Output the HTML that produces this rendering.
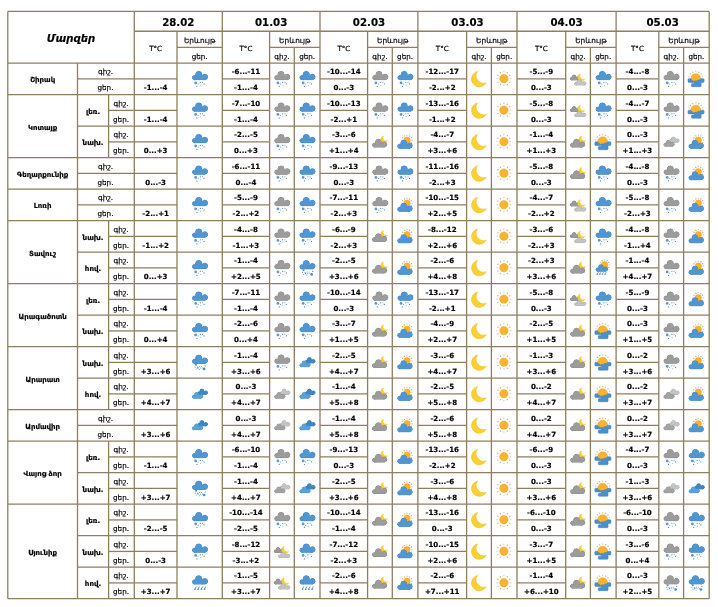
<!DOCTYPE html>
<html><head><meta charset="utf-8"><title>Մարզեր</title>
<style>
html,body{margin:0;padding:0;background:#fff;width:718px;height:607px;overflow:hidden}
svg{display:block}
text{font-family:'DejaVu Sans', 'Liberation Sans', sans-serif;fill:#000;text-anchor:middle;stroke:#000;stroke-width:0.18px}
</style></head><body>
<svg width="718" height="607" viewBox="0 0 718 607">
<rect width="718" height="607" fill="#fff"/>
<g><g transform="translate(199.65 78.9)"><g transform="translate(0 0) scale(1)"><g fill="#3c80bf" stroke="#3c80bf" stroke-width="0.8"><circle cx="-5.1" cy="-1.3" r="2.1"/><circle cx="-0.9" cy="-4.4" r="3.1"/><circle cx="5.2" cy="-2" r="2.7"/><rect x="-5.1" y="-2.6" width="10.3" height="3.4"/></g><g fill="#4f96d2"><circle cx="-5.1" cy="-1.3" r="2.1"/><circle cx="-0.9" cy="-4.4" r="3.1"/><circle cx="5.2" cy="-2" r="2.7"/><rect x="-5.1" y="-2.6" width="10.3" height="3.4"/></g></g><g fill="#4a88c0"><circle cx="-4" cy="4" r="1.4" fill="#5e98cc"/><circle cx="0.7" cy="3.4" r="0.6"/><circle cx="2.9" cy="3.4" r="0.5"/><circle cx="-1.5" cy="5.2" r="0.5"/><circle cx="4.4" cy="5" r="0.6"/><circle cx="1" cy="6.3" r="0.45"/><circle cx="-2.7" cy="7.5" r="0.6"/></g></g><g transform="translate(281.95 78.9)"><g transform="translate(0 0) scale(1)"><g fill="#828282" stroke="#828282" stroke-width="0.8"><circle cx="-5.1" cy="-1.3" r="2.1"/><circle cx="-0.9" cy="-4.4" r="3.1"/><circle cx="5.2" cy="-2" r="2.7"/><rect x="-5.1" y="-2.6" width="10.3" height="3.4"/></g><g fill="#9c9c9c"><circle cx="-5.1" cy="-1.3" r="2.1"/><circle cx="-0.9" cy="-4.4" r="3.1"/><circle cx="5.2" cy="-2" r="2.7"/><rect x="-5.1" y="-2.6" width="10.3" height="3.4"/></g></g><g fill="#4a88c0"><circle cx="-4" cy="4" r="1.4" fill="#5e98cc"/><circle cx="0.7" cy="3.4" r="0.6"/><circle cx="2.9" cy="3.4" r="0.5"/><circle cx="-1.5" cy="5.2" r="0.5"/><circle cx="4.4" cy="5" r="0.6"/><circle cx="1" cy="6.3" r="0.45"/><circle cx="-2.7" cy="7.5" r="0.6"/></g></g><g transform="translate(307.15 78.9)"><g transform="translate(0 0) scale(1)"><g fill="#3c80bf" stroke="#3c80bf" stroke-width="0.8"><circle cx="-5.1" cy="-1.3" r="2.1"/><circle cx="-0.9" cy="-4.4" r="3.1"/><circle cx="5.2" cy="-2" r="2.7"/><rect x="-5.1" y="-2.6" width="10.3" height="3.4"/></g><g fill="#4f96d2"><circle cx="-5.1" cy="-1.3" r="2.1"/><circle cx="-0.9" cy="-4.4" r="3.1"/><circle cx="5.2" cy="-2" r="2.7"/><rect x="-5.1" y="-2.6" width="10.3" height="3.4"/></g></g><g fill="#4a88c0"><circle cx="-4" cy="4" r="1.4" fill="#5e98cc"/><circle cx="0.7" cy="3.4" r="0.6"/><circle cx="2.9" cy="3.4" r="0.5"/><circle cx="-1.5" cy="5.2" r="0.5"/><circle cx="4.4" cy="5" r="0.6"/><circle cx="1" cy="6.3" r="0.45"/><circle cx="-2.7" cy="7.5" r="0.6"/></g></g><g transform="translate(379.95 78.9)"><g transform="translate(0 0) scale(1)"><g fill="#828282" stroke="#828282" stroke-width="0.8"><circle cx="-5.1" cy="-1.3" r="2.1"/><circle cx="-0.9" cy="-4.4" r="3.1"/><circle cx="5.2" cy="-2" r="2.7"/><rect x="-5.1" y="-2.6" width="10.3" height="3.4"/></g><g fill="#9c9c9c"><circle cx="-5.1" cy="-1.3" r="2.1"/><circle cx="-0.9" cy="-4.4" r="3.1"/><circle cx="5.2" cy="-2" r="2.7"/><rect x="-5.1" y="-2.6" width="10.3" height="3.4"/></g></g><g fill="#4a88c0"><circle cx="-4" cy="4" r="1.4" fill="#5e98cc"/><circle cx="0.7" cy="3.4" r="0.6"/><circle cx="2.9" cy="3.4" r="0.5"/><circle cx="-1.5" cy="5.2" r="0.5"/><circle cx="4.4" cy="5" r="0.6"/><circle cx="1" cy="6.3" r="0.45"/><circle cx="-2.7" cy="7.5" r="0.6"/></g></g><g transform="translate(405.1 78.9)"><g transform="translate(0 0) scale(1)"><g fill="#3c80bf" stroke="#3c80bf" stroke-width="0.8"><circle cx="-5.1" cy="-1.3" r="2.1"/><circle cx="-0.9" cy="-4.4" r="3.1"/><circle cx="5.2" cy="-2" r="2.7"/><rect x="-5.1" y="-2.6" width="10.3" height="3.4"/></g><g fill="#4f96d2"><circle cx="-5.1" cy="-1.3" r="2.1"/><circle cx="-0.9" cy="-4.4" r="3.1"/><circle cx="5.2" cy="-2" r="2.7"/><rect x="-5.1" y="-2.6" width="10.3" height="3.4"/></g></g><g fill="#4a88c0"><circle cx="-4" cy="4" r="1.4" fill="#5e98cc"/><circle cx="0.7" cy="3.4" r="0.6"/><circle cx="2.9" cy="3.4" r="0.5"/><circle cx="-1.5" cy="5.2" r="0.5"/><circle cx="4.4" cy="5" r="0.6"/><circle cx="1" cy="6.3" r="0.45"/><circle cx="-2.7" cy="7.5" r="0.6"/></g></g><g transform="translate(479 78.9)"><path d="M7.21 3.73A7.8 7.8 0 1 1 -1.42 -7.51A7.4 7.4 0 0 0 7.21 3.73Z" fill="#fcd02f" stroke="#e8b820" stroke-width="0.5"/></g><g transform="translate(504.2 78.9)"><circle cx="6.6" cy="-0.25" r="0.7" fill="#d7c9b4"/><circle cx="5.68" cy="3.2" r="0.7" fill="#d9a86a"/><circle cx="3.15" cy="5.73" r="0.7" fill="#d9a86a"/><circle cx="-0.3" cy="6.65" r="0.7" fill="#d7c9b4"/><circle cx="-3.75" cy="5.73" r="0.7" fill="#d9a86a"/><circle cx="-6.28" cy="3.2" r="0.7" fill="#d9a86a"/><circle cx="-7.2" cy="-0.25" r="0.7" fill="#d7c9b4"/><circle cx="-6.28" cy="-3.7" r="0.7" fill="#d9a86a"/><circle cx="-3.75" cy="-6.23" r="0.7" fill="#d9a86a"/><circle cx="-0.3" cy="-7.15" r="0.7" fill="#d7c9b4"/><circle cx="3.15" cy="-6.23" r="0.7" fill="#d9a86a"/><circle cx="5.68" cy="-3.7" r="0.7" fill="#d9a86a"/><circle cx="-0.3" cy="-0.25" r="4.2" fill="#fdb32b" stroke="#f0a020" stroke-width="0.5"/></g><g transform="translate(578.05 78.9)"><g transform="translate(-3.4 0.6) scale(0.6)"><g fill="#858585" stroke="#858585" stroke-width="1.33"><circle cx="-5.1" cy="-1.3" r="2.1"/><circle cx="-0.9" cy="-4.4" r="3.1"/><circle cx="5.2" cy="-2" r="2.7"/><rect x="-5.1" y="-2.6" width="10.3" height="3.4"/></g><g fill="#9a9a9a"><circle cx="-5.1" cy="-1.3" r="2.1"/><circle cx="-0.9" cy="-4.4" r="3.1"/><circle cx="5.2" cy="-2" r="2.7"/><rect x="-5.1" y="-2.6" width="10.3" height="3.4"/></g></g><path d="M6.82 -0.03A3.8 3.8 0 1 1 2.34 -5.35A3.6 3.6 0 0 0 6.82 -0.03Z" fill="#fcd02f" stroke="#e8b820" stroke-width="0.3"/><g transform="translate(1.9 5.6) scale(1.25 1)"><g transform="translate(0 0) scale(0.6)"><g fill="#ababab" stroke="#ababab" stroke-width="1.33"><circle cx="-5.1" cy="-1.3" r="2.1"/><circle cx="-0.9" cy="-4.4" r="3.1"/><circle cx="5.2" cy="-2" r="2.7"/><rect x="-5.1" y="-2.6" width="10.3" height="3.4"/></g><g fill="#c4c4c4"><circle cx="-5.1" cy="-1.3" r="2.1"/><circle cx="-0.9" cy="-4.4" r="3.1"/><circle cx="5.2" cy="-2" r="2.7"/><rect x="-5.1" y="-2.6" width="10.3" height="3.4"/></g></g></g></g><g transform="translate(603.25 78.9)"><g transform="translate(0 0) scale(1)"><g fill="#3c80bf" stroke="#3c80bf" stroke-width="0.8"><circle cx="-5.1" cy="-1.3" r="2.1"/><circle cx="-0.9" cy="-4.4" r="3.1"/><circle cx="5.2" cy="-2" r="2.7"/><rect x="-5.1" y="-2.6" width="10.3" height="3.4"/></g><g fill="#4f96d2"><circle cx="-5.1" cy="-1.3" r="2.1"/><circle cx="-0.9" cy="-4.4" r="3.1"/><circle cx="5.2" cy="-2" r="2.7"/><rect x="-5.1" y="-2.6" width="10.3" height="3.4"/></g></g><g fill="#4a88c0"><circle cx="-4" cy="4" r="1.4" fill="#5e98cc"/><circle cx="0.7" cy="3.4" r="0.6"/><circle cx="2.9" cy="3.4" r="0.5"/><circle cx="-1.5" cy="5.2" r="0.5"/><circle cx="4.4" cy="5" r="0.6"/><circle cx="1" cy="6.3" r="0.45"/><circle cx="-2.7" cy="7.5" r="0.6"/></g></g><g transform="translate(671.2 78.9)"><g transform="translate(0 0) scale(1)"><g fill="#828282" stroke="#828282" stroke-width="0.8"><circle cx="-5.1" cy="-1.3" r="2.1"/><circle cx="-0.9" cy="-4.4" r="3.1"/><circle cx="5.2" cy="-2" r="2.7"/><rect x="-5.1" y="-2.6" width="10.3" height="3.4"/></g><g fill="#9c9c9c"><circle cx="-5.1" cy="-1.3" r="2.1"/><circle cx="-0.9" cy="-4.4" r="3.1"/><circle cx="5.2" cy="-2" r="2.7"/><rect x="-5.1" y="-2.6" width="10.3" height="3.4"/></g></g><g fill="#4a88c0"><circle cx="-4" cy="4" r="1.4" fill="#5e98cc"/><circle cx="0.7" cy="3.4" r="0.6"/><circle cx="2.9" cy="3.4" r="0.5"/><circle cx="-1.5" cy="5.2" r="0.5"/><circle cx="4.4" cy="5" r="0.6"/><circle cx="1" cy="6.3" r="0.45"/><circle cx="-2.7" cy="7.5" r="0.6"/></g></g><g transform="translate(696.4 78.9)"><circle cx="6.23" cy="-2.41" r="0.7" fill="#d7c9b4"/><circle cx="4.73" cy="-5.01" r="0.7" fill="#d9a86a"/><circle cx="2.31" cy="-6.77" r="0.7" fill="#d9a86a"/><circle cx="-0.62" cy="-7.39" r="0.7" fill="#d7c9b4"/><circle cx="-3.55" cy="-6.77" r="0.7" fill="#d9a86a"/><circle cx="-5.97" cy="-5.01" r="0.7" fill="#d9a86a"/><circle cx="-7.47" cy="-2.41" r="0.7" fill="#d7c9b4"/><path d="M-5.62 -0.19A5 5 0 0 1 4.38 -0.19V3H-5.62Z" fill="#fdb32b" stroke="#f0a020" stroke-width="0.5"/><path d="M-8.4 0.6Q-8.4 -0.2 -7.6 -0.2H-5.6L-4.9 1.3L-3.6 1.6L-2.6 2.5L-1.4 1.9L0.2 2.0L1.4 1.2L3.2 1.0L4.4 -0.2H6.9Q7.7 -0.2 7.7 0.8V2.6Q7.7 3.5 6.7 3.5H4.8V7Q4.8 7.8 4 7.8H-4.2Q-4.96 7.8 -4.96 7V5.5Q-4.96 4.7 -4.2 4.7H-2.07V3.5H-7.6Q-8.4 3.5 -8.4 2.8Z" fill="#4a90cc" stroke="#3b7fbd" stroke-width="0.5"/></g><g transform="translate(199.65 110.4)"><g transform="translate(0 0) scale(1)"><g fill="#3c80bf" stroke="#3c80bf" stroke-width="0.8"><circle cx="-5.1" cy="-1.3" r="2.1"/><circle cx="-0.9" cy="-4.4" r="3.1"/><circle cx="5.2" cy="-2" r="2.7"/><rect x="-5.1" y="-2.6" width="10.3" height="3.4"/></g><g fill="#4f96d2"><circle cx="-5.1" cy="-1.3" r="2.1"/><circle cx="-0.9" cy="-4.4" r="3.1"/><circle cx="5.2" cy="-2" r="2.7"/><rect x="-5.1" y="-2.6" width="10.3" height="3.4"/></g></g><g fill="#4a88c0"><circle cx="-4" cy="4" r="1.4" fill="#5e98cc"/><circle cx="0.7" cy="3.4" r="0.6"/><circle cx="2.9" cy="3.4" r="0.5"/><circle cx="-1.5" cy="5.2" r="0.5"/><circle cx="4.4" cy="5" r="0.6"/><circle cx="1" cy="6.3" r="0.45"/><circle cx="-2.7" cy="7.5" r="0.6"/></g></g><g transform="translate(281.95 110.4)"><g transform="translate(0 0) scale(1)"><g fill="#828282" stroke="#828282" stroke-width="0.8"><circle cx="-5.1" cy="-1.3" r="2.1"/><circle cx="-0.9" cy="-4.4" r="3.1"/><circle cx="5.2" cy="-2" r="2.7"/><rect x="-5.1" y="-2.6" width="10.3" height="3.4"/></g><g fill="#9c9c9c"><circle cx="-5.1" cy="-1.3" r="2.1"/><circle cx="-0.9" cy="-4.4" r="3.1"/><circle cx="5.2" cy="-2" r="2.7"/><rect x="-5.1" y="-2.6" width="10.3" height="3.4"/></g></g><g fill="#4a88c0"><circle cx="-4" cy="4" r="1.4" fill="#5e98cc"/><circle cx="0.7" cy="3.4" r="0.6"/><circle cx="2.9" cy="3.4" r="0.5"/><circle cx="-1.5" cy="5.2" r="0.5"/><circle cx="4.4" cy="5" r="0.6"/><circle cx="1" cy="6.3" r="0.45"/><circle cx="-2.7" cy="7.5" r="0.6"/></g></g><g transform="translate(307.15 110.4)"><g transform="translate(0 0) scale(1)"><g fill="#3c80bf" stroke="#3c80bf" stroke-width="0.8"><circle cx="-5.1" cy="-1.3" r="2.1"/><circle cx="-0.9" cy="-4.4" r="3.1"/><circle cx="5.2" cy="-2" r="2.7"/><rect x="-5.1" y="-2.6" width="10.3" height="3.4"/></g><g fill="#4f96d2"><circle cx="-5.1" cy="-1.3" r="2.1"/><circle cx="-0.9" cy="-4.4" r="3.1"/><circle cx="5.2" cy="-2" r="2.7"/><rect x="-5.1" y="-2.6" width="10.3" height="3.4"/></g></g><g fill="#4a88c0"><circle cx="-4" cy="4" r="1.4" fill="#5e98cc"/><circle cx="0.7" cy="3.4" r="0.6"/><circle cx="2.9" cy="3.4" r="0.5"/><circle cx="-1.5" cy="5.2" r="0.5"/><circle cx="4.4" cy="5" r="0.6"/><circle cx="1" cy="6.3" r="0.45"/><circle cx="-2.7" cy="7.5" r="0.6"/></g></g><g transform="translate(379.95 110.4)"><g transform="translate(0 0) scale(1)"><g fill="#828282" stroke="#828282" stroke-width="0.8"><circle cx="-5.1" cy="-1.3" r="2.1"/><circle cx="-0.9" cy="-4.4" r="3.1"/><circle cx="5.2" cy="-2" r="2.7"/><rect x="-5.1" y="-2.6" width="10.3" height="3.4"/></g><g fill="#9c9c9c"><circle cx="-5.1" cy="-1.3" r="2.1"/><circle cx="-0.9" cy="-4.4" r="3.1"/><circle cx="5.2" cy="-2" r="2.7"/><rect x="-5.1" y="-2.6" width="10.3" height="3.4"/></g></g><g fill="#4a88c0"><circle cx="-4" cy="4" r="1.4" fill="#5e98cc"/><circle cx="0.7" cy="3.4" r="0.6"/><circle cx="2.9" cy="3.4" r="0.5"/><circle cx="-1.5" cy="5.2" r="0.5"/><circle cx="4.4" cy="5" r="0.6"/><circle cx="1" cy="6.3" r="0.45"/><circle cx="-2.7" cy="7.5" r="0.6"/></g></g><g transform="translate(405.1 110.4)"><g transform="translate(0 0) scale(1)"><g fill="#3c80bf" stroke="#3c80bf" stroke-width="0.8"><circle cx="-5.1" cy="-1.3" r="2.1"/><circle cx="-0.9" cy="-4.4" r="3.1"/><circle cx="5.2" cy="-2" r="2.7"/><rect x="-5.1" y="-2.6" width="10.3" height="3.4"/></g><g fill="#4f96d2"><circle cx="-5.1" cy="-1.3" r="2.1"/><circle cx="-0.9" cy="-4.4" r="3.1"/><circle cx="5.2" cy="-2" r="2.7"/><rect x="-5.1" y="-2.6" width="10.3" height="3.4"/></g></g><g fill="#4a88c0"><circle cx="-4" cy="4" r="1.4" fill="#5e98cc"/><circle cx="0.7" cy="3.4" r="0.6"/><circle cx="2.9" cy="3.4" r="0.5"/><circle cx="-1.5" cy="5.2" r="0.5"/><circle cx="4.4" cy="5" r="0.6"/><circle cx="1" cy="6.3" r="0.45"/><circle cx="-2.7" cy="7.5" r="0.6"/></g></g><g transform="translate(479 110.4)"><path d="M7.21 3.73A7.8 7.8 0 1 1 -1.42 -7.51A7.4 7.4 0 0 0 7.21 3.73Z" fill="#fcd02f" stroke="#e8b820" stroke-width="0.5"/></g><g transform="translate(504.2 110.4)"><circle cx="6.6" cy="-0.25" r="0.7" fill="#d7c9b4"/><circle cx="5.68" cy="3.2" r="0.7" fill="#d9a86a"/><circle cx="3.15" cy="5.73" r="0.7" fill="#d9a86a"/><circle cx="-0.3" cy="6.65" r="0.7" fill="#d7c9b4"/><circle cx="-3.75" cy="5.73" r="0.7" fill="#d9a86a"/><circle cx="-6.28" cy="3.2" r="0.7" fill="#d9a86a"/><circle cx="-7.2" cy="-0.25" r="0.7" fill="#d7c9b4"/><circle cx="-6.28" cy="-3.7" r="0.7" fill="#d9a86a"/><circle cx="-3.75" cy="-6.23" r="0.7" fill="#d9a86a"/><circle cx="-0.3" cy="-7.15" r="0.7" fill="#d7c9b4"/><circle cx="3.15" cy="-6.23" r="0.7" fill="#d9a86a"/><circle cx="5.68" cy="-3.7" r="0.7" fill="#d9a86a"/><circle cx="-0.3" cy="-0.25" r="4.2" fill="#fdb32b" stroke="#f0a020" stroke-width="0.5"/></g><g transform="translate(578.05 110.4)"><g transform="translate(-3.4 0.6) scale(0.6)"><g fill="#858585" stroke="#858585" stroke-width="1.33"><circle cx="-5.1" cy="-1.3" r="2.1"/><circle cx="-0.9" cy="-4.4" r="3.1"/><circle cx="5.2" cy="-2" r="2.7"/><rect x="-5.1" y="-2.6" width="10.3" height="3.4"/></g><g fill="#9a9a9a"><circle cx="-5.1" cy="-1.3" r="2.1"/><circle cx="-0.9" cy="-4.4" r="3.1"/><circle cx="5.2" cy="-2" r="2.7"/><rect x="-5.1" y="-2.6" width="10.3" height="3.4"/></g></g><path d="M6.82 -0.03A3.8 3.8 0 1 1 2.34 -5.35A3.6 3.6 0 0 0 6.82 -0.03Z" fill="#fcd02f" stroke="#e8b820" stroke-width="0.3"/><g transform="translate(1.9 5.6) scale(1.25 1)"><g transform="translate(0 0) scale(0.6)"><g fill="#ababab" stroke="#ababab" stroke-width="1.33"><circle cx="-5.1" cy="-1.3" r="2.1"/><circle cx="-0.9" cy="-4.4" r="3.1"/><circle cx="5.2" cy="-2" r="2.7"/><rect x="-5.1" y="-2.6" width="10.3" height="3.4"/></g><g fill="#c4c4c4"><circle cx="-5.1" cy="-1.3" r="2.1"/><circle cx="-0.9" cy="-4.4" r="3.1"/><circle cx="5.2" cy="-2" r="2.7"/><rect x="-5.1" y="-2.6" width="10.3" height="3.4"/></g></g></g></g><g transform="translate(603.25 110.4)"><g transform="translate(0 0) scale(1)"><g fill="#3c80bf" stroke="#3c80bf" stroke-width="0.8"><circle cx="-5.1" cy="-1.3" r="2.1"/><circle cx="-0.9" cy="-4.4" r="3.1"/><circle cx="5.2" cy="-2" r="2.7"/><rect x="-5.1" y="-2.6" width="10.3" height="3.4"/></g><g fill="#4f96d2"><circle cx="-5.1" cy="-1.3" r="2.1"/><circle cx="-0.9" cy="-4.4" r="3.1"/><circle cx="5.2" cy="-2" r="2.7"/><rect x="-5.1" y="-2.6" width="10.3" height="3.4"/></g></g><g fill="#4a88c0"><circle cx="-4" cy="4" r="1.4" fill="#5e98cc"/><circle cx="0.7" cy="3.4" r="0.6"/><circle cx="2.9" cy="3.4" r="0.5"/><circle cx="-1.5" cy="5.2" r="0.5"/><circle cx="4.4" cy="5" r="0.6"/><circle cx="1" cy="6.3" r="0.45"/><circle cx="-2.7" cy="7.5" r="0.6"/></g></g><g transform="translate(671.2 110.4)"><g transform="translate(0 0) scale(1)"><g fill="#828282" stroke="#828282" stroke-width="0.8"><circle cx="-5.1" cy="-1.3" r="2.1"/><circle cx="-0.9" cy="-4.4" r="3.1"/><circle cx="5.2" cy="-2" r="2.7"/><rect x="-5.1" y="-2.6" width="10.3" height="3.4"/></g><g fill="#9c9c9c"><circle cx="-5.1" cy="-1.3" r="2.1"/><circle cx="-0.9" cy="-4.4" r="3.1"/><circle cx="5.2" cy="-2" r="2.7"/><rect x="-5.1" y="-2.6" width="10.3" height="3.4"/></g></g><g fill="#4a88c0"><circle cx="-4" cy="4" r="1.4" fill="#5e98cc"/><circle cx="0.7" cy="3.4" r="0.6"/><circle cx="2.9" cy="3.4" r="0.5"/><circle cx="-1.5" cy="5.2" r="0.5"/><circle cx="4.4" cy="5" r="0.6"/><circle cx="1" cy="6.3" r="0.45"/><circle cx="-2.7" cy="7.5" r="0.6"/></g></g><g transform="translate(696.4 110.4)"><circle cx="6.23" cy="-2.41" r="0.7" fill="#d7c9b4"/><circle cx="4.73" cy="-5.01" r="0.7" fill="#d9a86a"/><circle cx="2.31" cy="-6.77" r="0.7" fill="#d9a86a"/><circle cx="-0.62" cy="-7.39" r="0.7" fill="#d7c9b4"/><circle cx="-3.55" cy="-6.77" r="0.7" fill="#d9a86a"/><circle cx="-5.97" cy="-5.01" r="0.7" fill="#d9a86a"/><circle cx="-7.47" cy="-2.41" r="0.7" fill="#d7c9b4"/><path d="M-5.62 -0.19A5 5 0 0 1 4.38 -0.19V3H-5.62Z" fill="#fdb32b" stroke="#f0a020" stroke-width="0.5"/><path d="M-8.4 0.6Q-8.4 -0.2 -7.6 -0.2H-5.6L-4.9 1.3L-3.6 1.6L-2.6 2.5L-1.4 1.9L0.2 2.0L1.4 1.2L3.2 1.0L4.4 -0.2H6.9Q7.7 -0.2 7.7 0.8V2.6Q7.7 3.5 6.7 3.5H4.8V7Q4.8 7.8 4 7.8H-4.2Q-4.96 7.8 -4.96 7V5.5Q-4.96 4.7 -4.2 4.7H-2.07V3.5H-7.6Q-8.4 3.5 -8.4 2.8Z" fill="#4a90cc" stroke="#3b7fbd" stroke-width="0.5"/></g><g transform="translate(199.65 141.91)"><g transform="translate(0 0) scale(1)"><g fill="#3c80bf" stroke="#3c80bf" stroke-width="0.8"><circle cx="-5.1" cy="-1.3" r="2.1"/><circle cx="-0.9" cy="-4.4" r="3.1"/><circle cx="5.2" cy="-2" r="2.7"/><rect x="-5.1" y="-2.6" width="10.3" height="3.4"/></g><g fill="#4f96d2"><circle cx="-5.1" cy="-1.3" r="2.1"/><circle cx="-0.9" cy="-4.4" r="3.1"/><circle cx="5.2" cy="-2" r="2.7"/><rect x="-5.1" y="-2.6" width="10.3" height="3.4"/></g></g><g fill="#4a88c0"><circle cx="-4" cy="4" r="1.4" fill="#5e98cc"/><circle cx="0.7" cy="3.4" r="0.6"/><circle cx="2.9" cy="3.4" r="0.5"/><circle cx="-1.5" cy="5.2" r="0.5"/><circle cx="4.4" cy="5" r="0.6"/><circle cx="1" cy="6.3" r="0.45"/><circle cx="-2.7" cy="7.5" r="0.6"/></g></g><g transform="translate(281.95 141.91)"><g transform="translate(0 0) scale(1)"><g fill="#828282" stroke="#828282" stroke-width="0.8"><circle cx="-5.1" cy="-1.3" r="2.1"/><circle cx="-0.9" cy="-4.4" r="3.1"/><circle cx="5.2" cy="-2" r="2.7"/><rect x="-5.1" y="-2.6" width="10.3" height="3.4"/></g><g fill="#9c9c9c"><circle cx="-5.1" cy="-1.3" r="2.1"/><circle cx="-0.9" cy="-4.4" r="3.1"/><circle cx="5.2" cy="-2" r="2.7"/><rect x="-5.1" y="-2.6" width="10.3" height="3.4"/></g></g><g fill="#4a88c0"><circle cx="-4" cy="4" r="1.4" fill="#5e98cc"/><circle cx="0.7" cy="3.4" r="0.6"/><circle cx="2.9" cy="3.4" r="0.5"/><circle cx="-1.5" cy="5.2" r="0.5"/><circle cx="4.4" cy="5" r="0.6"/><circle cx="1" cy="6.3" r="0.45"/><circle cx="-2.7" cy="7.5" r="0.6"/></g></g><g transform="translate(307.15 141.91)"><g transform="translate(0 0) scale(1)"><g fill="#3c80bf" stroke="#3c80bf" stroke-width="0.8"><circle cx="-5.1" cy="-1.3" r="2.1"/><circle cx="-0.9" cy="-4.4" r="3.1"/><circle cx="5.2" cy="-2" r="2.7"/><rect x="-5.1" y="-2.6" width="10.3" height="3.4"/></g><g fill="#4f96d2"><circle cx="-5.1" cy="-1.3" r="2.1"/><circle cx="-0.9" cy="-4.4" r="3.1"/><circle cx="5.2" cy="-2" r="2.7"/><rect x="-5.1" y="-2.6" width="10.3" height="3.4"/></g></g><g fill="#4a88c0"><circle cx="-4" cy="4" r="1.4" fill="#5e98cc"/><circle cx="0.7" cy="3.4" r="0.6"/><circle cx="2.9" cy="3.4" r="0.5"/><circle cx="-1.5" cy="5.2" r="0.5"/><circle cx="4.4" cy="5" r="0.6"/><circle cx="1" cy="6.3" r="0.45"/><circle cx="-2.7" cy="7.5" r="0.6"/></g></g><g transform="translate(379.95 141.91)"><path d="M7.57 -1.36A3.5 3.5 0 1 1 3.61 -6.03A3.2 3.2 0 0 0 7.57 -1.36Z" fill="#fcd02f" stroke="#e8b820" stroke-width="0.3"/><g transform="translate(-0.7 4.4) scale(0.94)"><g fill="#828282" stroke="#828282" stroke-width="0.85"><circle cx="-5.1" cy="-1.3" r="2.1"/><circle cx="-0.9" cy="-4.4" r="3.1"/><circle cx="5.2" cy="-2" r="2.7"/><rect x="-5.1" y="-2.6" width="10.3" height="3.4"/></g><g fill="#9c9c9c"><circle cx="-5.1" cy="-1.3" r="2.1"/><circle cx="-0.9" cy="-4.4" r="3.1"/><circle cx="5.2" cy="-2" r="2.7"/><rect x="-5.1" y="-2.6" width="10.3" height="3.4"/></g></g></g><g transform="translate(405.1 141.91)"><circle cx="6.9" cy="-1.7" r="0.7" fill="#d7c9b4"/><circle cx="6.23" cy="0.8" r="0.7" fill="#d9a86a"/><circle cx="4.4" cy="2.63" r="0.7" fill="#d9a86a"/><circle cx="1.9" cy="3.3" r="0.7" fill="#d7c9b4"/><circle cx="-0.6" cy="2.63" r="0.7" fill="#d9a86a"/><circle cx="-2.43" cy="0.8" r="0.7" fill="#d9a86a"/><circle cx="-3.1" cy="-1.7" r="0.7" fill="#d7c9b4"/><circle cx="-2.43" cy="-4.2" r="0.7" fill="#d9a86a"/><circle cx="-0.6" cy="-6.03" r="0.7" fill="#d9a86a"/><circle cx="1.9" cy="-6.7" r="0.7" fill="#d7c9b4"/><circle cx="4.4" cy="-6.03" r="0.7" fill="#d9a86a"/><circle cx="6.23" cy="-4.2" r="0.7" fill="#d9a86a"/><circle cx="1.9" cy="-1.7" r="3.2" fill="#fdb32b" stroke="#f0a020" stroke-width="0.5"/><g transform="translate(-0.5 5.6) scale(0.96)"><g fill="#3c80bf" stroke="#3c80bf" stroke-width="0.83"><circle cx="-5.1" cy="-1.3" r="2.1"/><circle cx="-0.9" cy="-4.4" r="3.1"/><circle cx="5.2" cy="-2" r="2.7"/><rect x="-5.1" y="-2.6" width="10.3" height="3.4"/></g><g fill="#4f96d2"><circle cx="-5.1" cy="-1.3" r="2.1"/><circle cx="-0.9" cy="-4.4" r="3.1"/><circle cx="5.2" cy="-2" r="2.7"/><rect x="-5.1" y="-2.6" width="10.3" height="3.4"/></g></g></g><g transform="translate(479 141.91)"><path d="M7.21 3.73A7.8 7.8 0 1 1 -1.42 -7.51A7.4 7.4 0 0 0 7.21 3.73Z" fill="#fcd02f" stroke="#e8b820" stroke-width="0.5"/></g><g transform="translate(504.2 141.91)"><circle cx="6.6" cy="-0.25" r="0.7" fill="#d7c9b4"/><circle cx="5.68" cy="3.2" r="0.7" fill="#d9a86a"/><circle cx="3.15" cy="5.73" r="0.7" fill="#d9a86a"/><circle cx="-0.3" cy="6.65" r="0.7" fill="#d7c9b4"/><circle cx="-3.75" cy="5.73" r="0.7" fill="#d9a86a"/><circle cx="-6.28" cy="3.2" r="0.7" fill="#d9a86a"/><circle cx="-7.2" cy="-0.25" r="0.7" fill="#d7c9b4"/><circle cx="-6.28" cy="-3.7" r="0.7" fill="#d9a86a"/><circle cx="-3.75" cy="-6.23" r="0.7" fill="#d9a86a"/><circle cx="-0.3" cy="-7.15" r="0.7" fill="#d7c9b4"/><circle cx="3.15" cy="-6.23" r="0.7" fill="#d9a86a"/><circle cx="5.68" cy="-3.7" r="0.7" fill="#d9a86a"/><circle cx="-0.3" cy="-0.25" r="4.2" fill="#fdb32b" stroke="#f0a020" stroke-width="0.5"/></g><g transform="translate(578.05 141.91)"><path d="M7.57 -1.36A3.5 3.5 0 1 1 3.61 -6.03A3.2 3.2 0 0 0 7.57 -1.36Z" fill="#fcd02f" stroke="#e8b820" stroke-width="0.3"/><g transform="translate(-0.7 4.4) scale(0.94)"><g fill="#828282" stroke="#828282" stroke-width="0.85"><circle cx="-5.1" cy="-1.3" r="2.1"/><circle cx="-0.9" cy="-4.4" r="3.1"/><circle cx="5.2" cy="-2" r="2.7"/><rect x="-5.1" y="-2.6" width="10.3" height="3.4"/></g><g fill="#9c9c9c"><circle cx="-5.1" cy="-1.3" r="2.1"/><circle cx="-0.9" cy="-4.4" r="3.1"/><circle cx="5.2" cy="-2" r="2.7"/><rect x="-5.1" y="-2.6" width="10.3" height="3.4"/></g></g></g><g transform="translate(603.25 141.91)"><circle cx="6.23" cy="-2.41" r="0.7" fill="#d7c9b4"/><circle cx="4.73" cy="-5.01" r="0.7" fill="#d9a86a"/><circle cx="2.31" cy="-6.77" r="0.7" fill="#d9a86a"/><circle cx="-0.62" cy="-7.39" r="0.7" fill="#d7c9b4"/><circle cx="-3.55" cy="-6.77" r="0.7" fill="#d9a86a"/><circle cx="-5.97" cy="-5.01" r="0.7" fill="#d9a86a"/><circle cx="-7.47" cy="-2.41" r="0.7" fill="#d7c9b4"/><path d="M-5.62 -0.19A5 5 0 0 1 4.38 -0.19V3H-5.62Z" fill="#fdb32b" stroke="#f0a020" stroke-width="0.5"/><path d="M-8.4 0.6Q-8.4 -0.2 -7.6 -0.2H-5.6L-4.9 1.3L-3.6 1.6L-2.6 2.5L-1.4 1.9L0.2 2.0L1.4 1.2L3.2 1.0L4.4 -0.2H6.9Q7.7 -0.2 7.7 0.8V2.6Q7.7 3.5 6.7 3.5H4.8V7Q4.8 7.8 4 7.8H-4.2Q-4.96 7.8 -4.96 7V5.5Q-4.96 4.7 -4.2 4.7H-2.07V3.5H-7.6Q-8.4 3.5 -8.4 2.8Z" fill="#4a90cc" stroke="#3b7fbd" stroke-width="0.5"/></g><g transform="translate(671.2 141.91)"><g transform="translate(2.85 0) scale(0.64)"><g fill="#ababab" stroke="#ababab" stroke-width="1.25"><circle cx="-5.1" cy="-1.3" r="2.1"/><circle cx="-0.9" cy="-4.4" r="3.1"/><circle cx="5.2" cy="-2" r="2.7"/><rect x="-5.1" y="-2.6" width="10.3" height="3.4"/></g><g fill="#c4c4c4"><circle cx="-5.1" cy="-1.3" r="2.1"/><circle cx="-0.9" cy="-4.4" r="3.1"/><circle cx="5.2" cy="-2" r="2.7"/><rect x="-5.1" y="-2.6" width="10.3" height="3.4"/></g></g><g transform="translate(-2.37 3.75) scale(0.69)"><g fill="#8e8e8e" stroke="#8e8e8e" stroke-width="1.16"><circle cx="-5.1" cy="-1.3" r="2.1"/><circle cx="-0.9" cy="-4.4" r="3.1"/><circle cx="5.2" cy="-2" r="2.7"/><rect x="-5.1" y="-2.6" width="10.3" height="3.4"/></g><g fill="#a3a3a3"><circle cx="-5.1" cy="-1.3" r="2.1"/><circle cx="-0.9" cy="-4.4" r="3.1"/><circle cx="5.2" cy="-2" r="2.7"/><rect x="-5.1" y="-2.6" width="10.3" height="3.4"/></g></g></g><g transform="translate(696.4 141.91)"><circle cx="6.9" cy="-1.7" r="0.7" fill="#d7c9b4"/><circle cx="6.23" cy="0.8" r="0.7" fill="#d9a86a"/><circle cx="4.4" cy="2.63" r="0.7" fill="#d9a86a"/><circle cx="1.9" cy="3.3" r="0.7" fill="#d7c9b4"/><circle cx="-0.6" cy="2.63" r="0.7" fill="#d9a86a"/><circle cx="-2.43" cy="0.8" r="0.7" fill="#d9a86a"/><circle cx="-3.1" cy="-1.7" r="0.7" fill="#d7c9b4"/><circle cx="-2.43" cy="-4.2" r="0.7" fill="#d9a86a"/><circle cx="-0.6" cy="-6.03" r="0.7" fill="#d9a86a"/><circle cx="1.9" cy="-6.7" r="0.7" fill="#d7c9b4"/><circle cx="4.4" cy="-6.03" r="0.7" fill="#d9a86a"/><circle cx="6.23" cy="-4.2" r="0.7" fill="#d9a86a"/><circle cx="1.9" cy="-1.7" r="3.2" fill="#fdb32b" stroke="#f0a020" stroke-width="0.5"/><g transform="translate(-0.5 5.6) scale(0.96)"><g fill="#3c80bf" stroke="#3c80bf" stroke-width="0.83"><circle cx="-5.1" cy="-1.3" r="2.1"/><circle cx="-0.9" cy="-4.4" r="3.1"/><circle cx="5.2" cy="-2" r="2.7"/><rect x="-5.1" y="-2.6" width="10.3" height="3.4"/></g><g fill="#4f96d2"><circle cx="-5.1" cy="-1.3" r="2.1"/><circle cx="-0.9" cy="-4.4" r="3.1"/><circle cx="5.2" cy="-2" r="2.7"/><rect x="-5.1" y="-2.6" width="10.3" height="3.4"/></g></g></g><g transform="translate(199.65 173.41)"><g transform="translate(0 0) scale(1)"><g fill="#3c80bf" stroke="#3c80bf" stroke-width="0.8"><circle cx="-5.1" cy="-1.3" r="2.1"/><circle cx="-0.9" cy="-4.4" r="3.1"/><circle cx="5.2" cy="-2" r="2.7"/><rect x="-5.1" y="-2.6" width="10.3" height="3.4"/></g><g fill="#4f96d2"><circle cx="-5.1" cy="-1.3" r="2.1"/><circle cx="-0.9" cy="-4.4" r="3.1"/><circle cx="5.2" cy="-2" r="2.7"/><rect x="-5.1" y="-2.6" width="10.3" height="3.4"/></g></g><g fill="#4a88c0"><circle cx="-4" cy="4" r="1.4" fill="#5e98cc"/><circle cx="0.7" cy="3.4" r="0.6"/><circle cx="2.9" cy="3.4" r="0.5"/><circle cx="-1.5" cy="5.2" r="0.5"/><circle cx="4.4" cy="5" r="0.6"/><circle cx="1" cy="6.3" r="0.45"/><circle cx="-2.7" cy="7.5" r="0.6"/></g></g><g transform="translate(281.95 173.41)"><g transform="translate(0 0) scale(1)"><g fill="#828282" stroke="#828282" stroke-width="0.8"><circle cx="-5.1" cy="-1.3" r="2.1"/><circle cx="-0.9" cy="-4.4" r="3.1"/><circle cx="5.2" cy="-2" r="2.7"/><rect x="-5.1" y="-2.6" width="10.3" height="3.4"/></g><g fill="#9c9c9c"><circle cx="-5.1" cy="-1.3" r="2.1"/><circle cx="-0.9" cy="-4.4" r="3.1"/><circle cx="5.2" cy="-2" r="2.7"/><rect x="-5.1" y="-2.6" width="10.3" height="3.4"/></g></g><g fill="#4a88c0"><circle cx="-4" cy="4" r="1.4" fill="#5e98cc"/><circle cx="0.7" cy="3.4" r="0.6"/><circle cx="2.9" cy="3.4" r="0.5"/><circle cx="-1.5" cy="5.2" r="0.5"/><circle cx="4.4" cy="5" r="0.6"/><circle cx="1" cy="6.3" r="0.45"/><circle cx="-2.7" cy="7.5" r="0.6"/></g></g><g transform="translate(307.15 173.41)"><g transform="translate(0 0) scale(1)"><g fill="#3c80bf" stroke="#3c80bf" stroke-width="0.8"><circle cx="-5.1" cy="-1.3" r="2.1"/><circle cx="-0.9" cy="-4.4" r="3.1"/><circle cx="5.2" cy="-2" r="2.7"/><rect x="-5.1" y="-2.6" width="10.3" height="3.4"/></g><g fill="#4f96d2"><circle cx="-5.1" cy="-1.3" r="2.1"/><circle cx="-0.9" cy="-4.4" r="3.1"/><circle cx="5.2" cy="-2" r="2.7"/><rect x="-5.1" y="-2.6" width="10.3" height="3.4"/></g></g><g fill="#4a88c0"><circle cx="-4" cy="4" r="1.4" fill="#5e98cc"/><circle cx="0.7" cy="3.4" r="0.6"/><circle cx="2.9" cy="3.4" r="0.5"/><circle cx="-1.5" cy="5.2" r="0.5"/><circle cx="4.4" cy="5" r="0.6"/><circle cx="1" cy="6.3" r="0.45"/><circle cx="-2.7" cy="7.5" r="0.6"/></g></g><g transform="translate(379.95 173.41)"><g transform="translate(0 0) scale(1)"><g fill="#828282" stroke="#828282" stroke-width="0.8"><circle cx="-5.1" cy="-1.3" r="2.1"/><circle cx="-0.9" cy="-4.4" r="3.1"/><circle cx="5.2" cy="-2" r="2.7"/><rect x="-5.1" y="-2.6" width="10.3" height="3.4"/></g><g fill="#9c9c9c"><circle cx="-5.1" cy="-1.3" r="2.1"/><circle cx="-0.9" cy="-4.4" r="3.1"/><circle cx="5.2" cy="-2" r="2.7"/><rect x="-5.1" y="-2.6" width="10.3" height="3.4"/></g></g><g fill="#4a88c0"><circle cx="-4" cy="4" r="1.4" fill="#5e98cc"/><circle cx="0.7" cy="3.4" r="0.6"/><circle cx="2.9" cy="3.4" r="0.5"/><circle cx="-1.5" cy="5.2" r="0.5"/><circle cx="4.4" cy="5" r="0.6"/><circle cx="1" cy="6.3" r="0.45"/><circle cx="-2.7" cy="7.5" r="0.6"/></g></g><g transform="translate(405.1 173.41)"><g transform="translate(0 0) scale(1)"><g fill="#3c80bf" stroke="#3c80bf" stroke-width="0.8"><circle cx="-5.1" cy="-1.3" r="2.1"/><circle cx="-0.9" cy="-4.4" r="3.1"/><circle cx="5.2" cy="-2" r="2.7"/><rect x="-5.1" y="-2.6" width="10.3" height="3.4"/></g><g fill="#4f96d2"><circle cx="-5.1" cy="-1.3" r="2.1"/><circle cx="-0.9" cy="-4.4" r="3.1"/><circle cx="5.2" cy="-2" r="2.7"/><rect x="-5.1" y="-2.6" width="10.3" height="3.4"/></g></g><g fill="#4a88c0"><circle cx="-4" cy="4" r="1.4" fill="#5e98cc"/><circle cx="0.7" cy="3.4" r="0.6"/><circle cx="2.9" cy="3.4" r="0.5"/><circle cx="-1.5" cy="5.2" r="0.5"/><circle cx="4.4" cy="5" r="0.6"/><circle cx="1" cy="6.3" r="0.45"/><circle cx="-2.7" cy="7.5" r="0.6"/></g></g><g transform="translate(479 173.41)"><path d="M7.21 3.73A7.8 7.8 0 1 1 -1.42 -7.51A7.4 7.4 0 0 0 7.21 3.73Z" fill="#fcd02f" stroke="#e8b820" stroke-width="0.5"/></g><g transform="translate(504.2 173.41)"><circle cx="6.6" cy="-0.25" r="0.7" fill="#d7c9b4"/><circle cx="5.68" cy="3.2" r="0.7" fill="#d9a86a"/><circle cx="3.15" cy="5.73" r="0.7" fill="#d9a86a"/><circle cx="-0.3" cy="6.65" r="0.7" fill="#d7c9b4"/><circle cx="-3.75" cy="5.73" r="0.7" fill="#d9a86a"/><circle cx="-6.28" cy="3.2" r="0.7" fill="#d9a86a"/><circle cx="-7.2" cy="-0.25" r="0.7" fill="#d7c9b4"/><circle cx="-6.28" cy="-3.7" r="0.7" fill="#d9a86a"/><circle cx="-3.75" cy="-6.23" r="0.7" fill="#d9a86a"/><circle cx="-0.3" cy="-7.15" r="0.7" fill="#d7c9b4"/><circle cx="3.15" cy="-6.23" r="0.7" fill="#d9a86a"/><circle cx="5.68" cy="-3.7" r="0.7" fill="#d9a86a"/><circle cx="-0.3" cy="-0.25" r="4.2" fill="#fdb32b" stroke="#f0a020" stroke-width="0.5"/></g><g transform="translate(578.05 173.41)"><path d="M7.57 -1.36A3.5 3.5 0 1 1 3.61 -6.03A3.2 3.2 0 0 0 7.57 -1.36Z" fill="#fcd02f" stroke="#e8b820" stroke-width="0.3"/><g transform="translate(-0.7 4.4) scale(0.94)"><g fill="#828282" stroke="#828282" stroke-width="0.85"><circle cx="-5.1" cy="-1.3" r="2.1"/><circle cx="-0.9" cy="-4.4" r="3.1"/><circle cx="5.2" cy="-2" r="2.7"/><rect x="-5.1" y="-2.6" width="10.3" height="3.4"/></g><g fill="#9c9c9c"><circle cx="-5.1" cy="-1.3" r="2.1"/><circle cx="-0.9" cy="-4.4" r="3.1"/><circle cx="5.2" cy="-2" r="2.7"/><rect x="-5.1" y="-2.6" width="10.3" height="3.4"/></g></g></g><g transform="translate(603.25 173.41)"><g transform="translate(0 0) scale(1)"><g fill="#3c80bf" stroke="#3c80bf" stroke-width="0.8"><circle cx="-5.1" cy="-1.3" r="2.1"/><circle cx="-0.9" cy="-4.4" r="3.1"/><circle cx="5.2" cy="-2" r="2.7"/><rect x="-5.1" y="-2.6" width="10.3" height="3.4"/></g><g fill="#4f96d2"><circle cx="-5.1" cy="-1.3" r="2.1"/><circle cx="-0.9" cy="-4.4" r="3.1"/><circle cx="5.2" cy="-2" r="2.7"/><rect x="-5.1" y="-2.6" width="10.3" height="3.4"/></g></g><g fill="#4a88c0"><circle cx="-4" cy="4" r="1.4" fill="#5e98cc"/><circle cx="0.7" cy="3.4" r="0.6"/><circle cx="2.9" cy="3.4" r="0.5"/><circle cx="-1.5" cy="5.2" r="0.5"/><circle cx="4.4" cy="5" r="0.6"/><circle cx="1" cy="6.3" r="0.45"/><circle cx="-2.7" cy="7.5" r="0.6"/></g></g><g transform="translate(671.2 173.41)"><g transform="translate(0 0) scale(1)"><g fill="#828282" stroke="#828282" stroke-width="0.8"><circle cx="-5.1" cy="-1.3" r="2.1"/><circle cx="-0.9" cy="-4.4" r="3.1"/><circle cx="5.2" cy="-2" r="2.7"/><rect x="-5.1" y="-2.6" width="10.3" height="3.4"/></g><g fill="#9c9c9c"><circle cx="-5.1" cy="-1.3" r="2.1"/><circle cx="-0.9" cy="-4.4" r="3.1"/><circle cx="5.2" cy="-2" r="2.7"/><rect x="-5.1" y="-2.6" width="10.3" height="3.4"/></g></g><g fill="#4a88c0"><circle cx="-4" cy="4" r="1.4" fill="#5e98cc"/><circle cx="0.7" cy="3.4" r="0.6"/><circle cx="2.9" cy="3.4" r="0.5"/><circle cx="-1.5" cy="5.2" r="0.5"/><circle cx="4.4" cy="5" r="0.6"/><circle cx="1" cy="6.3" r="0.45"/><circle cx="-2.7" cy="7.5" r="0.6"/></g></g><g transform="translate(696.4 173.41)"><circle cx="6.9" cy="-1.7" r="0.7" fill="#d7c9b4"/><circle cx="6.23" cy="0.8" r="0.7" fill="#d9a86a"/><circle cx="4.4" cy="2.63" r="0.7" fill="#d9a86a"/><circle cx="1.9" cy="3.3" r="0.7" fill="#d7c9b4"/><circle cx="-0.6" cy="2.63" r="0.7" fill="#d9a86a"/><circle cx="-2.43" cy="0.8" r="0.7" fill="#d9a86a"/><circle cx="-3.1" cy="-1.7" r="0.7" fill="#d7c9b4"/><circle cx="-2.43" cy="-4.2" r="0.7" fill="#d9a86a"/><circle cx="-0.6" cy="-6.03" r="0.7" fill="#d9a86a"/><circle cx="1.9" cy="-6.7" r="0.7" fill="#d7c9b4"/><circle cx="4.4" cy="-6.03" r="0.7" fill="#d9a86a"/><circle cx="6.23" cy="-4.2" r="0.7" fill="#d9a86a"/><circle cx="1.9" cy="-1.7" r="3.2" fill="#fdb32b" stroke="#f0a020" stroke-width="0.5"/><g transform="translate(-0.5 5.6) scale(0.96)"><g fill="#3c80bf" stroke="#3c80bf" stroke-width="0.83"><circle cx="-5.1" cy="-1.3" r="2.1"/><circle cx="-0.9" cy="-4.4" r="3.1"/><circle cx="5.2" cy="-2" r="2.7"/><rect x="-5.1" y="-2.6" width="10.3" height="3.4"/></g><g fill="#4f96d2"><circle cx="-5.1" cy="-1.3" r="2.1"/><circle cx="-0.9" cy="-4.4" r="3.1"/><circle cx="5.2" cy="-2" r="2.7"/><rect x="-5.1" y="-2.6" width="10.3" height="3.4"/></g></g></g><g transform="translate(199.65 204.91)"><g transform="translate(0 0) scale(1)"><g fill="#3c80bf" stroke="#3c80bf" stroke-width="0.8"><circle cx="-5.1" cy="-1.3" r="2.1"/><circle cx="-0.9" cy="-4.4" r="3.1"/><circle cx="5.2" cy="-2" r="2.7"/><rect x="-5.1" y="-2.6" width="10.3" height="3.4"/></g><g fill="#4f96d2"><circle cx="-5.1" cy="-1.3" r="2.1"/><circle cx="-0.9" cy="-4.4" r="3.1"/><circle cx="5.2" cy="-2" r="2.7"/><rect x="-5.1" y="-2.6" width="10.3" height="3.4"/></g></g><g fill="#4a88c0"><circle cx="-4" cy="4" r="1.4" fill="#5e98cc"/><circle cx="0.7" cy="3.4" r="0.6"/><circle cx="2.9" cy="3.4" r="0.5"/><circle cx="-1.5" cy="5.2" r="0.5"/><circle cx="4.4" cy="5" r="0.6"/><circle cx="1" cy="6.3" r="0.45"/><circle cx="-2.7" cy="7.5" r="0.6"/></g></g><g transform="translate(281.95 204.91)"><g transform="translate(0 0) scale(1)"><g fill="#828282" stroke="#828282" stroke-width="0.8"><circle cx="-5.1" cy="-1.3" r="2.1"/><circle cx="-0.9" cy="-4.4" r="3.1"/><circle cx="5.2" cy="-2" r="2.7"/><rect x="-5.1" y="-2.6" width="10.3" height="3.4"/></g><g fill="#9c9c9c"><circle cx="-5.1" cy="-1.3" r="2.1"/><circle cx="-0.9" cy="-4.4" r="3.1"/><circle cx="5.2" cy="-2" r="2.7"/><rect x="-5.1" y="-2.6" width="10.3" height="3.4"/></g></g><g fill="#4a88c0"><circle cx="-4" cy="4" r="1.4" fill="#5e98cc"/><circle cx="0.7" cy="3.4" r="0.6"/><circle cx="2.9" cy="3.4" r="0.5"/><circle cx="-1.5" cy="5.2" r="0.5"/><circle cx="4.4" cy="5" r="0.6"/><circle cx="1" cy="6.3" r="0.45"/><circle cx="-2.7" cy="7.5" r="0.6"/></g></g><g transform="translate(307.15 204.91)"><g transform="translate(0 0) scale(1)"><g fill="#3c80bf" stroke="#3c80bf" stroke-width="0.8"><circle cx="-5.1" cy="-1.3" r="2.1"/><circle cx="-0.9" cy="-4.4" r="3.1"/><circle cx="5.2" cy="-2" r="2.7"/><rect x="-5.1" y="-2.6" width="10.3" height="3.4"/></g><g fill="#4f96d2"><circle cx="-5.1" cy="-1.3" r="2.1"/><circle cx="-0.9" cy="-4.4" r="3.1"/><circle cx="5.2" cy="-2" r="2.7"/><rect x="-5.1" y="-2.6" width="10.3" height="3.4"/></g></g><g fill="#4a88c0"><circle cx="-4" cy="4" r="1.4" fill="#5e98cc"/><circle cx="0.7" cy="3.4" r="0.6"/><circle cx="2.9" cy="3.4" r="0.5"/><circle cx="-1.5" cy="5.2" r="0.5"/><circle cx="4.4" cy="5" r="0.6"/><circle cx="1" cy="6.3" r="0.45"/><circle cx="-2.7" cy="7.5" r="0.6"/></g></g><g transform="translate(379.95 204.91)"><g transform="translate(0 0) scale(1)"><g fill="#828282" stroke="#828282" stroke-width="0.8"><circle cx="-5.1" cy="-1.3" r="2.1"/><circle cx="-0.9" cy="-4.4" r="3.1"/><circle cx="5.2" cy="-2" r="2.7"/><rect x="-5.1" y="-2.6" width="10.3" height="3.4"/></g><g fill="#9c9c9c"><circle cx="-5.1" cy="-1.3" r="2.1"/><circle cx="-0.9" cy="-4.4" r="3.1"/><circle cx="5.2" cy="-2" r="2.7"/><rect x="-5.1" y="-2.6" width="10.3" height="3.4"/></g></g><g fill="#4a88c0"><circle cx="-4" cy="4" r="1.4" fill="#5e98cc"/><circle cx="0.7" cy="3.4" r="0.6"/><circle cx="2.9" cy="3.4" r="0.5"/><circle cx="-1.5" cy="5.2" r="0.5"/><circle cx="4.4" cy="5" r="0.6"/><circle cx="1" cy="6.3" r="0.45"/><circle cx="-2.7" cy="7.5" r="0.6"/></g></g><g transform="translate(405.1 204.91)"><circle cx="6.9" cy="-1.7" r="0.7" fill="#d7c9b4"/><circle cx="6.23" cy="0.8" r="0.7" fill="#d9a86a"/><circle cx="4.4" cy="2.63" r="0.7" fill="#d9a86a"/><circle cx="1.9" cy="3.3" r="0.7" fill="#d7c9b4"/><circle cx="-0.6" cy="2.63" r="0.7" fill="#d9a86a"/><circle cx="-2.43" cy="0.8" r="0.7" fill="#d9a86a"/><circle cx="-3.1" cy="-1.7" r="0.7" fill="#d7c9b4"/><circle cx="-2.43" cy="-4.2" r="0.7" fill="#d9a86a"/><circle cx="-0.6" cy="-6.03" r="0.7" fill="#d9a86a"/><circle cx="1.9" cy="-6.7" r="0.7" fill="#d7c9b4"/><circle cx="4.4" cy="-6.03" r="0.7" fill="#d9a86a"/><circle cx="6.23" cy="-4.2" r="0.7" fill="#d9a86a"/><circle cx="1.9" cy="-1.7" r="3.2" fill="#fdb32b" stroke="#f0a020" stroke-width="0.5"/><g transform="translate(-0.5 5.6) scale(0.96)"><g fill="#3c80bf" stroke="#3c80bf" stroke-width="0.83"><circle cx="-5.1" cy="-1.3" r="2.1"/><circle cx="-0.9" cy="-4.4" r="3.1"/><circle cx="5.2" cy="-2" r="2.7"/><rect x="-5.1" y="-2.6" width="10.3" height="3.4"/></g><g fill="#4f96d2"><circle cx="-5.1" cy="-1.3" r="2.1"/><circle cx="-0.9" cy="-4.4" r="3.1"/><circle cx="5.2" cy="-2" r="2.7"/><rect x="-5.1" y="-2.6" width="10.3" height="3.4"/></g></g></g><g transform="translate(479 204.91)"><path d="M7.21 3.73A7.8 7.8 0 1 1 -1.42 -7.51A7.4 7.4 0 0 0 7.21 3.73Z" fill="#fcd02f" stroke="#e8b820" stroke-width="0.5"/></g><g transform="translate(504.2 204.91)"><circle cx="6.6" cy="-0.25" r="0.7" fill="#d7c9b4"/><circle cx="5.68" cy="3.2" r="0.7" fill="#d9a86a"/><circle cx="3.15" cy="5.73" r="0.7" fill="#d9a86a"/><circle cx="-0.3" cy="6.65" r="0.7" fill="#d7c9b4"/><circle cx="-3.75" cy="5.73" r="0.7" fill="#d9a86a"/><circle cx="-6.28" cy="3.2" r="0.7" fill="#d9a86a"/><circle cx="-7.2" cy="-0.25" r="0.7" fill="#d7c9b4"/><circle cx="-6.28" cy="-3.7" r="0.7" fill="#d9a86a"/><circle cx="-3.75" cy="-6.23" r="0.7" fill="#d9a86a"/><circle cx="-0.3" cy="-7.15" r="0.7" fill="#d7c9b4"/><circle cx="3.15" cy="-6.23" r="0.7" fill="#d9a86a"/><circle cx="5.68" cy="-3.7" r="0.7" fill="#d9a86a"/><circle cx="-0.3" cy="-0.25" r="4.2" fill="#fdb32b" stroke="#f0a020" stroke-width="0.5"/></g><g transform="translate(578.05 204.91)"><g transform="translate(-3.4 0.6) scale(0.6)"><g fill="#858585" stroke="#858585" stroke-width="1.33"><circle cx="-5.1" cy="-1.3" r="2.1"/><circle cx="-0.9" cy="-4.4" r="3.1"/><circle cx="5.2" cy="-2" r="2.7"/><rect x="-5.1" y="-2.6" width="10.3" height="3.4"/></g><g fill="#9a9a9a"><circle cx="-5.1" cy="-1.3" r="2.1"/><circle cx="-0.9" cy="-4.4" r="3.1"/><circle cx="5.2" cy="-2" r="2.7"/><rect x="-5.1" y="-2.6" width="10.3" height="3.4"/></g></g><path d="M6.82 -0.03A3.8 3.8 0 1 1 2.34 -5.35A3.6 3.6 0 0 0 6.82 -0.03Z" fill="#fcd02f" stroke="#e8b820" stroke-width="0.3"/><g transform="translate(1.9 5.6) scale(1.25 1)"><g transform="translate(0 0) scale(0.6)"><g fill="#ababab" stroke="#ababab" stroke-width="1.33"><circle cx="-5.1" cy="-1.3" r="2.1"/><circle cx="-0.9" cy="-4.4" r="3.1"/><circle cx="5.2" cy="-2" r="2.7"/><rect x="-5.1" y="-2.6" width="10.3" height="3.4"/></g><g fill="#c4c4c4"><circle cx="-5.1" cy="-1.3" r="2.1"/><circle cx="-0.9" cy="-4.4" r="3.1"/><circle cx="5.2" cy="-2" r="2.7"/><rect x="-5.1" y="-2.6" width="10.3" height="3.4"/></g></g></g></g><g transform="translate(603.25 204.91)"><g transform="translate(0 0) scale(1)"><g fill="#3c80bf" stroke="#3c80bf" stroke-width="0.8"><circle cx="-5.1" cy="-1.3" r="2.1"/><circle cx="-0.9" cy="-4.4" r="3.1"/><circle cx="5.2" cy="-2" r="2.7"/><rect x="-5.1" y="-2.6" width="10.3" height="3.4"/></g><g fill="#4f96d2"><circle cx="-5.1" cy="-1.3" r="2.1"/><circle cx="-0.9" cy="-4.4" r="3.1"/><circle cx="5.2" cy="-2" r="2.7"/><rect x="-5.1" y="-2.6" width="10.3" height="3.4"/></g></g><g fill="#4a88c0"><circle cx="-4" cy="4" r="1.4" fill="#5e98cc"/><circle cx="0.7" cy="3.4" r="0.6"/><circle cx="2.9" cy="3.4" r="0.5"/><circle cx="-1.5" cy="5.2" r="0.5"/><circle cx="4.4" cy="5" r="0.6"/><circle cx="1" cy="6.3" r="0.45"/><circle cx="-2.7" cy="7.5" r="0.6"/></g></g><g transform="translate(671.2 204.91)"><g transform="translate(0 0) scale(1)"><g fill="#828282" stroke="#828282" stroke-width="0.8"><circle cx="-5.1" cy="-1.3" r="2.1"/><circle cx="-0.9" cy="-4.4" r="3.1"/><circle cx="5.2" cy="-2" r="2.7"/><rect x="-5.1" y="-2.6" width="10.3" height="3.4"/></g><g fill="#9c9c9c"><circle cx="-5.1" cy="-1.3" r="2.1"/><circle cx="-0.9" cy="-4.4" r="3.1"/><circle cx="5.2" cy="-2" r="2.7"/><rect x="-5.1" y="-2.6" width="10.3" height="3.4"/></g></g><g fill="#4a88c0"><circle cx="-4" cy="4" r="1.4" fill="#5e98cc"/><circle cx="0.7" cy="3.4" r="0.6"/><circle cx="2.9" cy="3.4" r="0.5"/><circle cx="-1.5" cy="5.2" r="0.5"/><circle cx="4.4" cy="5" r="0.6"/><circle cx="1" cy="6.3" r="0.45"/><circle cx="-2.7" cy="7.5" r="0.6"/></g></g><g transform="translate(696.4 204.91)"><circle cx="6.9" cy="-1.7" r="0.7" fill="#d7c9b4"/><circle cx="6.23" cy="0.8" r="0.7" fill="#d9a86a"/><circle cx="4.4" cy="2.63" r="0.7" fill="#d9a86a"/><circle cx="1.9" cy="3.3" r="0.7" fill="#d7c9b4"/><circle cx="-0.6" cy="2.63" r="0.7" fill="#d9a86a"/><circle cx="-2.43" cy="0.8" r="0.7" fill="#d9a86a"/><circle cx="-3.1" cy="-1.7" r="0.7" fill="#d7c9b4"/><circle cx="-2.43" cy="-4.2" r="0.7" fill="#d9a86a"/><circle cx="-0.6" cy="-6.03" r="0.7" fill="#d9a86a"/><circle cx="1.9" cy="-6.7" r="0.7" fill="#d7c9b4"/><circle cx="4.4" cy="-6.03" r="0.7" fill="#d9a86a"/><circle cx="6.23" cy="-4.2" r="0.7" fill="#d9a86a"/><circle cx="1.9" cy="-1.7" r="3.2" fill="#fdb32b" stroke="#f0a020" stroke-width="0.5"/><g transform="translate(-0.5 5.6) scale(0.96)"><g fill="#3c80bf" stroke="#3c80bf" stroke-width="0.83"><circle cx="-5.1" cy="-1.3" r="2.1"/><circle cx="-0.9" cy="-4.4" r="3.1"/><circle cx="5.2" cy="-2" r="2.7"/><rect x="-5.1" y="-2.6" width="10.3" height="3.4"/></g><g fill="#4f96d2"><circle cx="-5.1" cy="-1.3" r="2.1"/><circle cx="-0.9" cy="-4.4" r="3.1"/><circle cx="5.2" cy="-2" r="2.7"/><rect x="-5.1" y="-2.6" width="10.3" height="3.4"/></g></g></g><g transform="translate(199.65 236.41)"><g transform="translate(0 0) scale(1)"><g fill="#3c80bf" stroke="#3c80bf" stroke-width="0.8"><circle cx="-5.1" cy="-1.3" r="2.1"/><circle cx="-0.9" cy="-4.4" r="3.1"/><circle cx="5.2" cy="-2" r="2.7"/><rect x="-5.1" y="-2.6" width="10.3" height="3.4"/></g><g fill="#4f96d2"><circle cx="-5.1" cy="-1.3" r="2.1"/><circle cx="-0.9" cy="-4.4" r="3.1"/><circle cx="5.2" cy="-2" r="2.7"/><rect x="-5.1" y="-2.6" width="10.3" height="3.4"/></g></g><g fill="#4a88c0"><circle cx="-4" cy="4" r="1.4" fill="#5e98cc"/><circle cx="0.7" cy="3.4" r="0.6"/><circle cx="2.9" cy="3.4" r="0.5"/><circle cx="-1.5" cy="5.2" r="0.5"/><circle cx="4.4" cy="5" r="0.6"/><circle cx="1" cy="6.3" r="0.45"/><circle cx="-2.7" cy="7.5" r="0.6"/></g></g><g transform="translate(281.95 236.41)"><g transform="translate(0 0) scale(1)"><g fill="#828282" stroke="#828282" stroke-width="0.8"><circle cx="-5.1" cy="-1.3" r="2.1"/><circle cx="-0.9" cy="-4.4" r="3.1"/><circle cx="5.2" cy="-2" r="2.7"/><rect x="-5.1" y="-2.6" width="10.3" height="3.4"/></g><g fill="#9c9c9c"><circle cx="-5.1" cy="-1.3" r="2.1"/><circle cx="-0.9" cy="-4.4" r="3.1"/><circle cx="5.2" cy="-2" r="2.7"/><rect x="-5.1" y="-2.6" width="10.3" height="3.4"/></g></g><g fill="#4a88c0"><circle cx="-4" cy="4" r="1.4" fill="#5e98cc"/><circle cx="0.7" cy="3.4" r="0.6"/><circle cx="2.9" cy="3.4" r="0.5"/><circle cx="-1.5" cy="5.2" r="0.5"/><circle cx="4.4" cy="5" r="0.6"/><circle cx="1" cy="6.3" r="0.45"/><circle cx="-2.7" cy="7.5" r="0.6"/></g></g><g transform="translate(307.15 236.41)"><g transform="translate(0 0) scale(1)"><g fill="#3c80bf" stroke="#3c80bf" stroke-width="0.8"><circle cx="-5.1" cy="-1.3" r="2.1"/><circle cx="-0.9" cy="-4.4" r="3.1"/><circle cx="5.2" cy="-2" r="2.7"/><rect x="-5.1" y="-2.6" width="10.3" height="3.4"/></g><g fill="#4f96d2"><circle cx="-5.1" cy="-1.3" r="2.1"/><circle cx="-0.9" cy="-4.4" r="3.1"/><circle cx="5.2" cy="-2" r="2.7"/><rect x="-5.1" y="-2.6" width="10.3" height="3.4"/></g></g><g fill="#4a88c0"><circle cx="-4" cy="4" r="1.4" fill="#5e98cc"/><circle cx="0.7" cy="3.4" r="0.6"/><circle cx="2.9" cy="3.4" r="0.5"/><circle cx="-1.5" cy="5.2" r="0.5"/><circle cx="4.4" cy="5" r="0.6"/><circle cx="1" cy="6.3" r="0.45"/><circle cx="-2.7" cy="7.5" r="0.6"/></g></g><g transform="translate(379.95 236.41)"><path d="M7.57 -1.36A3.5 3.5 0 1 1 3.61 -6.03A3.2 3.2 0 0 0 7.57 -1.36Z" fill="#fcd02f" stroke="#e8b820" stroke-width="0.3"/><g transform="translate(-0.7 4.4) scale(0.94)"><g fill="#828282" stroke="#828282" stroke-width="0.85"><circle cx="-5.1" cy="-1.3" r="2.1"/><circle cx="-0.9" cy="-4.4" r="3.1"/><circle cx="5.2" cy="-2" r="2.7"/><rect x="-5.1" y="-2.6" width="10.3" height="3.4"/></g><g fill="#9c9c9c"><circle cx="-5.1" cy="-1.3" r="2.1"/><circle cx="-0.9" cy="-4.4" r="3.1"/><circle cx="5.2" cy="-2" r="2.7"/><rect x="-5.1" y="-2.6" width="10.3" height="3.4"/></g></g></g><g transform="translate(405.1 236.41)"><circle cx="6.9" cy="-1.7" r="0.7" fill="#d7c9b4"/><circle cx="6.23" cy="0.8" r="0.7" fill="#d9a86a"/><circle cx="4.4" cy="2.63" r="0.7" fill="#d9a86a"/><circle cx="1.9" cy="3.3" r="0.7" fill="#d7c9b4"/><circle cx="-0.6" cy="2.63" r="0.7" fill="#d9a86a"/><circle cx="-2.43" cy="0.8" r="0.7" fill="#d9a86a"/><circle cx="-3.1" cy="-1.7" r="0.7" fill="#d7c9b4"/><circle cx="-2.43" cy="-4.2" r="0.7" fill="#d9a86a"/><circle cx="-0.6" cy="-6.03" r="0.7" fill="#d9a86a"/><circle cx="1.9" cy="-6.7" r="0.7" fill="#d7c9b4"/><circle cx="4.4" cy="-6.03" r="0.7" fill="#d9a86a"/><circle cx="6.23" cy="-4.2" r="0.7" fill="#d9a86a"/><circle cx="1.9" cy="-1.7" r="3.2" fill="#fdb32b" stroke="#f0a020" stroke-width="0.5"/><g transform="translate(-0.5 5.6) scale(0.96)"><g fill="#3c80bf" stroke="#3c80bf" stroke-width="0.83"><circle cx="-5.1" cy="-1.3" r="2.1"/><circle cx="-0.9" cy="-4.4" r="3.1"/><circle cx="5.2" cy="-2" r="2.7"/><rect x="-5.1" y="-2.6" width="10.3" height="3.4"/></g><g fill="#4f96d2"><circle cx="-5.1" cy="-1.3" r="2.1"/><circle cx="-0.9" cy="-4.4" r="3.1"/><circle cx="5.2" cy="-2" r="2.7"/><rect x="-5.1" y="-2.6" width="10.3" height="3.4"/></g></g></g><g transform="translate(479 236.41)"><path d="M7.21 3.73A7.8 7.8 0 1 1 -1.42 -7.51A7.4 7.4 0 0 0 7.21 3.73Z" fill="#fcd02f" stroke="#e8b820" stroke-width="0.5"/></g><g transform="translate(504.2 236.41)"><circle cx="6.6" cy="-0.25" r="0.7" fill="#d7c9b4"/><circle cx="5.68" cy="3.2" r="0.7" fill="#d9a86a"/><circle cx="3.15" cy="5.73" r="0.7" fill="#d9a86a"/><circle cx="-0.3" cy="6.65" r="0.7" fill="#d7c9b4"/><circle cx="-3.75" cy="5.73" r="0.7" fill="#d9a86a"/><circle cx="-6.28" cy="3.2" r="0.7" fill="#d9a86a"/><circle cx="-7.2" cy="-0.25" r="0.7" fill="#d7c9b4"/><circle cx="-6.28" cy="-3.7" r="0.7" fill="#d9a86a"/><circle cx="-3.75" cy="-6.23" r="0.7" fill="#d9a86a"/><circle cx="-0.3" cy="-7.15" r="0.7" fill="#d7c9b4"/><circle cx="3.15" cy="-6.23" r="0.7" fill="#d9a86a"/><circle cx="5.68" cy="-3.7" r="0.7" fill="#d9a86a"/><circle cx="-0.3" cy="-0.25" r="4.2" fill="#fdb32b" stroke="#f0a020" stroke-width="0.5"/></g><g transform="translate(578.05 236.41)"><g transform="translate(-3.4 0.6) scale(0.6)"><g fill="#858585" stroke="#858585" stroke-width="1.33"><circle cx="-5.1" cy="-1.3" r="2.1"/><circle cx="-0.9" cy="-4.4" r="3.1"/><circle cx="5.2" cy="-2" r="2.7"/><rect x="-5.1" y="-2.6" width="10.3" height="3.4"/></g><g fill="#9a9a9a"><circle cx="-5.1" cy="-1.3" r="2.1"/><circle cx="-0.9" cy="-4.4" r="3.1"/><circle cx="5.2" cy="-2" r="2.7"/><rect x="-5.1" y="-2.6" width="10.3" height="3.4"/></g></g><path d="M6.82 -0.03A3.8 3.8 0 1 1 2.34 -5.35A3.6 3.6 0 0 0 6.82 -0.03Z" fill="#fcd02f" stroke="#e8b820" stroke-width="0.3"/><g transform="translate(1.9 5.6) scale(1.25 1)"><g transform="translate(0 0) scale(0.6)"><g fill="#ababab" stroke="#ababab" stroke-width="1.33"><circle cx="-5.1" cy="-1.3" r="2.1"/><circle cx="-0.9" cy="-4.4" r="3.1"/><circle cx="5.2" cy="-2" r="2.7"/><rect x="-5.1" y="-2.6" width="10.3" height="3.4"/></g><g fill="#c4c4c4"><circle cx="-5.1" cy="-1.3" r="2.1"/><circle cx="-0.9" cy="-4.4" r="3.1"/><circle cx="5.2" cy="-2" r="2.7"/><rect x="-5.1" y="-2.6" width="10.3" height="3.4"/></g></g></g></g><g transform="translate(603.25 236.41)"><g transform="translate(0 0) scale(1)"><g fill="#3c80bf" stroke="#3c80bf" stroke-width="0.8"><circle cx="-5.1" cy="-1.3" r="2.1"/><circle cx="-0.9" cy="-4.4" r="3.1"/><circle cx="5.2" cy="-2" r="2.7"/><rect x="-5.1" y="-2.6" width="10.3" height="3.4"/></g><g fill="#4f96d2"><circle cx="-5.1" cy="-1.3" r="2.1"/><circle cx="-0.9" cy="-4.4" r="3.1"/><circle cx="5.2" cy="-2" r="2.7"/><rect x="-5.1" y="-2.6" width="10.3" height="3.4"/></g></g><g fill="#4a88c0"><circle cx="-4" cy="4" r="1.4" fill="#5e98cc"/><circle cx="0.7" cy="3.4" r="0.6"/><circle cx="2.9" cy="3.4" r="0.5"/><circle cx="-1.5" cy="5.2" r="0.5"/><circle cx="4.4" cy="5" r="0.6"/><circle cx="1" cy="6.3" r="0.45"/><circle cx="-2.7" cy="7.5" r="0.6"/></g></g><g transform="translate(671.2 236.41)"><g transform="translate(0 0) scale(1)"><g fill="#828282" stroke="#828282" stroke-width="0.8"><circle cx="-5.1" cy="-1.3" r="2.1"/><circle cx="-0.9" cy="-4.4" r="3.1"/><circle cx="5.2" cy="-2" r="2.7"/><rect x="-5.1" y="-2.6" width="10.3" height="3.4"/></g><g fill="#9c9c9c"><circle cx="-5.1" cy="-1.3" r="2.1"/><circle cx="-0.9" cy="-4.4" r="3.1"/><circle cx="5.2" cy="-2" r="2.7"/><rect x="-5.1" y="-2.6" width="10.3" height="3.4"/></g></g><g fill="#4a88c0"><circle cx="-4" cy="4" r="1.4" fill="#5e98cc"/><circle cx="0.7" cy="3.4" r="0.6"/><circle cx="2.9" cy="3.4" r="0.5"/><circle cx="-1.5" cy="5.2" r="0.5"/><circle cx="4.4" cy="5" r="0.6"/><circle cx="1" cy="6.3" r="0.45"/><circle cx="-2.7" cy="7.5" r="0.6"/></g></g><g transform="translate(696.4 236.41)"><circle cx="6.9" cy="-1.7" r="0.7" fill="#d7c9b4"/><circle cx="6.23" cy="0.8" r="0.7" fill="#d9a86a"/><circle cx="4.4" cy="2.63" r="0.7" fill="#d9a86a"/><circle cx="1.9" cy="3.3" r="0.7" fill="#d7c9b4"/><circle cx="-0.6" cy="2.63" r="0.7" fill="#d9a86a"/><circle cx="-2.43" cy="0.8" r="0.7" fill="#d9a86a"/><circle cx="-3.1" cy="-1.7" r="0.7" fill="#d7c9b4"/><circle cx="-2.43" cy="-4.2" r="0.7" fill="#d9a86a"/><circle cx="-0.6" cy="-6.03" r="0.7" fill="#d9a86a"/><circle cx="1.9" cy="-6.7" r="0.7" fill="#d7c9b4"/><circle cx="4.4" cy="-6.03" r="0.7" fill="#d9a86a"/><circle cx="6.23" cy="-4.2" r="0.7" fill="#d9a86a"/><circle cx="1.9" cy="-1.7" r="3.2" fill="#fdb32b" stroke="#f0a020" stroke-width="0.5"/><g transform="translate(-0.5 5.6) scale(0.96)"><g fill="#3c80bf" stroke="#3c80bf" stroke-width="0.83"><circle cx="-5.1" cy="-1.3" r="2.1"/><circle cx="-0.9" cy="-4.4" r="3.1"/><circle cx="5.2" cy="-2" r="2.7"/><rect x="-5.1" y="-2.6" width="10.3" height="3.4"/></g><g fill="#4f96d2"><circle cx="-5.1" cy="-1.3" r="2.1"/><circle cx="-0.9" cy="-4.4" r="3.1"/><circle cx="5.2" cy="-2" r="2.7"/><rect x="-5.1" y="-2.6" width="10.3" height="3.4"/></g></g></g><g transform="translate(199.65 267.91)"><g transform="translate(0 0) scale(1)"><g fill="#3c80bf" stroke="#3c80bf" stroke-width="0.8"><circle cx="-5.1" cy="-1.3" r="2.1"/><circle cx="-0.9" cy="-4.4" r="3.1"/><circle cx="5.2" cy="-2" r="2.7"/><rect x="-5.1" y="-2.6" width="10.3" height="3.4"/></g><g fill="#4f96d2"><circle cx="-5.1" cy="-1.3" r="2.1"/><circle cx="-0.9" cy="-4.4" r="3.1"/><circle cx="5.2" cy="-2" r="2.7"/><rect x="-5.1" y="-2.6" width="10.3" height="3.4"/></g></g><g fill="#4a88c0"><circle cx="-4" cy="4" r="1.4" fill="#5e98cc"/><circle cx="0.7" cy="3.4" r="0.6"/><circle cx="2.9" cy="3.4" r="0.5"/><circle cx="-1.5" cy="5.2" r="0.5"/><circle cx="4.4" cy="5" r="0.6"/><circle cx="1" cy="6.3" r="0.45"/><circle cx="-2.7" cy="7.5" r="0.6"/></g></g><g transform="translate(281.95 267.91)"><g transform="translate(0 0) scale(1)"><g fill="#828282" stroke="#828282" stroke-width="0.8"><circle cx="-5.1" cy="-1.3" r="2.1"/><circle cx="-0.9" cy="-4.4" r="3.1"/><circle cx="5.2" cy="-2" r="2.7"/><rect x="-5.1" y="-2.6" width="10.3" height="3.4"/></g><g fill="#9c9c9c"><circle cx="-5.1" cy="-1.3" r="2.1"/><circle cx="-0.9" cy="-4.4" r="3.1"/><circle cx="5.2" cy="-2" r="2.7"/><rect x="-5.1" y="-2.6" width="10.3" height="3.4"/></g></g><g fill="#4a88c0"><circle cx="-4" cy="4" r="1.4" fill="#5e98cc"/><circle cx="0.7" cy="3.4" r="0.6"/><circle cx="2.9" cy="3.4" r="0.5"/><circle cx="-1.5" cy="5.2" r="0.5"/><circle cx="4.4" cy="5" r="0.6"/><circle cx="1" cy="6.3" r="0.45"/><circle cx="-2.7" cy="7.5" r="0.6"/></g></g><g transform="translate(307.15 267.91)"><g transform="translate(0 0.2) scale(1)"><g fill="#3c80bf" stroke="#3c80bf" stroke-width="0.8"><circle cx="-5.1" cy="-1.3" r="2.1"/><circle cx="-0.9" cy="-4.4" r="3.1"/><circle cx="5.2" cy="-2" r="2.7"/><rect x="-5.1" y="-2.6" width="10.3" height="3.4"/></g><g fill="#4f96d2"><circle cx="-5.1" cy="-1.3" r="2.1"/><circle cx="-0.9" cy="-4.4" r="3.1"/><circle cx="5.2" cy="-2" r="2.7"/><rect x="-5.1" y="-2.6" width="10.3" height="3.4"/></g></g><g fill="#4a88c0"><circle cx="-3.6" cy="2.4" r="1"/><circle cx="-4.5" cy="4.6" r="0.5"/><circle cx="-2.2" cy="4.6" r="0.5"/><circle cx="0" cy="4" r="0.5"/><circle cx="2" cy="4" r="0.5"/><circle cx="-1.6" cy="5.6" r="0.7"/><circle cx="0.6" cy="5.6" r="0.5"/><circle cx="2.8" cy="5.6" r="0.5"/><circle cx="-3.4" cy="6.6" r="0.5"/><circle cx="-0.4" cy="7.2" r="0.5"/><circle cx="4.5" cy="6.5" r="1.3"/><circle cx="5.5" cy="3.5" r="0.6"/></g></g><g transform="translate(379.95 267.91)"><path d="M7.57 -1.36A3.5 3.5 0 1 1 3.61 -6.03A3.2 3.2 0 0 0 7.57 -1.36Z" fill="#fcd02f" stroke="#e8b820" stroke-width="0.3"/><g transform="translate(-0.7 4.4) scale(0.94)"><g fill="#828282" stroke="#828282" stroke-width="0.85"><circle cx="-5.1" cy="-1.3" r="2.1"/><circle cx="-0.9" cy="-4.4" r="3.1"/><circle cx="5.2" cy="-2" r="2.7"/><rect x="-5.1" y="-2.6" width="10.3" height="3.4"/></g><g fill="#9c9c9c"><circle cx="-5.1" cy="-1.3" r="2.1"/><circle cx="-0.9" cy="-4.4" r="3.1"/><circle cx="5.2" cy="-2" r="2.7"/><rect x="-5.1" y="-2.6" width="10.3" height="3.4"/></g></g></g><g transform="translate(405.1 267.91)"><circle cx="6.9" cy="-1.7" r="0.7" fill="#d7c9b4"/><circle cx="6.23" cy="0.8" r="0.7" fill="#d9a86a"/><circle cx="4.4" cy="2.63" r="0.7" fill="#d9a86a"/><circle cx="1.9" cy="3.3" r="0.7" fill="#d7c9b4"/><circle cx="-0.6" cy="2.63" r="0.7" fill="#d9a86a"/><circle cx="-2.43" cy="0.8" r="0.7" fill="#d9a86a"/><circle cx="-3.1" cy="-1.7" r="0.7" fill="#d7c9b4"/><circle cx="-2.43" cy="-4.2" r="0.7" fill="#d9a86a"/><circle cx="-0.6" cy="-6.03" r="0.7" fill="#d9a86a"/><circle cx="1.9" cy="-6.7" r="0.7" fill="#d7c9b4"/><circle cx="4.4" cy="-6.03" r="0.7" fill="#d9a86a"/><circle cx="6.23" cy="-4.2" r="0.7" fill="#d9a86a"/><circle cx="1.9" cy="-1.7" r="3.2" fill="#fdb32b" stroke="#f0a020" stroke-width="0.5"/><g transform="translate(-0.5 5.6) scale(0.96)"><g fill="#3c80bf" stroke="#3c80bf" stroke-width="0.83"><circle cx="-5.1" cy="-1.3" r="2.1"/><circle cx="-0.9" cy="-4.4" r="3.1"/><circle cx="5.2" cy="-2" r="2.7"/><rect x="-5.1" y="-2.6" width="10.3" height="3.4"/></g><g fill="#4f96d2"><circle cx="-5.1" cy="-1.3" r="2.1"/><circle cx="-0.9" cy="-4.4" r="3.1"/><circle cx="5.2" cy="-2" r="2.7"/><rect x="-5.1" y="-2.6" width="10.3" height="3.4"/></g></g></g><g transform="translate(479 267.91)"><path d="M7.21 3.73A7.8 7.8 0 1 1 -1.42 -7.51A7.4 7.4 0 0 0 7.21 3.73Z" fill="#fcd02f" stroke="#e8b820" stroke-width="0.5"/></g><g transform="translate(504.2 267.91)"><circle cx="6.6" cy="-0.25" r="0.7" fill="#d7c9b4"/><circle cx="5.68" cy="3.2" r="0.7" fill="#d9a86a"/><circle cx="3.15" cy="5.73" r="0.7" fill="#d9a86a"/><circle cx="-0.3" cy="6.65" r="0.7" fill="#d7c9b4"/><circle cx="-3.75" cy="5.73" r="0.7" fill="#d9a86a"/><circle cx="-6.28" cy="3.2" r="0.7" fill="#d9a86a"/><circle cx="-7.2" cy="-0.25" r="0.7" fill="#d7c9b4"/><circle cx="-6.28" cy="-3.7" r="0.7" fill="#d9a86a"/><circle cx="-3.75" cy="-6.23" r="0.7" fill="#d9a86a"/><circle cx="-0.3" cy="-7.15" r="0.7" fill="#d7c9b4"/><circle cx="3.15" cy="-6.23" r="0.7" fill="#d9a86a"/><circle cx="5.68" cy="-3.7" r="0.7" fill="#d9a86a"/><circle cx="-0.3" cy="-0.25" r="4.2" fill="#fdb32b" stroke="#f0a020" stroke-width="0.5"/></g><g transform="translate(578.05 267.91)"><path d="M7.57 -1.36A3.5 3.5 0 1 1 3.61 -6.03A3.2 3.2 0 0 0 7.57 -1.36Z" fill="#fcd02f" stroke="#e8b820" stroke-width="0.3"/><g transform="translate(-0.7 4.4) scale(0.94)"><g fill="#828282" stroke="#828282" stroke-width="0.85"><circle cx="-5.1" cy="-1.3" r="2.1"/><circle cx="-0.9" cy="-4.4" r="3.1"/><circle cx="5.2" cy="-2" r="2.7"/><rect x="-5.1" y="-2.6" width="10.3" height="3.4"/></g><g fill="#9c9c9c"><circle cx="-5.1" cy="-1.3" r="2.1"/><circle cx="-0.9" cy="-4.4" r="3.1"/><circle cx="5.2" cy="-2" r="2.7"/><rect x="-5.1" y="-2.6" width="10.3" height="3.4"/></g></g></g><g transform="translate(603.25 267.91)"><circle cx="6.15" cy="-3" r="0.7" fill="#d7c9b4"/><circle cx="5.49" cy="-0.55" r="0.7" fill="#d9a86a"/><circle cx="3.7" cy="1.24" r="0.7" fill="#d9a86a"/><circle cx="1.25" cy="1.9" r="0.7" fill="#d7c9b4"/><circle cx="-1.2" cy="1.24" r="0.7" fill="#d9a86a"/><circle cx="-2.99" cy="-0.55" r="0.7" fill="#d9a86a"/><circle cx="-3.65" cy="-3" r="0.7" fill="#d7c9b4"/><circle cx="-2.99" cy="-5.45" r="0.7" fill="#d9a86a"/><circle cx="-1.2" cy="-7.24" r="0.7" fill="#d9a86a"/><circle cx="1.25" cy="-7.9" r="0.7" fill="#d7c9b4"/><circle cx="3.7" cy="-7.24" r="0.7" fill="#d9a86a"/><circle cx="5.49" cy="-5.45" r="0.7" fill="#d9a86a"/><circle cx="1.25" cy="-3" r="3.4" fill="#fdb32b" stroke="#f0a020" stroke-width="0.5"/><g transform="translate(-1.67 2.68) scale(0.77)"><g fill="#3c80bf" stroke="#3c80bf" stroke-width="1.04"><circle cx="-5.1" cy="-1.3" r="2.1"/><circle cx="-0.9" cy="-4.4" r="3.1"/><circle cx="5.2" cy="-2" r="2.7"/><rect x="-5.1" y="-2.6" width="10.3" height="3.4"/></g><g fill="#4f96d2"><circle cx="-5.1" cy="-1.3" r="2.1"/><circle cx="-0.9" cy="-4.4" r="3.1"/><circle cx="5.2" cy="-2" r="2.7"/><rect x="-5.1" y="-2.6" width="10.3" height="3.4"/></g></g><g fill="none" stroke="#6f9cc6" stroke-width="0.9" stroke-linecap="round"><path d="M-5 4.5L-6.2 6.3"/><circle cx="-6" cy="6.4" r="0.8" fill="#6f9cc6" stroke="none"/><path d="M-2.4 4.5L-3.6 6.3"/><circle cx="-3.4" cy="6.4" r="0.8" fill="#6f9cc6" stroke="none"/><path d="M0.2 4.5L-1 6.3"/><circle cx="-0.8" cy="6.4" r="0.8" fill="#6f9cc6" stroke="none"/><path d="M2.8 4.5L1.6 6.3"/><circle cx="1.8" cy="6.4" r="0.8" fill="#6f9cc6" stroke="none"/></g></g><g transform="translate(671.2 267.91)"><g transform="translate(0 0) scale(1)"><g fill="#828282" stroke="#828282" stroke-width="0.8"><circle cx="-5.1" cy="-1.3" r="2.1"/><circle cx="-0.9" cy="-4.4" r="3.1"/><circle cx="5.2" cy="-2" r="2.7"/><rect x="-5.1" y="-2.6" width="10.3" height="3.4"/></g><g fill="#9c9c9c"><circle cx="-5.1" cy="-1.3" r="2.1"/><circle cx="-0.9" cy="-4.4" r="3.1"/><circle cx="5.2" cy="-2" r="2.7"/><rect x="-5.1" y="-2.6" width="10.3" height="3.4"/></g></g><g fill="#4a88c0"><circle cx="-4" cy="4" r="1.4" fill="#5e98cc"/><circle cx="0.7" cy="3.4" r="0.6"/><circle cx="2.9" cy="3.4" r="0.5"/><circle cx="-1.5" cy="5.2" r="0.5"/><circle cx="4.4" cy="5" r="0.6"/><circle cx="1" cy="6.3" r="0.45"/><circle cx="-2.7" cy="7.5" r="0.6"/></g></g><g transform="translate(696.4 267.91)"><circle cx="6.9" cy="-1.7" r="0.7" fill="#d7c9b4"/><circle cx="6.23" cy="0.8" r="0.7" fill="#d9a86a"/><circle cx="4.4" cy="2.63" r="0.7" fill="#d9a86a"/><circle cx="1.9" cy="3.3" r="0.7" fill="#d7c9b4"/><circle cx="-0.6" cy="2.63" r="0.7" fill="#d9a86a"/><circle cx="-2.43" cy="0.8" r="0.7" fill="#d9a86a"/><circle cx="-3.1" cy="-1.7" r="0.7" fill="#d7c9b4"/><circle cx="-2.43" cy="-4.2" r="0.7" fill="#d9a86a"/><circle cx="-0.6" cy="-6.03" r="0.7" fill="#d9a86a"/><circle cx="1.9" cy="-6.7" r="0.7" fill="#d7c9b4"/><circle cx="4.4" cy="-6.03" r="0.7" fill="#d9a86a"/><circle cx="6.23" cy="-4.2" r="0.7" fill="#d9a86a"/><circle cx="1.9" cy="-1.7" r="3.2" fill="#fdb32b" stroke="#f0a020" stroke-width="0.5"/><g transform="translate(-0.5 5.6) scale(0.96)"><g fill="#3c80bf" stroke="#3c80bf" stroke-width="0.83"><circle cx="-5.1" cy="-1.3" r="2.1"/><circle cx="-0.9" cy="-4.4" r="3.1"/><circle cx="5.2" cy="-2" r="2.7"/><rect x="-5.1" y="-2.6" width="10.3" height="3.4"/></g><g fill="#4f96d2"><circle cx="-5.1" cy="-1.3" r="2.1"/><circle cx="-0.9" cy="-4.4" r="3.1"/><circle cx="5.2" cy="-2" r="2.7"/><rect x="-5.1" y="-2.6" width="10.3" height="3.4"/></g></g></g><g transform="translate(199.65 299.41)"><g transform="translate(0 0) scale(1)"><g fill="#3c80bf" stroke="#3c80bf" stroke-width="0.8"><circle cx="-5.1" cy="-1.3" r="2.1"/><circle cx="-0.9" cy="-4.4" r="3.1"/><circle cx="5.2" cy="-2" r="2.7"/><rect x="-5.1" y="-2.6" width="10.3" height="3.4"/></g><g fill="#4f96d2"><circle cx="-5.1" cy="-1.3" r="2.1"/><circle cx="-0.9" cy="-4.4" r="3.1"/><circle cx="5.2" cy="-2" r="2.7"/><rect x="-5.1" y="-2.6" width="10.3" height="3.4"/></g></g><g fill="#4a88c0"><circle cx="-4" cy="4" r="1.4" fill="#5e98cc"/><circle cx="0.7" cy="3.4" r="0.6"/><circle cx="2.9" cy="3.4" r="0.5"/><circle cx="-1.5" cy="5.2" r="0.5"/><circle cx="4.4" cy="5" r="0.6"/><circle cx="1" cy="6.3" r="0.45"/><circle cx="-2.7" cy="7.5" r="0.6"/></g></g><g transform="translate(281.95 299.41)"><g transform="translate(0 0) scale(1)"><g fill="#828282" stroke="#828282" stroke-width="0.8"><circle cx="-5.1" cy="-1.3" r="2.1"/><circle cx="-0.9" cy="-4.4" r="3.1"/><circle cx="5.2" cy="-2" r="2.7"/><rect x="-5.1" y="-2.6" width="10.3" height="3.4"/></g><g fill="#9c9c9c"><circle cx="-5.1" cy="-1.3" r="2.1"/><circle cx="-0.9" cy="-4.4" r="3.1"/><circle cx="5.2" cy="-2" r="2.7"/><rect x="-5.1" y="-2.6" width="10.3" height="3.4"/></g></g><g fill="#4a88c0"><circle cx="-4" cy="4" r="1.4" fill="#5e98cc"/><circle cx="0.7" cy="3.4" r="0.6"/><circle cx="2.9" cy="3.4" r="0.5"/><circle cx="-1.5" cy="5.2" r="0.5"/><circle cx="4.4" cy="5" r="0.6"/><circle cx="1" cy="6.3" r="0.45"/><circle cx="-2.7" cy="7.5" r="0.6"/></g></g><g transform="translate(307.15 299.41)"><g transform="translate(0 0) scale(1)"><g fill="#3c80bf" stroke="#3c80bf" stroke-width="0.8"><circle cx="-5.1" cy="-1.3" r="2.1"/><circle cx="-0.9" cy="-4.4" r="3.1"/><circle cx="5.2" cy="-2" r="2.7"/><rect x="-5.1" y="-2.6" width="10.3" height="3.4"/></g><g fill="#4f96d2"><circle cx="-5.1" cy="-1.3" r="2.1"/><circle cx="-0.9" cy="-4.4" r="3.1"/><circle cx="5.2" cy="-2" r="2.7"/><rect x="-5.1" y="-2.6" width="10.3" height="3.4"/></g></g><g fill="#4a88c0"><circle cx="-4" cy="4" r="1.4" fill="#5e98cc"/><circle cx="0.7" cy="3.4" r="0.6"/><circle cx="2.9" cy="3.4" r="0.5"/><circle cx="-1.5" cy="5.2" r="0.5"/><circle cx="4.4" cy="5" r="0.6"/><circle cx="1" cy="6.3" r="0.45"/><circle cx="-2.7" cy="7.5" r="0.6"/></g></g><g transform="translate(379.95 299.41)"><g transform="translate(0 0) scale(1)"><g fill="#828282" stroke="#828282" stroke-width="0.8"><circle cx="-5.1" cy="-1.3" r="2.1"/><circle cx="-0.9" cy="-4.4" r="3.1"/><circle cx="5.2" cy="-2" r="2.7"/><rect x="-5.1" y="-2.6" width="10.3" height="3.4"/></g><g fill="#9c9c9c"><circle cx="-5.1" cy="-1.3" r="2.1"/><circle cx="-0.9" cy="-4.4" r="3.1"/><circle cx="5.2" cy="-2" r="2.7"/><rect x="-5.1" y="-2.6" width="10.3" height="3.4"/></g></g><g fill="#4a88c0"><circle cx="-4" cy="4" r="1.4" fill="#5e98cc"/><circle cx="0.7" cy="3.4" r="0.6"/><circle cx="2.9" cy="3.4" r="0.5"/><circle cx="-1.5" cy="5.2" r="0.5"/><circle cx="4.4" cy="5" r="0.6"/><circle cx="1" cy="6.3" r="0.45"/><circle cx="-2.7" cy="7.5" r="0.6"/></g></g><g transform="translate(405.1 299.41)"><g transform="translate(0 0) scale(1)"><g fill="#3c80bf" stroke="#3c80bf" stroke-width="0.8"><circle cx="-5.1" cy="-1.3" r="2.1"/><circle cx="-0.9" cy="-4.4" r="3.1"/><circle cx="5.2" cy="-2" r="2.7"/><rect x="-5.1" y="-2.6" width="10.3" height="3.4"/></g><g fill="#4f96d2"><circle cx="-5.1" cy="-1.3" r="2.1"/><circle cx="-0.9" cy="-4.4" r="3.1"/><circle cx="5.2" cy="-2" r="2.7"/><rect x="-5.1" y="-2.6" width="10.3" height="3.4"/></g></g><g fill="#4a88c0"><circle cx="-4" cy="4" r="1.4" fill="#5e98cc"/><circle cx="0.7" cy="3.4" r="0.6"/><circle cx="2.9" cy="3.4" r="0.5"/><circle cx="-1.5" cy="5.2" r="0.5"/><circle cx="4.4" cy="5" r="0.6"/><circle cx="1" cy="6.3" r="0.45"/><circle cx="-2.7" cy="7.5" r="0.6"/></g></g><g transform="translate(479 299.41)"><path d="M7.21 3.73A7.8 7.8 0 1 1 -1.42 -7.51A7.4 7.4 0 0 0 7.21 3.73Z" fill="#fcd02f" stroke="#e8b820" stroke-width="0.5"/></g><g transform="translate(504.2 299.41)"><circle cx="6.6" cy="-0.25" r="0.7" fill="#d7c9b4"/><circle cx="5.68" cy="3.2" r="0.7" fill="#d9a86a"/><circle cx="3.15" cy="5.73" r="0.7" fill="#d9a86a"/><circle cx="-0.3" cy="6.65" r="0.7" fill="#d7c9b4"/><circle cx="-3.75" cy="5.73" r="0.7" fill="#d9a86a"/><circle cx="-6.28" cy="3.2" r="0.7" fill="#d9a86a"/><circle cx="-7.2" cy="-0.25" r="0.7" fill="#d7c9b4"/><circle cx="-6.28" cy="-3.7" r="0.7" fill="#d9a86a"/><circle cx="-3.75" cy="-6.23" r="0.7" fill="#d9a86a"/><circle cx="-0.3" cy="-7.15" r="0.7" fill="#d7c9b4"/><circle cx="3.15" cy="-6.23" r="0.7" fill="#d9a86a"/><circle cx="5.68" cy="-3.7" r="0.7" fill="#d9a86a"/><circle cx="-0.3" cy="-0.25" r="4.2" fill="#fdb32b" stroke="#f0a020" stroke-width="0.5"/></g><g transform="translate(578.05 299.41)"><g transform="translate(-3.4 0.6) scale(0.6)"><g fill="#858585" stroke="#858585" stroke-width="1.33"><circle cx="-5.1" cy="-1.3" r="2.1"/><circle cx="-0.9" cy="-4.4" r="3.1"/><circle cx="5.2" cy="-2" r="2.7"/><rect x="-5.1" y="-2.6" width="10.3" height="3.4"/></g><g fill="#9a9a9a"><circle cx="-5.1" cy="-1.3" r="2.1"/><circle cx="-0.9" cy="-4.4" r="3.1"/><circle cx="5.2" cy="-2" r="2.7"/><rect x="-5.1" y="-2.6" width="10.3" height="3.4"/></g></g><path d="M6.82 -0.03A3.8 3.8 0 1 1 2.34 -5.35A3.6 3.6 0 0 0 6.82 -0.03Z" fill="#fcd02f" stroke="#e8b820" stroke-width="0.3"/><g transform="translate(1.9 5.6) scale(1.25 1)"><g transform="translate(0 0) scale(0.6)"><g fill="#ababab" stroke="#ababab" stroke-width="1.33"><circle cx="-5.1" cy="-1.3" r="2.1"/><circle cx="-0.9" cy="-4.4" r="3.1"/><circle cx="5.2" cy="-2" r="2.7"/><rect x="-5.1" y="-2.6" width="10.3" height="3.4"/></g><g fill="#c4c4c4"><circle cx="-5.1" cy="-1.3" r="2.1"/><circle cx="-0.9" cy="-4.4" r="3.1"/><circle cx="5.2" cy="-2" r="2.7"/><rect x="-5.1" y="-2.6" width="10.3" height="3.4"/></g></g></g></g><g transform="translate(603.25 299.41)"><g transform="translate(0 0) scale(1)"><g fill="#3c80bf" stroke="#3c80bf" stroke-width="0.8"><circle cx="-5.1" cy="-1.3" r="2.1"/><circle cx="-0.9" cy="-4.4" r="3.1"/><circle cx="5.2" cy="-2" r="2.7"/><rect x="-5.1" y="-2.6" width="10.3" height="3.4"/></g><g fill="#4f96d2"><circle cx="-5.1" cy="-1.3" r="2.1"/><circle cx="-0.9" cy="-4.4" r="3.1"/><circle cx="5.2" cy="-2" r="2.7"/><rect x="-5.1" y="-2.6" width="10.3" height="3.4"/></g></g><g fill="#4a88c0"><circle cx="-4" cy="4" r="1.4" fill="#5e98cc"/><circle cx="0.7" cy="3.4" r="0.6"/><circle cx="2.9" cy="3.4" r="0.5"/><circle cx="-1.5" cy="5.2" r="0.5"/><circle cx="4.4" cy="5" r="0.6"/><circle cx="1" cy="6.3" r="0.45"/><circle cx="-2.7" cy="7.5" r="0.6"/></g></g><g transform="translate(671.2 299.41)"><g transform="translate(0 0) scale(1)"><g fill="#828282" stroke="#828282" stroke-width="0.8"><circle cx="-5.1" cy="-1.3" r="2.1"/><circle cx="-0.9" cy="-4.4" r="3.1"/><circle cx="5.2" cy="-2" r="2.7"/><rect x="-5.1" y="-2.6" width="10.3" height="3.4"/></g><g fill="#9c9c9c"><circle cx="-5.1" cy="-1.3" r="2.1"/><circle cx="-0.9" cy="-4.4" r="3.1"/><circle cx="5.2" cy="-2" r="2.7"/><rect x="-5.1" y="-2.6" width="10.3" height="3.4"/></g></g><g fill="#4a88c0"><circle cx="-4" cy="4" r="1.4" fill="#5e98cc"/><circle cx="0.7" cy="3.4" r="0.6"/><circle cx="2.9" cy="3.4" r="0.5"/><circle cx="-1.5" cy="5.2" r="0.5"/><circle cx="4.4" cy="5" r="0.6"/><circle cx="1" cy="6.3" r="0.45"/><circle cx="-2.7" cy="7.5" r="0.6"/></g></g><g transform="translate(696.4 299.41)"><circle cx="6.9" cy="-1.7" r="0.7" fill="#d7c9b4"/><circle cx="6.23" cy="0.8" r="0.7" fill="#d9a86a"/><circle cx="4.4" cy="2.63" r="0.7" fill="#d9a86a"/><circle cx="1.9" cy="3.3" r="0.7" fill="#d7c9b4"/><circle cx="-0.6" cy="2.63" r="0.7" fill="#d9a86a"/><circle cx="-2.43" cy="0.8" r="0.7" fill="#d9a86a"/><circle cx="-3.1" cy="-1.7" r="0.7" fill="#d7c9b4"/><circle cx="-2.43" cy="-4.2" r="0.7" fill="#d9a86a"/><circle cx="-0.6" cy="-6.03" r="0.7" fill="#d9a86a"/><circle cx="1.9" cy="-6.7" r="0.7" fill="#d7c9b4"/><circle cx="4.4" cy="-6.03" r="0.7" fill="#d9a86a"/><circle cx="6.23" cy="-4.2" r="0.7" fill="#d9a86a"/><circle cx="1.9" cy="-1.7" r="3.2" fill="#fdb32b" stroke="#f0a020" stroke-width="0.5"/><g transform="translate(-0.5 5.6) scale(0.96)"><g fill="#3c80bf" stroke="#3c80bf" stroke-width="0.83"><circle cx="-5.1" cy="-1.3" r="2.1"/><circle cx="-0.9" cy="-4.4" r="3.1"/><circle cx="5.2" cy="-2" r="2.7"/><rect x="-5.1" y="-2.6" width="10.3" height="3.4"/></g><g fill="#4f96d2"><circle cx="-5.1" cy="-1.3" r="2.1"/><circle cx="-0.9" cy="-4.4" r="3.1"/><circle cx="5.2" cy="-2" r="2.7"/><rect x="-5.1" y="-2.6" width="10.3" height="3.4"/></g></g></g><g transform="translate(199.65 330.92)"><g transform="translate(0 0) scale(1)"><g fill="#3c80bf" stroke="#3c80bf" stroke-width="0.8"><circle cx="-5.1" cy="-1.3" r="2.1"/><circle cx="-0.9" cy="-4.4" r="3.1"/><circle cx="5.2" cy="-2" r="2.7"/><rect x="-5.1" y="-2.6" width="10.3" height="3.4"/></g><g fill="#4f96d2"><circle cx="-5.1" cy="-1.3" r="2.1"/><circle cx="-0.9" cy="-4.4" r="3.1"/><circle cx="5.2" cy="-2" r="2.7"/><rect x="-5.1" y="-2.6" width="10.3" height="3.4"/></g></g><g fill="#4a88c0"><circle cx="-4" cy="4" r="1.4" fill="#5e98cc"/><circle cx="0.7" cy="3.4" r="0.6"/><circle cx="2.9" cy="3.4" r="0.5"/><circle cx="-1.5" cy="5.2" r="0.5"/><circle cx="4.4" cy="5" r="0.6"/><circle cx="1" cy="6.3" r="0.45"/><circle cx="-2.7" cy="7.5" r="0.6"/></g></g><g transform="translate(281.95 330.92)"><g transform="translate(0 0) scale(1)"><g fill="#828282" stroke="#828282" stroke-width="0.8"><circle cx="-5.1" cy="-1.3" r="2.1"/><circle cx="-0.9" cy="-4.4" r="3.1"/><circle cx="5.2" cy="-2" r="2.7"/><rect x="-5.1" y="-2.6" width="10.3" height="3.4"/></g><g fill="#9c9c9c"><circle cx="-5.1" cy="-1.3" r="2.1"/><circle cx="-0.9" cy="-4.4" r="3.1"/><circle cx="5.2" cy="-2" r="2.7"/><rect x="-5.1" y="-2.6" width="10.3" height="3.4"/></g></g><g fill="#4a88c0"><circle cx="-4" cy="4" r="1.4" fill="#5e98cc"/><circle cx="0.7" cy="3.4" r="0.6"/><circle cx="2.9" cy="3.4" r="0.5"/><circle cx="-1.5" cy="5.2" r="0.5"/><circle cx="4.4" cy="5" r="0.6"/><circle cx="1" cy="6.3" r="0.45"/><circle cx="-2.7" cy="7.5" r="0.6"/></g></g><g transform="translate(307.15 330.92)"><g transform="translate(0 0) scale(1)"><g fill="#3c80bf" stroke="#3c80bf" stroke-width="0.8"><circle cx="-5.1" cy="-1.3" r="2.1"/><circle cx="-0.9" cy="-4.4" r="3.1"/><circle cx="5.2" cy="-2" r="2.7"/><rect x="-5.1" y="-2.6" width="10.3" height="3.4"/></g><g fill="#4f96d2"><circle cx="-5.1" cy="-1.3" r="2.1"/><circle cx="-0.9" cy="-4.4" r="3.1"/><circle cx="5.2" cy="-2" r="2.7"/><rect x="-5.1" y="-2.6" width="10.3" height="3.4"/></g></g><g fill="#4a88c0"><circle cx="-4" cy="4" r="1.4" fill="#5e98cc"/><circle cx="0.7" cy="3.4" r="0.6"/><circle cx="2.9" cy="3.4" r="0.5"/><circle cx="-1.5" cy="5.2" r="0.5"/><circle cx="4.4" cy="5" r="0.6"/><circle cx="1" cy="6.3" r="0.45"/><circle cx="-2.7" cy="7.5" r="0.6"/></g></g><g transform="translate(379.95 330.92)"><path d="M7.57 -1.36A3.5 3.5 0 1 1 3.61 -6.03A3.2 3.2 0 0 0 7.57 -1.36Z" fill="#fcd02f" stroke="#e8b820" stroke-width="0.3"/><g transform="translate(-0.7 4.4) scale(0.94)"><g fill="#828282" stroke="#828282" stroke-width="0.85"><circle cx="-5.1" cy="-1.3" r="2.1"/><circle cx="-0.9" cy="-4.4" r="3.1"/><circle cx="5.2" cy="-2" r="2.7"/><rect x="-5.1" y="-2.6" width="10.3" height="3.4"/></g><g fill="#9c9c9c"><circle cx="-5.1" cy="-1.3" r="2.1"/><circle cx="-0.9" cy="-4.4" r="3.1"/><circle cx="5.2" cy="-2" r="2.7"/><rect x="-5.1" y="-2.6" width="10.3" height="3.4"/></g></g></g><g transform="translate(405.1 330.92)"><circle cx="6.9" cy="-1.7" r="0.7" fill="#d7c9b4"/><circle cx="6.23" cy="0.8" r="0.7" fill="#d9a86a"/><circle cx="4.4" cy="2.63" r="0.7" fill="#d9a86a"/><circle cx="1.9" cy="3.3" r="0.7" fill="#d7c9b4"/><circle cx="-0.6" cy="2.63" r="0.7" fill="#d9a86a"/><circle cx="-2.43" cy="0.8" r="0.7" fill="#d9a86a"/><circle cx="-3.1" cy="-1.7" r="0.7" fill="#d7c9b4"/><circle cx="-2.43" cy="-4.2" r="0.7" fill="#d9a86a"/><circle cx="-0.6" cy="-6.03" r="0.7" fill="#d9a86a"/><circle cx="1.9" cy="-6.7" r="0.7" fill="#d7c9b4"/><circle cx="4.4" cy="-6.03" r="0.7" fill="#d9a86a"/><circle cx="6.23" cy="-4.2" r="0.7" fill="#d9a86a"/><circle cx="1.9" cy="-1.7" r="3.2" fill="#fdb32b" stroke="#f0a020" stroke-width="0.5"/><g transform="translate(-0.5 5.6) scale(0.96)"><g fill="#3c80bf" stroke="#3c80bf" stroke-width="0.83"><circle cx="-5.1" cy="-1.3" r="2.1"/><circle cx="-0.9" cy="-4.4" r="3.1"/><circle cx="5.2" cy="-2" r="2.7"/><rect x="-5.1" y="-2.6" width="10.3" height="3.4"/></g><g fill="#4f96d2"><circle cx="-5.1" cy="-1.3" r="2.1"/><circle cx="-0.9" cy="-4.4" r="3.1"/><circle cx="5.2" cy="-2" r="2.7"/><rect x="-5.1" y="-2.6" width="10.3" height="3.4"/></g></g></g><g transform="translate(479 330.92)"><path d="M7.21 3.73A7.8 7.8 0 1 1 -1.42 -7.51A7.4 7.4 0 0 0 7.21 3.73Z" fill="#fcd02f" stroke="#e8b820" stroke-width="0.5"/></g><g transform="translate(504.2 330.92)"><circle cx="6.6" cy="-0.25" r="0.7" fill="#d7c9b4"/><circle cx="5.68" cy="3.2" r="0.7" fill="#d9a86a"/><circle cx="3.15" cy="5.73" r="0.7" fill="#d9a86a"/><circle cx="-0.3" cy="6.65" r="0.7" fill="#d7c9b4"/><circle cx="-3.75" cy="5.73" r="0.7" fill="#d9a86a"/><circle cx="-6.28" cy="3.2" r="0.7" fill="#d9a86a"/><circle cx="-7.2" cy="-0.25" r="0.7" fill="#d7c9b4"/><circle cx="-6.28" cy="-3.7" r="0.7" fill="#d9a86a"/><circle cx="-3.75" cy="-6.23" r="0.7" fill="#d9a86a"/><circle cx="-0.3" cy="-7.15" r="0.7" fill="#d7c9b4"/><circle cx="3.15" cy="-6.23" r="0.7" fill="#d9a86a"/><circle cx="5.68" cy="-3.7" r="0.7" fill="#d9a86a"/><circle cx="-0.3" cy="-0.25" r="4.2" fill="#fdb32b" stroke="#f0a020" stroke-width="0.5"/></g><g transform="translate(578.05 330.92)"><path d="M7.57 -1.36A3.5 3.5 0 1 1 3.61 -6.03A3.2 3.2 0 0 0 7.57 -1.36Z" fill="#fcd02f" stroke="#e8b820" stroke-width="0.3"/><g transform="translate(-0.7 4.4) scale(0.94)"><g fill="#828282" stroke="#828282" stroke-width="0.85"><circle cx="-5.1" cy="-1.3" r="2.1"/><circle cx="-0.9" cy="-4.4" r="3.1"/><circle cx="5.2" cy="-2" r="2.7"/><rect x="-5.1" y="-2.6" width="10.3" height="3.4"/></g><g fill="#9c9c9c"><circle cx="-5.1" cy="-1.3" r="2.1"/><circle cx="-0.9" cy="-4.4" r="3.1"/><circle cx="5.2" cy="-2" r="2.7"/><rect x="-5.1" y="-2.6" width="10.3" height="3.4"/></g></g></g><g transform="translate(603.25 330.92)"><circle cx="6.23" cy="-2.41" r="0.7" fill="#d7c9b4"/><circle cx="4.73" cy="-5.01" r="0.7" fill="#d9a86a"/><circle cx="2.31" cy="-6.77" r="0.7" fill="#d9a86a"/><circle cx="-0.62" cy="-7.39" r="0.7" fill="#d7c9b4"/><circle cx="-3.55" cy="-6.77" r="0.7" fill="#d9a86a"/><circle cx="-5.97" cy="-5.01" r="0.7" fill="#d9a86a"/><circle cx="-7.47" cy="-2.41" r="0.7" fill="#d7c9b4"/><path d="M-5.62 -0.19A5 5 0 0 1 4.38 -0.19V3H-5.62Z" fill="#fdb32b" stroke="#f0a020" stroke-width="0.5"/><path d="M-8.4 0.6Q-8.4 -0.2 -7.6 -0.2H-5.6L-4.9 1.3L-3.6 1.6L-2.6 2.5L-1.4 1.9L0.2 2.0L1.4 1.2L3.2 1.0L4.4 -0.2H6.9Q7.7 -0.2 7.7 0.8V2.6Q7.7 3.5 6.7 3.5H4.8V7Q4.8 7.8 4 7.8H-4.2Q-4.96 7.8 -4.96 7V5.5Q-4.96 4.7 -4.2 4.7H-2.07V3.5H-7.6Q-8.4 3.5 -8.4 2.8Z" fill="#4a90cc" stroke="#3b7fbd" stroke-width="0.5"/></g><g transform="translate(671.2 330.92)"><g transform="translate(0 0) scale(1)"><g fill="#828282" stroke="#828282" stroke-width="0.8"><circle cx="-5.1" cy="-1.3" r="2.1"/><circle cx="-0.9" cy="-4.4" r="3.1"/><circle cx="5.2" cy="-2" r="2.7"/><rect x="-5.1" y="-2.6" width="10.3" height="3.4"/></g><g fill="#9c9c9c"><circle cx="-5.1" cy="-1.3" r="2.1"/><circle cx="-0.9" cy="-4.4" r="3.1"/><circle cx="5.2" cy="-2" r="2.7"/><rect x="-5.1" y="-2.6" width="10.3" height="3.4"/></g></g><g fill="#4a88c0"><circle cx="-4" cy="4" r="1.4" fill="#5e98cc"/><circle cx="0.7" cy="3.4" r="0.6"/><circle cx="2.9" cy="3.4" r="0.5"/><circle cx="-1.5" cy="5.2" r="0.5"/><circle cx="4.4" cy="5" r="0.6"/><circle cx="1" cy="6.3" r="0.45"/><circle cx="-2.7" cy="7.5" r="0.6"/></g></g><g transform="translate(696.4 330.92)"><circle cx="6.9" cy="-1.7" r="0.7" fill="#d7c9b4"/><circle cx="6.23" cy="0.8" r="0.7" fill="#d9a86a"/><circle cx="4.4" cy="2.63" r="0.7" fill="#d9a86a"/><circle cx="1.9" cy="3.3" r="0.7" fill="#d7c9b4"/><circle cx="-0.6" cy="2.63" r="0.7" fill="#d9a86a"/><circle cx="-2.43" cy="0.8" r="0.7" fill="#d9a86a"/><circle cx="-3.1" cy="-1.7" r="0.7" fill="#d7c9b4"/><circle cx="-2.43" cy="-4.2" r="0.7" fill="#d9a86a"/><circle cx="-0.6" cy="-6.03" r="0.7" fill="#d9a86a"/><circle cx="1.9" cy="-6.7" r="0.7" fill="#d7c9b4"/><circle cx="4.4" cy="-6.03" r="0.7" fill="#d9a86a"/><circle cx="6.23" cy="-4.2" r="0.7" fill="#d9a86a"/><circle cx="1.9" cy="-1.7" r="3.2" fill="#fdb32b" stroke="#f0a020" stroke-width="0.5"/><g transform="translate(-0.5 5.6) scale(0.96)"><g fill="#3c80bf" stroke="#3c80bf" stroke-width="0.83"><circle cx="-5.1" cy="-1.3" r="2.1"/><circle cx="-0.9" cy="-4.4" r="3.1"/><circle cx="5.2" cy="-2" r="2.7"/><rect x="-5.1" y="-2.6" width="10.3" height="3.4"/></g><g fill="#4f96d2"><circle cx="-5.1" cy="-1.3" r="2.1"/><circle cx="-0.9" cy="-4.4" r="3.1"/><circle cx="5.2" cy="-2" r="2.7"/><rect x="-5.1" y="-2.6" width="10.3" height="3.4"/></g></g></g><g transform="translate(199.65 362.42)"><g transform="translate(0 0.2) scale(1)"><g fill="#3c80bf" stroke="#3c80bf" stroke-width="0.8"><circle cx="-5.1" cy="-1.3" r="2.1"/><circle cx="-0.9" cy="-4.4" r="3.1"/><circle cx="5.2" cy="-2" r="2.7"/><rect x="-5.1" y="-2.6" width="10.3" height="3.4"/></g><g fill="#4f96d2"><circle cx="-5.1" cy="-1.3" r="2.1"/><circle cx="-0.9" cy="-4.4" r="3.1"/><circle cx="5.2" cy="-2" r="2.7"/><rect x="-5.1" y="-2.6" width="10.3" height="3.4"/></g></g><g fill="#4a88c0"><circle cx="-3.6" cy="2.4" r="1"/><circle cx="-4.5" cy="4.6" r="0.5"/><circle cx="-2.2" cy="4.6" r="0.5"/><circle cx="0" cy="4" r="0.5"/><circle cx="2" cy="4" r="0.5"/><circle cx="-1.6" cy="5.6" r="0.7"/><circle cx="0.6" cy="5.6" r="0.5"/><circle cx="2.8" cy="5.6" r="0.5"/><circle cx="-3.4" cy="6.6" r="0.5"/><circle cx="-0.4" cy="7.2" r="0.5"/><circle cx="4.5" cy="6.5" r="1.3"/><circle cx="5.5" cy="3.5" r="0.6"/></g></g><g transform="translate(281.95 362.42)"><g transform="translate(0 0) scale(1)"><g fill="#828282" stroke="#828282" stroke-width="0.8"><circle cx="-5.1" cy="-1.3" r="2.1"/><circle cx="-0.9" cy="-4.4" r="3.1"/><circle cx="5.2" cy="-2" r="2.7"/><rect x="-5.1" y="-2.6" width="10.3" height="3.4"/></g><g fill="#9c9c9c"><circle cx="-5.1" cy="-1.3" r="2.1"/><circle cx="-0.9" cy="-4.4" r="3.1"/><circle cx="5.2" cy="-2" r="2.7"/><rect x="-5.1" y="-2.6" width="10.3" height="3.4"/></g></g><g fill="#4a88c0"><circle cx="-4" cy="4" r="1.4" fill="#5e98cc"/><circle cx="0.7" cy="3.4" r="0.6"/><circle cx="2.9" cy="3.4" r="0.5"/><circle cx="-1.5" cy="5.2" r="0.5"/><circle cx="4.4" cy="5" r="0.6"/><circle cx="1" cy="6.3" r="0.45"/><circle cx="-2.7" cy="7.5" r="0.6"/></g></g><g transform="translate(307.15 362.42)"><g transform="translate(2.85 0) scale(0.64)"><g fill="#357ab5" stroke="#357ab5" stroke-width="1.25"><circle cx="-5.1" cy="-1.3" r="2.1"/><circle cx="-0.9" cy="-4.4" r="3.1"/><circle cx="5.2" cy="-2" r="2.7"/><rect x="-5.1" y="-2.6" width="10.3" height="3.4"/></g><g fill="#3f86c3"><circle cx="-5.1" cy="-1.3" r="2.1"/><circle cx="-0.9" cy="-4.4" r="3.1"/><circle cx="5.2" cy="-2" r="2.7"/><rect x="-5.1" y="-2.6" width="10.3" height="3.4"/></g></g><g transform="translate(-2.37 3.75) scale(0.69)"><g fill="#4a8fc8" stroke="#4a8fc8" stroke-width="1.16"><circle cx="-5.1" cy="-1.3" r="2.1"/><circle cx="-0.9" cy="-4.4" r="3.1"/><circle cx="5.2" cy="-2" r="2.7"/><rect x="-5.1" y="-2.6" width="10.3" height="3.4"/></g><g fill="#5aa2da"><circle cx="-5.1" cy="-1.3" r="2.1"/><circle cx="-0.9" cy="-4.4" r="3.1"/><circle cx="5.2" cy="-2" r="2.7"/><rect x="-5.1" y="-2.6" width="10.3" height="3.4"/></g></g></g><g transform="translate(379.95 362.42)"><path d="M7.57 -1.36A3.5 3.5 0 1 1 3.61 -6.03A3.2 3.2 0 0 0 7.57 -1.36Z" fill="#fcd02f" stroke="#e8b820" stroke-width="0.3"/><g transform="translate(-0.7 4.4) scale(0.94)"><g fill="#828282" stroke="#828282" stroke-width="0.85"><circle cx="-5.1" cy="-1.3" r="2.1"/><circle cx="-0.9" cy="-4.4" r="3.1"/><circle cx="5.2" cy="-2" r="2.7"/><rect x="-5.1" y="-2.6" width="10.3" height="3.4"/></g><g fill="#9c9c9c"><circle cx="-5.1" cy="-1.3" r="2.1"/><circle cx="-0.9" cy="-4.4" r="3.1"/><circle cx="5.2" cy="-2" r="2.7"/><rect x="-5.1" y="-2.6" width="10.3" height="3.4"/></g></g></g><g transform="translate(405.1 362.42)"><circle cx="6.9" cy="-1.7" r="0.7" fill="#d7c9b4"/><circle cx="6.23" cy="0.8" r="0.7" fill="#d9a86a"/><circle cx="4.4" cy="2.63" r="0.7" fill="#d9a86a"/><circle cx="1.9" cy="3.3" r="0.7" fill="#d7c9b4"/><circle cx="-0.6" cy="2.63" r="0.7" fill="#d9a86a"/><circle cx="-2.43" cy="0.8" r="0.7" fill="#d9a86a"/><circle cx="-3.1" cy="-1.7" r="0.7" fill="#d7c9b4"/><circle cx="-2.43" cy="-4.2" r="0.7" fill="#d9a86a"/><circle cx="-0.6" cy="-6.03" r="0.7" fill="#d9a86a"/><circle cx="1.9" cy="-6.7" r="0.7" fill="#d7c9b4"/><circle cx="4.4" cy="-6.03" r="0.7" fill="#d9a86a"/><circle cx="6.23" cy="-4.2" r="0.7" fill="#d9a86a"/><circle cx="1.9" cy="-1.7" r="3.2" fill="#fdb32b" stroke="#f0a020" stroke-width="0.5"/><g transform="translate(-0.5 5.6) scale(0.96)"><g fill="#3c80bf" stroke="#3c80bf" stroke-width="0.83"><circle cx="-5.1" cy="-1.3" r="2.1"/><circle cx="-0.9" cy="-4.4" r="3.1"/><circle cx="5.2" cy="-2" r="2.7"/><rect x="-5.1" y="-2.6" width="10.3" height="3.4"/></g><g fill="#4f96d2"><circle cx="-5.1" cy="-1.3" r="2.1"/><circle cx="-0.9" cy="-4.4" r="3.1"/><circle cx="5.2" cy="-2" r="2.7"/><rect x="-5.1" y="-2.6" width="10.3" height="3.4"/></g></g></g><g transform="translate(479 362.42)"><path d="M7.21 3.73A7.8 7.8 0 1 1 -1.42 -7.51A7.4 7.4 0 0 0 7.21 3.73Z" fill="#fcd02f" stroke="#e8b820" stroke-width="0.5"/></g><g transform="translate(504.2 362.42)"><circle cx="6.6" cy="-0.25" r="0.7" fill="#d7c9b4"/><circle cx="5.68" cy="3.2" r="0.7" fill="#d9a86a"/><circle cx="3.15" cy="5.73" r="0.7" fill="#d9a86a"/><circle cx="-0.3" cy="6.65" r="0.7" fill="#d7c9b4"/><circle cx="-3.75" cy="5.73" r="0.7" fill="#d9a86a"/><circle cx="-6.28" cy="3.2" r="0.7" fill="#d9a86a"/><circle cx="-7.2" cy="-0.25" r="0.7" fill="#d7c9b4"/><circle cx="-6.28" cy="-3.7" r="0.7" fill="#d9a86a"/><circle cx="-3.75" cy="-6.23" r="0.7" fill="#d9a86a"/><circle cx="-0.3" cy="-7.15" r="0.7" fill="#d7c9b4"/><circle cx="3.15" cy="-6.23" r="0.7" fill="#d9a86a"/><circle cx="5.68" cy="-3.7" r="0.7" fill="#d9a86a"/><circle cx="-0.3" cy="-0.25" r="4.2" fill="#fdb32b" stroke="#f0a020" stroke-width="0.5"/></g><g transform="translate(578.05 362.42)"><path d="M7.57 -1.36A3.5 3.5 0 1 1 3.61 -6.03A3.2 3.2 0 0 0 7.57 -1.36Z" fill="#fcd02f" stroke="#e8b820" stroke-width="0.3"/><g transform="translate(-0.7 4.4) scale(0.94)"><g fill="#828282" stroke="#828282" stroke-width="0.85"><circle cx="-5.1" cy="-1.3" r="2.1"/><circle cx="-0.9" cy="-4.4" r="3.1"/><circle cx="5.2" cy="-2" r="2.7"/><rect x="-5.1" y="-2.6" width="10.3" height="3.4"/></g><g fill="#9c9c9c"><circle cx="-5.1" cy="-1.3" r="2.1"/><circle cx="-0.9" cy="-4.4" r="3.1"/><circle cx="5.2" cy="-2" r="2.7"/><rect x="-5.1" y="-2.6" width="10.3" height="3.4"/></g></g></g><g transform="translate(603.25 362.42)"><circle cx="6.23" cy="-2.41" r="0.7" fill="#d7c9b4"/><circle cx="4.73" cy="-5.01" r="0.7" fill="#d9a86a"/><circle cx="2.31" cy="-6.77" r="0.7" fill="#d9a86a"/><circle cx="-0.62" cy="-7.39" r="0.7" fill="#d7c9b4"/><circle cx="-3.55" cy="-6.77" r="0.7" fill="#d9a86a"/><circle cx="-5.97" cy="-5.01" r="0.7" fill="#d9a86a"/><circle cx="-7.47" cy="-2.41" r="0.7" fill="#d7c9b4"/><path d="M-5.62 -0.19A5 5 0 0 1 4.38 -0.19V3H-5.62Z" fill="#fdb32b" stroke="#f0a020" stroke-width="0.5"/><path d="M-8.4 0.6Q-8.4 -0.2 -7.6 -0.2H-5.6L-4.9 1.3L-3.6 1.6L-2.6 2.5L-1.4 1.9L0.2 2.0L1.4 1.2L3.2 1.0L4.4 -0.2H6.9Q7.7 -0.2 7.7 0.8V2.6Q7.7 3.5 6.7 3.5H4.8V7Q4.8 7.8 4 7.8H-4.2Q-4.96 7.8 -4.96 7V5.5Q-4.96 4.7 -4.2 4.7H-2.07V3.5H-7.6Q-8.4 3.5 -8.4 2.8Z" fill="#4a90cc" stroke="#3b7fbd" stroke-width="0.5"/></g><g transform="translate(671.2 362.42)"><g transform="translate(0 0) scale(1)"><g fill="#828282" stroke="#828282" stroke-width="0.8"><circle cx="-5.1" cy="-1.3" r="2.1"/><circle cx="-0.9" cy="-4.4" r="3.1"/><circle cx="5.2" cy="-2" r="2.7"/><rect x="-5.1" y="-2.6" width="10.3" height="3.4"/></g><g fill="#9c9c9c"><circle cx="-5.1" cy="-1.3" r="2.1"/><circle cx="-0.9" cy="-4.4" r="3.1"/><circle cx="5.2" cy="-2" r="2.7"/><rect x="-5.1" y="-2.6" width="10.3" height="3.4"/></g></g><g fill="#4a88c0"><circle cx="-4" cy="4" r="1.4" fill="#5e98cc"/><circle cx="0.7" cy="3.4" r="0.6"/><circle cx="2.9" cy="3.4" r="0.5"/><circle cx="-1.5" cy="5.2" r="0.5"/><circle cx="4.4" cy="5" r="0.6"/><circle cx="1" cy="6.3" r="0.45"/><circle cx="-2.7" cy="7.5" r="0.6"/></g></g><g transform="translate(696.4 362.42)"><circle cx="6.9" cy="-1.7" r="0.7" fill="#d7c9b4"/><circle cx="6.23" cy="0.8" r="0.7" fill="#d9a86a"/><circle cx="4.4" cy="2.63" r="0.7" fill="#d9a86a"/><circle cx="1.9" cy="3.3" r="0.7" fill="#d7c9b4"/><circle cx="-0.6" cy="2.63" r="0.7" fill="#d9a86a"/><circle cx="-2.43" cy="0.8" r="0.7" fill="#d9a86a"/><circle cx="-3.1" cy="-1.7" r="0.7" fill="#d7c9b4"/><circle cx="-2.43" cy="-4.2" r="0.7" fill="#d9a86a"/><circle cx="-0.6" cy="-6.03" r="0.7" fill="#d9a86a"/><circle cx="1.9" cy="-6.7" r="0.7" fill="#d7c9b4"/><circle cx="4.4" cy="-6.03" r="0.7" fill="#d9a86a"/><circle cx="6.23" cy="-4.2" r="0.7" fill="#d9a86a"/><circle cx="1.9" cy="-1.7" r="3.2" fill="#fdb32b" stroke="#f0a020" stroke-width="0.5"/><g transform="translate(-0.5 5.6) scale(0.96)"><g fill="#3c80bf" stroke="#3c80bf" stroke-width="0.83"><circle cx="-5.1" cy="-1.3" r="2.1"/><circle cx="-0.9" cy="-4.4" r="3.1"/><circle cx="5.2" cy="-2" r="2.7"/><rect x="-5.1" y="-2.6" width="10.3" height="3.4"/></g><g fill="#4f96d2"><circle cx="-5.1" cy="-1.3" r="2.1"/><circle cx="-0.9" cy="-4.4" r="3.1"/><circle cx="5.2" cy="-2" r="2.7"/><rect x="-5.1" y="-2.6" width="10.3" height="3.4"/></g></g></g><g transform="translate(199.65 393.92)"><g transform="translate(2.85 0) scale(0.64)"><g fill="#357ab5" stroke="#357ab5" stroke-width="1.25"><circle cx="-5.1" cy="-1.3" r="2.1"/><circle cx="-0.9" cy="-4.4" r="3.1"/><circle cx="5.2" cy="-2" r="2.7"/><rect x="-5.1" y="-2.6" width="10.3" height="3.4"/></g><g fill="#3f86c3"><circle cx="-5.1" cy="-1.3" r="2.1"/><circle cx="-0.9" cy="-4.4" r="3.1"/><circle cx="5.2" cy="-2" r="2.7"/><rect x="-5.1" y="-2.6" width="10.3" height="3.4"/></g></g><g transform="translate(-2.37 3.75) scale(0.69)"><g fill="#4a8fc8" stroke="#4a8fc8" stroke-width="1.16"><circle cx="-5.1" cy="-1.3" r="2.1"/><circle cx="-0.9" cy="-4.4" r="3.1"/><circle cx="5.2" cy="-2" r="2.7"/><rect x="-5.1" y="-2.6" width="10.3" height="3.4"/></g><g fill="#5aa2da"><circle cx="-5.1" cy="-1.3" r="2.1"/><circle cx="-0.9" cy="-4.4" r="3.1"/><circle cx="5.2" cy="-2" r="2.7"/><rect x="-5.1" y="-2.6" width="10.3" height="3.4"/></g></g></g><g transform="translate(281.95 393.92)"><g transform="translate(2.85 0) scale(0.64)"><g fill="#ababab" stroke="#ababab" stroke-width="1.25"><circle cx="-5.1" cy="-1.3" r="2.1"/><circle cx="-0.9" cy="-4.4" r="3.1"/><circle cx="5.2" cy="-2" r="2.7"/><rect x="-5.1" y="-2.6" width="10.3" height="3.4"/></g><g fill="#c4c4c4"><circle cx="-5.1" cy="-1.3" r="2.1"/><circle cx="-0.9" cy="-4.4" r="3.1"/><circle cx="5.2" cy="-2" r="2.7"/><rect x="-5.1" y="-2.6" width="10.3" height="3.4"/></g></g><g transform="translate(-2.37 3.75) scale(0.69)"><g fill="#8e8e8e" stroke="#8e8e8e" stroke-width="1.16"><circle cx="-5.1" cy="-1.3" r="2.1"/><circle cx="-0.9" cy="-4.4" r="3.1"/><circle cx="5.2" cy="-2" r="2.7"/><rect x="-5.1" y="-2.6" width="10.3" height="3.4"/></g><g fill="#a3a3a3"><circle cx="-5.1" cy="-1.3" r="2.1"/><circle cx="-0.9" cy="-4.4" r="3.1"/><circle cx="5.2" cy="-2" r="2.7"/><rect x="-5.1" y="-2.6" width="10.3" height="3.4"/></g></g></g><g transform="translate(307.15 393.92)"><g transform="translate(2.85 0) scale(0.64)"><g fill="#357ab5" stroke="#357ab5" stroke-width="1.25"><circle cx="-5.1" cy="-1.3" r="2.1"/><circle cx="-0.9" cy="-4.4" r="3.1"/><circle cx="5.2" cy="-2" r="2.7"/><rect x="-5.1" y="-2.6" width="10.3" height="3.4"/></g><g fill="#3f86c3"><circle cx="-5.1" cy="-1.3" r="2.1"/><circle cx="-0.9" cy="-4.4" r="3.1"/><circle cx="5.2" cy="-2" r="2.7"/><rect x="-5.1" y="-2.6" width="10.3" height="3.4"/></g></g><g transform="translate(-2.37 3.75) scale(0.69)"><g fill="#4a8fc8" stroke="#4a8fc8" stroke-width="1.16"><circle cx="-5.1" cy="-1.3" r="2.1"/><circle cx="-0.9" cy="-4.4" r="3.1"/><circle cx="5.2" cy="-2" r="2.7"/><rect x="-5.1" y="-2.6" width="10.3" height="3.4"/></g><g fill="#5aa2da"><circle cx="-5.1" cy="-1.3" r="2.1"/><circle cx="-0.9" cy="-4.4" r="3.1"/><circle cx="5.2" cy="-2" r="2.7"/><rect x="-5.1" y="-2.6" width="10.3" height="3.4"/></g></g></g><g transform="translate(379.95 393.92)"><path d="M7.57 -1.36A3.5 3.5 0 1 1 3.61 -6.03A3.2 3.2 0 0 0 7.57 -1.36Z" fill="#fcd02f" stroke="#e8b820" stroke-width="0.3"/><g transform="translate(-0.7 4.4) scale(0.94)"><g fill="#828282" stroke="#828282" stroke-width="0.85"><circle cx="-5.1" cy="-1.3" r="2.1"/><circle cx="-0.9" cy="-4.4" r="3.1"/><circle cx="5.2" cy="-2" r="2.7"/><rect x="-5.1" y="-2.6" width="10.3" height="3.4"/></g><g fill="#9c9c9c"><circle cx="-5.1" cy="-1.3" r="2.1"/><circle cx="-0.9" cy="-4.4" r="3.1"/><circle cx="5.2" cy="-2" r="2.7"/><rect x="-5.1" y="-2.6" width="10.3" height="3.4"/></g></g></g><g transform="translate(405.1 393.92)"><circle cx="6.9" cy="-1.7" r="0.7" fill="#d7c9b4"/><circle cx="6.23" cy="0.8" r="0.7" fill="#d9a86a"/><circle cx="4.4" cy="2.63" r="0.7" fill="#d9a86a"/><circle cx="1.9" cy="3.3" r="0.7" fill="#d7c9b4"/><circle cx="-0.6" cy="2.63" r="0.7" fill="#d9a86a"/><circle cx="-2.43" cy="0.8" r="0.7" fill="#d9a86a"/><circle cx="-3.1" cy="-1.7" r="0.7" fill="#d7c9b4"/><circle cx="-2.43" cy="-4.2" r="0.7" fill="#d9a86a"/><circle cx="-0.6" cy="-6.03" r="0.7" fill="#d9a86a"/><circle cx="1.9" cy="-6.7" r="0.7" fill="#d7c9b4"/><circle cx="4.4" cy="-6.03" r="0.7" fill="#d9a86a"/><circle cx="6.23" cy="-4.2" r="0.7" fill="#d9a86a"/><circle cx="1.9" cy="-1.7" r="3.2" fill="#fdb32b" stroke="#f0a020" stroke-width="0.5"/><g transform="translate(-0.5 5.6) scale(0.96)"><g fill="#3c80bf" stroke="#3c80bf" stroke-width="0.83"><circle cx="-5.1" cy="-1.3" r="2.1"/><circle cx="-0.9" cy="-4.4" r="3.1"/><circle cx="5.2" cy="-2" r="2.7"/><rect x="-5.1" y="-2.6" width="10.3" height="3.4"/></g><g fill="#4f96d2"><circle cx="-5.1" cy="-1.3" r="2.1"/><circle cx="-0.9" cy="-4.4" r="3.1"/><circle cx="5.2" cy="-2" r="2.7"/><rect x="-5.1" y="-2.6" width="10.3" height="3.4"/></g></g></g><g transform="translate(479 393.92)"><path d="M7.21 3.73A7.8 7.8 0 1 1 -1.42 -7.51A7.4 7.4 0 0 0 7.21 3.73Z" fill="#fcd02f" stroke="#e8b820" stroke-width="0.5"/></g><g transform="translate(504.2 393.92)"><circle cx="6.6" cy="-0.25" r="0.7" fill="#d7c9b4"/><circle cx="5.68" cy="3.2" r="0.7" fill="#d9a86a"/><circle cx="3.15" cy="5.73" r="0.7" fill="#d9a86a"/><circle cx="-0.3" cy="6.65" r="0.7" fill="#d7c9b4"/><circle cx="-3.75" cy="5.73" r="0.7" fill="#d9a86a"/><circle cx="-6.28" cy="3.2" r="0.7" fill="#d9a86a"/><circle cx="-7.2" cy="-0.25" r="0.7" fill="#d7c9b4"/><circle cx="-6.28" cy="-3.7" r="0.7" fill="#d9a86a"/><circle cx="-3.75" cy="-6.23" r="0.7" fill="#d9a86a"/><circle cx="-0.3" cy="-7.15" r="0.7" fill="#d7c9b4"/><circle cx="3.15" cy="-6.23" r="0.7" fill="#d9a86a"/><circle cx="5.68" cy="-3.7" r="0.7" fill="#d9a86a"/><circle cx="-0.3" cy="-0.25" r="4.2" fill="#fdb32b" stroke="#f0a020" stroke-width="0.5"/></g><g transform="translate(578.05 393.92)"><path d="M7.57 -1.36A3.5 3.5 0 1 1 3.61 -6.03A3.2 3.2 0 0 0 7.57 -1.36Z" fill="#fcd02f" stroke="#e8b820" stroke-width="0.3"/><g transform="translate(-0.7 4.4) scale(0.94)"><g fill="#828282" stroke="#828282" stroke-width="0.85"><circle cx="-5.1" cy="-1.3" r="2.1"/><circle cx="-0.9" cy="-4.4" r="3.1"/><circle cx="5.2" cy="-2" r="2.7"/><rect x="-5.1" y="-2.6" width="10.3" height="3.4"/></g><g fill="#9c9c9c"><circle cx="-5.1" cy="-1.3" r="2.1"/><circle cx="-0.9" cy="-4.4" r="3.1"/><circle cx="5.2" cy="-2" r="2.7"/><rect x="-5.1" y="-2.6" width="10.3" height="3.4"/></g></g></g><g transform="translate(603.25 393.92)"><circle cx="6.23" cy="-2.41" r="0.7" fill="#d7c9b4"/><circle cx="4.73" cy="-5.01" r="0.7" fill="#d9a86a"/><circle cx="2.31" cy="-6.77" r="0.7" fill="#d9a86a"/><circle cx="-0.62" cy="-7.39" r="0.7" fill="#d7c9b4"/><circle cx="-3.55" cy="-6.77" r="0.7" fill="#d9a86a"/><circle cx="-5.97" cy="-5.01" r="0.7" fill="#d9a86a"/><circle cx="-7.47" cy="-2.41" r="0.7" fill="#d7c9b4"/><path d="M-5.62 -0.19A5 5 0 0 1 4.38 -0.19V3H-5.62Z" fill="#fdb32b" stroke="#f0a020" stroke-width="0.5"/><path d="M-8.4 0.6Q-8.4 -0.2 -7.6 -0.2H-5.6L-4.9 1.3L-3.6 1.6L-2.6 2.5L-1.4 1.9L0.2 2.0L1.4 1.2L3.2 1.0L4.4 -0.2H6.9Q7.7 -0.2 7.7 0.8V2.6Q7.7 3.5 6.7 3.5H4.8V7Q4.8 7.8 4 7.8H-4.2Q-4.96 7.8 -4.96 7V5.5Q-4.96 4.7 -4.2 4.7H-2.07V3.5H-7.6Q-8.4 3.5 -8.4 2.8Z" fill="#4a90cc" stroke="#3b7fbd" stroke-width="0.5"/></g><g transform="translate(671.2 393.92)"><g transform="translate(2.85 0) scale(0.64)"><g fill="#ababab" stroke="#ababab" stroke-width="1.25"><circle cx="-5.1" cy="-1.3" r="2.1"/><circle cx="-0.9" cy="-4.4" r="3.1"/><circle cx="5.2" cy="-2" r="2.7"/><rect x="-5.1" y="-2.6" width="10.3" height="3.4"/></g><g fill="#c4c4c4"><circle cx="-5.1" cy="-1.3" r="2.1"/><circle cx="-0.9" cy="-4.4" r="3.1"/><circle cx="5.2" cy="-2" r="2.7"/><rect x="-5.1" y="-2.6" width="10.3" height="3.4"/></g></g><g transform="translate(-2.37 3.75) scale(0.69)"><g fill="#8e8e8e" stroke="#8e8e8e" stroke-width="1.16"><circle cx="-5.1" cy="-1.3" r="2.1"/><circle cx="-0.9" cy="-4.4" r="3.1"/><circle cx="5.2" cy="-2" r="2.7"/><rect x="-5.1" y="-2.6" width="10.3" height="3.4"/></g><g fill="#a3a3a3"><circle cx="-5.1" cy="-1.3" r="2.1"/><circle cx="-0.9" cy="-4.4" r="3.1"/><circle cx="5.2" cy="-2" r="2.7"/><rect x="-5.1" y="-2.6" width="10.3" height="3.4"/></g></g></g><g transform="translate(696.4 393.92)"><circle cx="6.9" cy="-1.7" r="0.7" fill="#d7c9b4"/><circle cx="6.23" cy="0.8" r="0.7" fill="#d9a86a"/><circle cx="4.4" cy="2.63" r="0.7" fill="#d9a86a"/><circle cx="1.9" cy="3.3" r="0.7" fill="#d7c9b4"/><circle cx="-0.6" cy="2.63" r="0.7" fill="#d9a86a"/><circle cx="-2.43" cy="0.8" r="0.7" fill="#d9a86a"/><circle cx="-3.1" cy="-1.7" r="0.7" fill="#d7c9b4"/><circle cx="-2.43" cy="-4.2" r="0.7" fill="#d9a86a"/><circle cx="-0.6" cy="-6.03" r="0.7" fill="#d9a86a"/><circle cx="1.9" cy="-6.7" r="0.7" fill="#d7c9b4"/><circle cx="4.4" cy="-6.03" r="0.7" fill="#d9a86a"/><circle cx="6.23" cy="-4.2" r="0.7" fill="#d9a86a"/><circle cx="1.9" cy="-1.7" r="3.2" fill="#fdb32b" stroke="#f0a020" stroke-width="0.5"/><g transform="translate(-0.5 5.6) scale(0.96)"><g fill="#3c80bf" stroke="#3c80bf" stroke-width="0.83"><circle cx="-5.1" cy="-1.3" r="2.1"/><circle cx="-0.9" cy="-4.4" r="3.1"/><circle cx="5.2" cy="-2" r="2.7"/><rect x="-5.1" y="-2.6" width="10.3" height="3.4"/></g><g fill="#4f96d2"><circle cx="-5.1" cy="-1.3" r="2.1"/><circle cx="-0.9" cy="-4.4" r="3.1"/><circle cx="5.2" cy="-2" r="2.7"/><rect x="-5.1" y="-2.6" width="10.3" height="3.4"/></g></g></g><g transform="translate(199.65 425.42)"><g transform="translate(2.85 0) scale(0.64)"><g fill="#357ab5" stroke="#357ab5" stroke-width="1.25"><circle cx="-5.1" cy="-1.3" r="2.1"/><circle cx="-0.9" cy="-4.4" r="3.1"/><circle cx="5.2" cy="-2" r="2.7"/><rect x="-5.1" y="-2.6" width="10.3" height="3.4"/></g><g fill="#3f86c3"><circle cx="-5.1" cy="-1.3" r="2.1"/><circle cx="-0.9" cy="-4.4" r="3.1"/><circle cx="5.2" cy="-2" r="2.7"/><rect x="-5.1" y="-2.6" width="10.3" height="3.4"/></g></g><g transform="translate(-2.37 3.75) scale(0.69)"><g fill="#4a8fc8" stroke="#4a8fc8" stroke-width="1.16"><circle cx="-5.1" cy="-1.3" r="2.1"/><circle cx="-0.9" cy="-4.4" r="3.1"/><circle cx="5.2" cy="-2" r="2.7"/><rect x="-5.1" y="-2.6" width="10.3" height="3.4"/></g><g fill="#5aa2da"><circle cx="-5.1" cy="-1.3" r="2.1"/><circle cx="-0.9" cy="-4.4" r="3.1"/><circle cx="5.2" cy="-2" r="2.7"/><rect x="-5.1" y="-2.6" width="10.3" height="3.4"/></g></g></g><g transform="translate(281.95 425.42)"><g transform="translate(2.85 0) scale(0.64)"><g fill="#ababab" stroke="#ababab" stroke-width="1.25"><circle cx="-5.1" cy="-1.3" r="2.1"/><circle cx="-0.9" cy="-4.4" r="3.1"/><circle cx="5.2" cy="-2" r="2.7"/><rect x="-5.1" y="-2.6" width="10.3" height="3.4"/></g><g fill="#c4c4c4"><circle cx="-5.1" cy="-1.3" r="2.1"/><circle cx="-0.9" cy="-4.4" r="3.1"/><circle cx="5.2" cy="-2" r="2.7"/><rect x="-5.1" y="-2.6" width="10.3" height="3.4"/></g></g><g transform="translate(-2.37 3.75) scale(0.69)"><g fill="#8e8e8e" stroke="#8e8e8e" stroke-width="1.16"><circle cx="-5.1" cy="-1.3" r="2.1"/><circle cx="-0.9" cy="-4.4" r="3.1"/><circle cx="5.2" cy="-2" r="2.7"/><rect x="-5.1" y="-2.6" width="10.3" height="3.4"/></g><g fill="#a3a3a3"><circle cx="-5.1" cy="-1.3" r="2.1"/><circle cx="-0.9" cy="-4.4" r="3.1"/><circle cx="5.2" cy="-2" r="2.7"/><rect x="-5.1" y="-2.6" width="10.3" height="3.4"/></g></g></g><g transform="translate(307.15 425.42)"><g transform="translate(2.85 0) scale(0.64)"><g fill="#357ab5" stroke="#357ab5" stroke-width="1.25"><circle cx="-5.1" cy="-1.3" r="2.1"/><circle cx="-0.9" cy="-4.4" r="3.1"/><circle cx="5.2" cy="-2" r="2.7"/><rect x="-5.1" y="-2.6" width="10.3" height="3.4"/></g><g fill="#3f86c3"><circle cx="-5.1" cy="-1.3" r="2.1"/><circle cx="-0.9" cy="-4.4" r="3.1"/><circle cx="5.2" cy="-2" r="2.7"/><rect x="-5.1" y="-2.6" width="10.3" height="3.4"/></g></g><g transform="translate(-2.37 3.75) scale(0.69)"><g fill="#4a8fc8" stroke="#4a8fc8" stroke-width="1.16"><circle cx="-5.1" cy="-1.3" r="2.1"/><circle cx="-0.9" cy="-4.4" r="3.1"/><circle cx="5.2" cy="-2" r="2.7"/><rect x="-5.1" y="-2.6" width="10.3" height="3.4"/></g><g fill="#5aa2da"><circle cx="-5.1" cy="-1.3" r="2.1"/><circle cx="-0.9" cy="-4.4" r="3.1"/><circle cx="5.2" cy="-2" r="2.7"/><rect x="-5.1" y="-2.6" width="10.3" height="3.4"/></g></g></g><g transform="translate(379.95 425.42)"><path d="M7.57 -1.36A3.5 3.5 0 1 1 3.61 -6.03A3.2 3.2 0 0 0 7.57 -1.36Z" fill="#fcd02f" stroke="#e8b820" stroke-width="0.3"/><g transform="translate(-0.7 4.4) scale(0.94)"><g fill="#828282" stroke="#828282" stroke-width="0.85"><circle cx="-5.1" cy="-1.3" r="2.1"/><circle cx="-0.9" cy="-4.4" r="3.1"/><circle cx="5.2" cy="-2" r="2.7"/><rect x="-5.1" y="-2.6" width="10.3" height="3.4"/></g><g fill="#9c9c9c"><circle cx="-5.1" cy="-1.3" r="2.1"/><circle cx="-0.9" cy="-4.4" r="3.1"/><circle cx="5.2" cy="-2" r="2.7"/><rect x="-5.1" y="-2.6" width="10.3" height="3.4"/></g></g></g><g transform="translate(405.1 425.42)"><circle cx="6.9" cy="-1.7" r="0.7" fill="#d7c9b4"/><circle cx="6.23" cy="0.8" r="0.7" fill="#d9a86a"/><circle cx="4.4" cy="2.63" r="0.7" fill="#d9a86a"/><circle cx="1.9" cy="3.3" r="0.7" fill="#d7c9b4"/><circle cx="-0.6" cy="2.63" r="0.7" fill="#d9a86a"/><circle cx="-2.43" cy="0.8" r="0.7" fill="#d9a86a"/><circle cx="-3.1" cy="-1.7" r="0.7" fill="#d7c9b4"/><circle cx="-2.43" cy="-4.2" r="0.7" fill="#d9a86a"/><circle cx="-0.6" cy="-6.03" r="0.7" fill="#d9a86a"/><circle cx="1.9" cy="-6.7" r="0.7" fill="#d7c9b4"/><circle cx="4.4" cy="-6.03" r="0.7" fill="#d9a86a"/><circle cx="6.23" cy="-4.2" r="0.7" fill="#d9a86a"/><circle cx="1.9" cy="-1.7" r="3.2" fill="#fdb32b" stroke="#f0a020" stroke-width="0.5"/><g transform="translate(-0.5 5.6) scale(0.96)"><g fill="#3c80bf" stroke="#3c80bf" stroke-width="0.83"><circle cx="-5.1" cy="-1.3" r="2.1"/><circle cx="-0.9" cy="-4.4" r="3.1"/><circle cx="5.2" cy="-2" r="2.7"/><rect x="-5.1" y="-2.6" width="10.3" height="3.4"/></g><g fill="#4f96d2"><circle cx="-5.1" cy="-1.3" r="2.1"/><circle cx="-0.9" cy="-4.4" r="3.1"/><circle cx="5.2" cy="-2" r="2.7"/><rect x="-5.1" y="-2.6" width="10.3" height="3.4"/></g></g></g><g transform="translate(479 425.42)"><path d="M7.21 3.73A7.8 7.8 0 1 1 -1.42 -7.51A7.4 7.4 0 0 0 7.21 3.73Z" fill="#fcd02f" stroke="#e8b820" stroke-width="0.5"/></g><g transform="translate(504.2 425.42)"><circle cx="6.6" cy="-0.25" r="0.7" fill="#d7c9b4"/><circle cx="5.68" cy="3.2" r="0.7" fill="#d9a86a"/><circle cx="3.15" cy="5.73" r="0.7" fill="#d9a86a"/><circle cx="-0.3" cy="6.65" r="0.7" fill="#d7c9b4"/><circle cx="-3.75" cy="5.73" r="0.7" fill="#d9a86a"/><circle cx="-6.28" cy="3.2" r="0.7" fill="#d9a86a"/><circle cx="-7.2" cy="-0.25" r="0.7" fill="#d7c9b4"/><circle cx="-6.28" cy="-3.7" r="0.7" fill="#d9a86a"/><circle cx="-3.75" cy="-6.23" r="0.7" fill="#d9a86a"/><circle cx="-0.3" cy="-7.15" r="0.7" fill="#d7c9b4"/><circle cx="3.15" cy="-6.23" r="0.7" fill="#d9a86a"/><circle cx="5.68" cy="-3.7" r="0.7" fill="#d9a86a"/><circle cx="-0.3" cy="-0.25" r="4.2" fill="#fdb32b" stroke="#f0a020" stroke-width="0.5"/></g><g transform="translate(578.05 425.42)"><path d="M7.57 -1.36A3.5 3.5 0 1 1 3.61 -6.03A3.2 3.2 0 0 0 7.57 -1.36Z" fill="#fcd02f" stroke="#e8b820" stroke-width="0.3"/><g transform="translate(-0.7 4.4) scale(0.94)"><g fill="#828282" stroke="#828282" stroke-width="0.85"><circle cx="-5.1" cy="-1.3" r="2.1"/><circle cx="-0.9" cy="-4.4" r="3.1"/><circle cx="5.2" cy="-2" r="2.7"/><rect x="-5.1" y="-2.6" width="10.3" height="3.4"/></g><g fill="#9c9c9c"><circle cx="-5.1" cy="-1.3" r="2.1"/><circle cx="-0.9" cy="-4.4" r="3.1"/><circle cx="5.2" cy="-2" r="2.7"/><rect x="-5.1" y="-2.6" width="10.3" height="3.4"/></g></g></g><g transform="translate(603.25 425.42)"><circle cx="6.23" cy="-2.41" r="0.7" fill="#d7c9b4"/><circle cx="4.73" cy="-5.01" r="0.7" fill="#d9a86a"/><circle cx="2.31" cy="-6.77" r="0.7" fill="#d9a86a"/><circle cx="-0.62" cy="-7.39" r="0.7" fill="#d7c9b4"/><circle cx="-3.55" cy="-6.77" r="0.7" fill="#d9a86a"/><circle cx="-5.97" cy="-5.01" r="0.7" fill="#d9a86a"/><circle cx="-7.47" cy="-2.41" r="0.7" fill="#d7c9b4"/><path d="M-5.62 -0.19A5 5 0 0 1 4.38 -0.19V3H-5.62Z" fill="#fdb32b" stroke="#f0a020" stroke-width="0.5"/><path d="M-8.4 0.6Q-8.4 -0.2 -7.6 -0.2H-5.6L-4.9 1.3L-3.6 1.6L-2.6 2.5L-1.4 1.9L0.2 2.0L1.4 1.2L3.2 1.0L4.4 -0.2H6.9Q7.7 -0.2 7.7 0.8V2.6Q7.7 3.5 6.7 3.5H4.8V7Q4.8 7.8 4 7.8H-4.2Q-4.96 7.8 -4.96 7V5.5Q-4.96 4.7 -4.2 4.7H-2.07V3.5H-7.6Q-8.4 3.5 -8.4 2.8Z" fill="#4a90cc" stroke="#3b7fbd" stroke-width="0.5"/></g><g transform="translate(671.2 425.42)"><g transform="translate(2.85 0) scale(0.64)"><g fill="#ababab" stroke="#ababab" stroke-width="1.25"><circle cx="-5.1" cy="-1.3" r="2.1"/><circle cx="-0.9" cy="-4.4" r="3.1"/><circle cx="5.2" cy="-2" r="2.7"/><rect x="-5.1" y="-2.6" width="10.3" height="3.4"/></g><g fill="#c4c4c4"><circle cx="-5.1" cy="-1.3" r="2.1"/><circle cx="-0.9" cy="-4.4" r="3.1"/><circle cx="5.2" cy="-2" r="2.7"/><rect x="-5.1" y="-2.6" width="10.3" height="3.4"/></g></g><g transform="translate(-2.37 3.75) scale(0.69)"><g fill="#8e8e8e" stroke="#8e8e8e" stroke-width="1.16"><circle cx="-5.1" cy="-1.3" r="2.1"/><circle cx="-0.9" cy="-4.4" r="3.1"/><circle cx="5.2" cy="-2" r="2.7"/><rect x="-5.1" y="-2.6" width="10.3" height="3.4"/></g><g fill="#a3a3a3"><circle cx="-5.1" cy="-1.3" r="2.1"/><circle cx="-0.9" cy="-4.4" r="3.1"/><circle cx="5.2" cy="-2" r="2.7"/><rect x="-5.1" y="-2.6" width="10.3" height="3.4"/></g></g></g><g transform="translate(696.4 425.42)"><circle cx="6.9" cy="-1.7" r="0.7" fill="#d7c9b4"/><circle cx="6.23" cy="0.8" r="0.7" fill="#d9a86a"/><circle cx="4.4" cy="2.63" r="0.7" fill="#d9a86a"/><circle cx="1.9" cy="3.3" r="0.7" fill="#d7c9b4"/><circle cx="-0.6" cy="2.63" r="0.7" fill="#d9a86a"/><circle cx="-2.43" cy="0.8" r="0.7" fill="#d9a86a"/><circle cx="-3.1" cy="-1.7" r="0.7" fill="#d7c9b4"/><circle cx="-2.43" cy="-4.2" r="0.7" fill="#d9a86a"/><circle cx="-0.6" cy="-6.03" r="0.7" fill="#d9a86a"/><circle cx="1.9" cy="-6.7" r="0.7" fill="#d7c9b4"/><circle cx="4.4" cy="-6.03" r="0.7" fill="#d9a86a"/><circle cx="6.23" cy="-4.2" r="0.7" fill="#d9a86a"/><circle cx="1.9" cy="-1.7" r="3.2" fill="#fdb32b" stroke="#f0a020" stroke-width="0.5"/><g transform="translate(-0.5 5.6) scale(0.96)"><g fill="#3c80bf" stroke="#3c80bf" stroke-width="0.83"><circle cx="-5.1" cy="-1.3" r="2.1"/><circle cx="-0.9" cy="-4.4" r="3.1"/><circle cx="5.2" cy="-2" r="2.7"/><rect x="-5.1" y="-2.6" width="10.3" height="3.4"/></g><g fill="#4f96d2"><circle cx="-5.1" cy="-1.3" r="2.1"/><circle cx="-0.9" cy="-4.4" r="3.1"/><circle cx="5.2" cy="-2" r="2.7"/><rect x="-5.1" y="-2.6" width="10.3" height="3.4"/></g></g></g><g transform="translate(199.65 456.92)"><g transform="translate(0 0) scale(1)"><g fill="#3c80bf" stroke="#3c80bf" stroke-width="0.8"><circle cx="-5.1" cy="-1.3" r="2.1"/><circle cx="-0.9" cy="-4.4" r="3.1"/><circle cx="5.2" cy="-2" r="2.7"/><rect x="-5.1" y="-2.6" width="10.3" height="3.4"/></g><g fill="#4f96d2"><circle cx="-5.1" cy="-1.3" r="2.1"/><circle cx="-0.9" cy="-4.4" r="3.1"/><circle cx="5.2" cy="-2" r="2.7"/><rect x="-5.1" y="-2.6" width="10.3" height="3.4"/></g></g><g fill="#4a88c0"><circle cx="-4" cy="4" r="1.4" fill="#5e98cc"/><circle cx="0.7" cy="3.4" r="0.6"/><circle cx="2.9" cy="3.4" r="0.5"/><circle cx="-1.5" cy="5.2" r="0.5"/><circle cx="4.4" cy="5" r="0.6"/><circle cx="1" cy="6.3" r="0.45"/><circle cx="-2.7" cy="7.5" r="0.6"/></g></g><g transform="translate(281.95 456.92)"><g transform="translate(0 0) scale(1)"><g fill="#828282" stroke="#828282" stroke-width="0.8"><circle cx="-5.1" cy="-1.3" r="2.1"/><circle cx="-0.9" cy="-4.4" r="3.1"/><circle cx="5.2" cy="-2" r="2.7"/><rect x="-5.1" y="-2.6" width="10.3" height="3.4"/></g><g fill="#9c9c9c"><circle cx="-5.1" cy="-1.3" r="2.1"/><circle cx="-0.9" cy="-4.4" r="3.1"/><circle cx="5.2" cy="-2" r="2.7"/><rect x="-5.1" y="-2.6" width="10.3" height="3.4"/></g></g><g fill="#4a88c0"><circle cx="-4" cy="4" r="1.4" fill="#5e98cc"/><circle cx="0.7" cy="3.4" r="0.6"/><circle cx="2.9" cy="3.4" r="0.5"/><circle cx="-1.5" cy="5.2" r="0.5"/><circle cx="4.4" cy="5" r="0.6"/><circle cx="1" cy="6.3" r="0.45"/><circle cx="-2.7" cy="7.5" r="0.6"/></g></g><g transform="translate(307.15 456.92)"><g transform="translate(0 0) scale(1)"><g fill="#3c80bf" stroke="#3c80bf" stroke-width="0.8"><circle cx="-5.1" cy="-1.3" r="2.1"/><circle cx="-0.9" cy="-4.4" r="3.1"/><circle cx="5.2" cy="-2" r="2.7"/><rect x="-5.1" y="-2.6" width="10.3" height="3.4"/></g><g fill="#4f96d2"><circle cx="-5.1" cy="-1.3" r="2.1"/><circle cx="-0.9" cy="-4.4" r="3.1"/><circle cx="5.2" cy="-2" r="2.7"/><rect x="-5.1" y="-2.6" width="10.3" height="3.4"/></g></g><g fill="#4a88c0"><circle cx="-4" cy="4" r="1.4" fill="#5e98cc"/><circle cx="0.7" cy="3.4" r="0.6"/><circle cx="2.9" cy="3.4" r="0.5"/><circle cx="-1.5" cy="5.2" r="0.5"/><circle cx="4.4" cy="5" r="0.6"/><circle cx="1" cy="6.3" r="0.45"/><circle cx="-2.7" cy="7.5" r="0.6"/></g></g><g transform="translate(379.95 456.92)"><path d="M7.57 -1.36A3.5 3.5 0 1 1 3.61 -6.03A3.2 3.2 0 0 0 7.57 -1.36Z" fill="#fcd02f" stroke="#e8b820" stroke-width="0.3"/><g transform="translate(-0.7 4.4) scale(0.94)"><g fill="#828282" stroke="#828282" stroke-width="0.85"><circle cx="-5.1" cy="-1.3" r="2.1"/><circle cx="-0.9" cy="-4.4" r="3.1"/><circle cx="5.2" cy="-2" r="2.7"/><rect x="-5.1" y="-2.6" width="10.3" height="3.4"/></g><g fill="#9c9c9c"><circle cx="-5.1" cy="-1.3" r="2.1"/><circle cx="-0.9" cy="-4.4" r="3.1"/><circle cx="5.2" cy="-2" r="2.7"/><rect x="-5.1" y="-2.6" width="10.3" height="3.4"/></g></g></g><g transform="translate(405.1 456.92)"><circle cx="6.9" cy="-1.7" r="0.7" fill="#d7c9b4"/><circle cx="6.23" cy="0.8" r="0.7" fill="#d9a86a"/><circle cx="4.4" cy="2.63" r="0.7" fill="#d9a86a"/><circle cx="1.9" cy="3.3" r="0.7" fill="#d7c9b4"/><circle cx="-0.6" cy="2.63" r="0.7" fill="#d9a86a"/><circle cx="-2.43" cy="0.8" r="0.7" fill="#d9a86a"/><circle cx="-3.1" cy="-1.7" r="0.7" fill="#d7c9b4"/><circle cx="-2.43" cy="-4.2" r="0.7" fill="#d9a86a"/><circle cx="-0.6" cy="-6.03" r="0.7" fill="#d9a86a"/><circle cx="1.9" cy="-6.7" r="0.7" fill="#d7c9b4"/><circle cx="4.4" cy="-6.03" r="0.7" fill="#d9a86a"/><circle cx="6.23" cy="-4.2" r="0.7" fill="#d9a86a"/><circle cx="1.9" cy="-1.7" r="3.2" fill="#fdb32b" stroke="#f0a020" stroke-width="0.5"/><g transform="translate(-0.5 5.6) scale(0.96)"><g fill="#3c80bf" stroke="#3c80bf" stroke-width="0.83"><circle cx="-5.1" cy="-1.3" r="2.1"/><circle cx="-0.9" cy="-4.4" r="3.1"/><circle cx="5.2" cy="-2" r="2.7"/><rect x="-5.1" y="-2.6" width="10.3" height="3.4"/></g><g fill="#4f96d2"><circle cx="-5.1" cy="-1.3" r="2.1"/><circle cx="-0.9" cy="-4.4" r="3.1"/><circle cx="5.2" cy="-2" r="2.7"/><rect x="-5.1" y="-2.6" width="10.3" height="3.4"/></g></g></g><g transform="translate(479 456.92)"><path d="M7.21 3.73A7.8 7.8 0 1 1 -1.42 -7.51A7.4 7.4 0 0 0 7.21 3.73Z" fill="#fcd02f" stroke="#e8b820" stroke-width="0.5"/></g><g transform="translate(504.2 456.92)"><circle cx="6.6" cy="-0.25" r="0.7" fill="#d7c9b4"/><circle cx="5.68" cy="3.2" r="0.7" fill="#d9a86a"/><circle cx="3.15" cy="5.73" r="0.7" fill="#d9a86a"/><circle cx="-0.3" cy="6.65" r="0.7" fill="#d7c9b4"/><circle cx="-3.75" cy="5.73" r="0.7" fill="#d9a86a"/><circle cx="-6.28" cy="3.2" r="0.7" fill="#d9a86a"/><circle cx="-7.2" cy="-0.25" r="0.7" fill="#d7c9b4"/><circle cx="-6.28" cy="-3.7" r="0.7" fill="#d9a86a"/><circle cx="-3.75" cy="-6.23" r="0.7" fill="#d9a86a"/><circle cx="-0.3" cy="-7.15" r="0.7" fill="#d7c9b4"/><circle cx="3.15" cy="-6.23" r="0.7" fill="#d9a86a"/><circle cx="5.68" cy="-3.7" r="0.7" fill="#d9a86a"/><circle cx="-0.3" cy="-0.25" r="4.2" fill="#fdb32b" stroke="#f0a020" stroke-width="0.5"/></g><g transform="translate(578.05 456.92)"><path d="M7.57 -1.36A3.5 3.5 0 1 1 3.61 -6.03A3.2 3.2 0 0 0 7.57 -1.36Z" fill="#fcd02f" stroke="#e8b820" stroke-width="0.3"/><g transform="translate(-0.7 4.4) scale(0.94)"><g fill="#828282" stroke="#828282" stroke-width="0.85"><circle cx="-5.1" cy="-1.3" r="2.1"/><circle cx="-0.9" cy="-4.4" r="3.1"/><circle cx="5.2" cy="-2" r="2.7"/><rect x="-5.1" y="-2.6" width="10.3" height="3.4"/></g><g fill="#9c9c9c"><circle cx="-5.1" cy="-1.3" r="2.1"/><circle cx="-0.9" cy="-4.4" r="3.1"/><circle cx="5.2" cy="-2" r="2.7"/><rect x="-5.1" y="-2.6" width="10.3" height="3.4"/></g></g></g><g transform="translate(603.25 456.92)"><circle cx="6.23" cy="-2.41" r="0.7" fill="#d7c9b4"/><circle cx="4.73" cy="-5.01" r="0.7" fill="#d9a86a"/><circle cx="2.31" cy="-6.77" r="0.7" fill="#d9a86a"/><circle cx="-0.62" cy="-7.39" r="0.7" fill="#d7c9b4"/><circle cx="-3.55" cy="-6.77" r="0.7" fill="#d9a86a"/><circle cx="-5.97" cy="-5.01" r="0.7" fill="#d9a86a"/><circle cx="-7.47" cy="-2.41" r="0.7" fill="#d7c9b4"/><path d="M-5.62 -0.19A5 5 0 0 1 4.38 -0.19V3H-5.62Z" fill="#fdb32b" stroke="#f0a020" stroke-width="0.5"/><path d="M-8.4 0.6Q-8.4 -0.2 -7.6 -0.2H-5.6L-4.9 1.3L-3.6 1.6L-2.6 2.5L-1.4 1.9L0.2 2.0L1.4 1.2L3.2 1.0L4.4 -0.2H6.9Q7.7 -0.2 7.7 0.8V2.6Q7.7 3.5 6.7 3.5H4.8V7Q4.8 7.8 4 7.8H-4.2Q-4.96 7.8 -4.96 7V5.5Q-4.96 4.7 -4.2 4.7H-2.07V3.5H-7.6Q-8.4 3.5 -8.4 2.8Z" fill="#4a90cc" stroke="#3b7fbd" stroke-width="0.5"/></g><g transform="translate(671.2 456.92)"><g transform="translate(0 0) scale(1)"><g fill="#828282" stroke="#828282" stroke-width="0.8"><circle cx="-5.1" cy="-1.3" r="2.1"/><circle cx="-0.9" cy="-4.4" r="3.1"/><circle cx="5.2" cy="-2" r="2.7"/><rect x="-5.1" y="-2.6" width="10.3" height="3.4"/></g><g fill="#9c9c9c"><circle cx="-5.1" cy="-1.3" r="2.1"/><circle cx="-0.9" cy="-4.4" r="3.1"/><circle cx="5.2" cy="-2" r="2.7"/><rect x="-5.1" y="-2.6" width="10.3" height="3.4"/></g></g><g fill="#4a88c0"><circle cx="-4" cy="4" r="1.4" fill="#5e98cc"/><circle cx="0.7" cy="3.4" r="0.6"/><circle cx="2.9" cy="3.4" r="0.5"/><circle cx="-1.5" cy="5.2" r="0.5"/><circle cx="4.4" cy="5" r="0.6"/><circle cx="1" cy="6.3" r="0.45"/><circle cx="-2.7" cy="7.5" r="0.6"/></g></g><g transform="translate(696.4 456.92)"><g transform="translate(0 0) scale(1)"><g fill="#3c80bf" stroke="#3c80bf" stroke-width="0.8"><circle cx="-5.1" cy="-1.3" r="2.1"/><circle cx="-0.9" cy="-4.4" r="3.1"/><circle cx="5.2" cy="-2" r="2.7"/><rect x="-5.1" y="-2.6" width="10.3" height="3.4"/></g><g fill="#4f96d2"><circle cx="-5.1" cy="-1.3" r="2.1"/><circle cx="-0.9" cy="-4.4" r="3.1"/><circle cx="5.2" cy="-2" r="2.7"/><rect x="-5.1" y="-2.6" width="10.3" height="3.4"/></g></g><g fill="#4a88c0"><circle cx="-4" cy="4" r="1.4" fill="#5e98cc"/><circle cx="0.7" cy="3.4" r="0.6"/><circle cx="2.9" cy="3.4" r="0.5"/><circle cx="-1.5" cy="5.2" r="0.5"/><circle cx="4.4" cy="5" r="0.6"/><circle cx="1" cy="6.3" r="0.45"/><circle cx="-2.7" cy="7.5" r="0.6"/></g></g><g transform="translate(199.65 488.43)"><g transform="translate(0 0.2) scale(1)"><g fill="#3c80bf" stroke="#3c80bf" stroke-width="0.8"><circle cx="-5.1" cy="-1.3" r="2.1"/><circle cx="-0.9" cy="-4.4" r="3.1"/><circle cx="5.2" cy="-2" r="2.7"/><rect x="-5.1" y="-2.6" width="10.3" height="3.4"/></g><g fill="#4f96d2"><circle cx="-5.1" cy="-1.3" r="2.1"/><circle cx="-0.9" cy="-4.4" r="3.1"/><circle cx="5.2" cy="-2" r="2.7"/><rect x="-5.1" y="-2.6" width="10.3" height="3.4"/></g></g><g fill="#4a88c0"><circle cx="-3.6" cy="2.4" r="1"/><circle cx="-4.5" cy="4.6" r="0.5"/><circle cx="-2.2" cy="4.6" r="0.5"/><circle cx="0" cy="4" r="0.5"/><circle cx="2" cy="4" r="0.5"/><circle cx="-1.6" cy="5.6" r="0.7"/><circle cx="0.6" cy="5.6" r="0.5"/><circle cx="2.8" cy="5.6" r="0.5"/><circle cx="-3.4" cy="6.6" r="0.5"/><circle cx="-0.4" cy="7.2" r="0.5"/><circle cx="4.5" cy="6.5" r="1.3"/><circle cx="5.5" cy="3.5" r="0.6"/></g></g><g transform="translate(281.95 488.43)"><g transform="translate(2.85 0) scale(0.64)"><g fill="#ababab" stroke="#ababab" stroke-width="1.25"><circle cx="-5.1" cy="-1.3" r="2.1"/><circle cx="-0.9" cy="-4.4" r="3.1"/><circle cx="5.2" cy="-2" r="2.7"/><rect x="-5.1" y="-2.6" width="10.3" height="3.4"/></g><g fill="#c4c4c4"><circle cx="-5.1" cy="-1.3" r="2.1"/><circle cx="-0.9" cy="-4.4" r="3.1"/><circle cx="5.2" cy="-2" r="2.7"/><rect x="-5.1" y="-2.6" width="10.3" height="3.4"/></g></g><g transform="translate(-2.37 3.75) scale(0.69)"><g fill="#8e8e8e" stroke="#8e8e8e" stroke-width="1.16"><circle cx="-5.1" cy="-1.3" r="2.1"/><circle cx="-0.9" cy="-4.4" r="3.1"/><circle cx="5.2" cy="-2" r="2.7"/><rect x="-5.1" y="-2.6" width="10.3" height="3.4"/></g><g fill="#a3a3a3"><circle cx="-5.1" cy="-1.3" r="2.1"/><circle cx="-0.9" cy="-4.4" r="3.1"/><circle cx="5.2" cy="-2" r="2.7"/><rect x="-5.1" y="-2.6" width="10.3" height="3.4"/></g></g></g><g transform="translate(307.15 488.43)"><g transform="translate(2.85 0) scale(0.64)"><g fill="#357ab5" stroke="#357ab5" stroke-width="1.25"><circle cx="-5.1" cy="-1.3" r="2.1"/><circle cx="-0.9" cy="-4.4" r="3.1"/><circle cx="5.2" cy="-2" r="2.7"/><rect x="-5.1" y="-2.6" width="10.3" height="3.4"/></g><g fill="#3f86c3"><circle cx="-5.1" cy="-1.3" r="2.1"/><circle cx="-0.9" cy="-4.4" r="3.1"/><circle cx="5.2" cy="-2" r="2.7"/><rect x="-5.1" y="-2.6" width="10.3" height="3.4"/></g></g><g transform="translate(-2.37 3.75) scale(0.69)"><g fill="#4a8fc8" stroke="#4a8fc8" stroke-width="1.16"><circle cx="-5.1" cy="-1.3" r="2.1"/><circle cx="-0.9" cy="-4.4" r="3.1"/><circle cx="5.2" cy="-2" r="2.7"/><rect x="-5.1" y="-2.6" width="10.3" height="3.4"/></g><g fill="#5aa2da"><circle cx="-5.1" cy="-1.3" r="2.1"/><circle cx="-0.9" cy="-4.4" r="3.1"/><circle cx="5.2" cy="-2" r="2.7"/><rect x="-5.1" y="-2.6" width="10.3" height="3.4"/></g></g></g><g transform="translate(379.95 488.43)"><path d="M7.57 -1.36A3.5 3.5 0 1 1 3.61 -6.03A3.2 3.2 0 0 0 7.57 -1.36Z" fill="#fcd02f" stroke="#e8b820" stroke-width="0.3"/><g transform="translate(-0.7 4.4) scale(0.94)"><g fill="#828282" stroke="#828282" stroke-width="0.85"><circle cx="-5.1" cy="-1.3" r="2.1"/><circle cx="-0.9" cy="-4.4" r="3.1"/><circle cx="5.2" cy="-2" r="2.7"/><rect x="-5.1" y="-2.6" width="10.3" height="3.4"/></g><g fill="#9c9c9c"><circle cx="-5.1" cy="-1.3" r="2.1"/><circle cx="-0.9" cy="-4.4" r="3.1"/><circle cx="5.2" cy="-2" r="2.7"/><rect x="-5.1" y="-2.6" width="10.3" height="3.4"/></g></g></g><g transform="translate(405.1 488.43)"><circle cx="6.9" cy="-1.7" r="0.7" fill="#d7c9b4"/><circle cx="6.23" cy="0.8" r="0.7" fill="#d9a86a"/><circle cx="4.4" cy="2.63" r="0.7" fill="#d9a86a"/><circle cx="1.9" cy="3.3" r="0.7" fill="#d7c9b4"/><circle cx="-0.6" cy="2.63" r="0.7" fill="#d9a86a"/><circle cx="-2.43" cy="0.8" r="0.7" fill="#d9a86a"/><circle cx="-3.1" cy="-1.7" r="0.7" fill="#d7c9b4"/><circle cx="-2.43" cy="-4.2" r="0.7" fill="#d9a86a"/><circle cx="-0.6" cy="-6.03" r="0.7" fill="#d9a86a"/><circle cx="1.9" cy="-6.7" r="0.7" fill="#d7c9b4"/><circle cx="4.4" cy="-6.03" r="0.7" fill="#d9a86a"/><circle cx="6.23" cy="-4.2" r="0.7" fill="#d9a86a"/><circle cx="1.9" cy="-1.7" r="3.2" fill="#fdb32b" stroke="#f0a020" stroke-width="0.5"/><g transform="translate(-0.5 5.6) scale(0.96)"><g fill="#3c80bf" stroke="#3c80bf" stroke-width="0.83"><circle cx="-5.1" cy="-1.3" r="2.1"/><circle cx="-0.9" cy="-4.4" r="3.1"/><circle cx="5.2" cy="-2" r="2.7"/><rect x="-5.1" y="-2.6" width="10.3" height="3.4"/></g><g fill="#4f96d2"><circle cx="-5.1" cy="-1.3" r="2.1"/><circle cx="-0.9" cy="-4.4" r="3.1"/><circle cx="5.2" cy="-2" r="2.7"/><rect x="-5.1" y="-2.6" width="10.3" height="3.4"/></g></g></g><g transform="translate(479 488.43)"><path d="M7.21 3.73A7.8 7.8 0 1 1 -1.42 -7.51A7.4 7.4 0 0 0 7.21 3.73Z" fill="#fcd02f" stroke="#e8b820" stroke-width="0.5"/></g><g transform="translate(504.2 488.43)"><circle cx="6.6" cy="-0.25" r="0.7" fill="#d7c9b4"/><circle cx="5.68" cy="3.2" r="0.7" fill="#d9a86a"/><circle cx="3.15" cy="5.73" r="0.7" fill="#d9a86a"/><circle cx="-0.3" cy="6.65" r="0.7" fill="#d7c9b4"/><circle cx="-3.75" cy="5.73" r="0.7" fill="#d9a86a"/><circle cx="-6.28" cy="3.2" r="0.7" fill="#d9a86a"/><circle cx="-7.2" cy="-0.25" r="0.7" fill="#d7c9b4"/><circle cx="-6.28" cy="-3.7" r="0.7" fill="#d9a86a"/><circle cx="-3.75" cy="-6.23" r="0.7" fill="#d9a86a"/><circle cx="-0.3" cy="-7.15" r="0.7" fill="#d7c9b4"/><circle cx="3.15" cy="-6.23" r="0.7" fill="#d9a86a"/><circle cx="5.68" cy="-3.7" r="0.7" fill="#d9a86a"/><circle cx="-0.3" cy="-0.25" r="4.2" fill="#fdb32b" stroke="#f0a020" stroke-width="0.5"/></g><g transform="translate(578.05 488.43)"><path d="M7.57 -1.36A3.5 3.5 0 1 1 3.61 -6.03A3.2 3.2 0 0 0 7.57 -1.36Z" fill="#fcd02f" stroke="#e8b820" stroke-width="0.3"/><g transform="translate(-0.7 4.4) scale(0.94)"><g fill="#828282" stroke="#828282" stroke-width="0.85"><circle cx="-5.1" cy="-1.3" r="2.1"/><circle cx="-0.9" cy="-4.4" r="3.1"/><circle cx="5.2" cy="-2" r="2.7"/><rect x="-5.1" y="-2.6" width="10.3" height="3.4"/></g><g fill="#9c9c9c"><circle cx="-5.1" cy="-1.3" r="2.1"/><circle cx="-0.9" cy="-4.4" r="3.1"/><circle cx="5.2" cy="-2" r="2.7"/><rect x="-5.1" y="-2.6" width="10.3" height="3.4"/></g></g></g><g transform="translate(603.25 488.43)"><circle cx="6.23" cy="-2.41" r="0.7" fill="#d7c9b4"/><circle cx="4.73" cy="-5.01" r="0.7" fill="#d9a86a"/><circle cx="2.31" cy="-6.77" r="0.7" fill="#d9a86a"/><circle cx="-0.62" cy="-7.39" r="0.7" fill="#d7c9b4"/><circle cx="-3.55" cy="-6.77" r="0.7" fill="#d9a86a"/><circle cx="-5.97" cy="-5.01" r="0.7" fill="#d9a86a"/><circle cx="-7.47" cy="-2.41" r="0.7" fill="#d7c9b4"/><path d="M-5.62 -0.19A5 5 0 0 1 4.38 -0.19V3H-5.62Z" fill="#fdb32b" stroke="#f0a020" stroke-width="0.5"/><path d="M-8.4 0.6Q-8.4 -0.2 -7.6 -0.2H-5.6L-4.9 1.3L-3.6 1.6L-2.6 2.5L-1.4 1.9L0.2 2.0L1.4 1.2L3.2 1.0L4.4 -0.2H6.9Q7.7 -0.2 7.7 0.8V2.6Q7.7 3.5 6.7 3.5H4.8V7Q4.8 7.8 4 7.8H-4.2Q-4.96 7.8 -4.96 7V5.5Q-4.96 4.7 -4.2 4.7H-2.07V3.5H-7.6Q-8.4 3.5 -8.4 2.8Z" fill="#4a90cc" stroke="#3b7fbd" stroke-width="0.5"/></g><g transform="translate(671.2 488.43)"><g transform="translate(2.85 0) scale(0.64)"><g fill="#ababab" stroke="#ababab" stroke-width="1.25"><circle cx="-5.1" cy="-1.3" r="2.1"/><circle cx="-0.9" cy="-4.4" r="3.1"/><circle cx="5.2" cy="-2" r="2.7"/><rect x="-5.1" y="-2.6" width="10.3" height="3.4"/></g><g fill="#c4c4c4"><circle cx="-5.1" cy="-1.3" r="2.1"/><circle cx="-0.9" cy="-4.4" r="3.1"/><circle cx="5.2" cy="-2" r="2.7"/><rect x="-5.1" y="-2.6" width="10.3" height="3.4"/></g></g><g transform="translate(-2.37 3.75) scale(0.69)"><g fill="#8e8e8e" stroke="#8e8e8e" stroke-width="1.16"><circle cx="-5.1" cy="-1.3" r="2.1"/><circle cx="-0.9" cy="-4.4" r="3.1"/><circle cx="5.2" cy="-2" r="2.7"/><rect x="-5.1" y="-2.6" width="10.3" height="3.4"/></g><g fill="#a3a3a3"><circle cx="-5.1" cy="-1.3" r="2.1"/><circle cx="-0.9" cy="-4.4" r="3.1"/><circle cx="5.2" cy="-2" r="2.7"/><rect x="-5.1" y="-2.6" width="10.3" height="3.4"/></g></g></g><g transform="translate(696.4 488.43)"><g transform="translate(2.85 0) scale(0.64)"><g fill="#357ab5" stroke="#357ab5" stroke-width="1.25"><circle cx="-5.1" cy="-1.3" r="2.1"/><circle cx="-0.9" cy="-4.4" r="3.1"/><circle cx="5.2" cy="-2" r="2.7"/><rect x="-5.1" y="-2.6" width="10.3" height="3.4"/></g><g fill="#3f86c3"><circle cx="-5.1" cy="-1.3" r="2.1"/><circle cx="-0.9" cy="-4.4" r="3.1"/><circle cx="5.2" cy="-2" r="2.7"/><rect x="-5.1" y="-2.6" width="10.3" height="3.4"/></g></g><g transform="translate(-2.37 3.75) scale(0.69)"><g fill="#4a8fc8" stroke="#4a8fc8" stroke-width="1.16"><circle cx="-5.1" cy="-1.3" r="2.1"/><circle cx="-0.9" cy="-4.4" r="3.1"/><circle cx="5.2" cy="-2" r="2.7"/><rect x="-5.1" y="-2.6" width="10.3" height="3.4"/></g><g fill="#5aa2da"><circle cx="-5.1" cy="-1.3" r="2.1"/><circle cx="-0.9" cy="-4.4" r="3.1"/><circle cx="5.2" cy="-2" r="2.7"/><rect x="-5.1" y="-2.6" width="10.3" height="3.4"/></g></g></g><g transform="translate(199.65 519.93)"><g transform="translate(0 0) scale(1)"><g fill="#3c80bf" stroke="#3c80bf" stroke-width="0.8"><circle cx="-5.1" cy="-1.3" r="2.1"/><circle cx="-0.9" cy="-4.4" r="3.1"/><circle cx="5.2" cy="-2" r="2.7"/><rect x="-5.1" y="-2.6" width="10.3" height="3.4"/></g><g fill="#4f96d2"><circle cx="-5.1" cy="-1.3" r="2.1"/><circle cx="-0.9" cy="-4.4" r="3.1"/><circle cx="5.2" cy="-2" r="2.7"/><rect x="-5.1" y="-2.6" width="10.3" height="3.4"/></g></g><g fill="#4a88c0"><circle cx="-4" cy="4" r="1.4" fill="#5e98cc"/><circle cx="0.7" cy="3.4" r="0.6"/><circle cx="2.9" cy="3.4" r="0.5"/><circle cx="-1.5" cy="5.2" r="0.5"/><circle cx="4.4" cy="5" r="0.6"/><circle cx="1" cy="6.3" r="0.45"/><circle cx="-2.7" cy="7.5" r="0.6"/></g></g><g transform="translate(281.95 519.93)"><g transform="translate(0 0) scale(1)"><g fill="#828282" stroke="#828282" stroke-width="0.8"><circle cx="-5.1" cy="-1.3" r="2.1"/><circle cx="-0.9" cy="-4.4" r="3.1"/><circle cx="5.2" cy="-2" r="2.7"/><rect x="-5.1" y="-2.6" width="10.3" height="3.4"/></g><g fill="#9c9c9c"><circle cx="-5.1" cy="-1.3" r="2.1"/><circle cx="-0.9" cy="-4.4" r="3.1"/><circle cx="5.2" cy="-2" r="2.7"/><rect x="-5.1" y="-2.6" width="10.3" height="3.4"/></g></g><g fill="#4a88c0"><circle cx="-4" cy="4" r="1.4" fill="#5e98cc"/><circle cx="0.7" cy="3.4" r="0.6"/><circle cx="2.9" cy="3.4" r="0.5"/><circle cx="-1.5" cy="5.2" r="0.5"/><circle cx="4.4" cy="5" r="0.6"/><circle cx="1" cy="6.3" r="0.45"/><circle cx="-2.7" cy="7.5" r="0.6"/></g></g><g transform="translate(307.15 519.93)"><g transform="translate(0 0) scale(1)"><g fill="#3c80bf" stroke="#3c80bf" stroke-width="0.8"><circle cx="-5.1" cy="-1.3" r="2.1"/><circle cx="-0.9" cy="-4.4" r="3.1"/><circle cx="5.2" cy="-2" r="2.7"/><rect x="-5.1" y="-2.6" width="10.3" height="3.4"/></g><g fill="#4f96d2"><circle cx="-5.1" cy="-1.3" r="2.1"/><circle cx="-0.9" cy="-4.4" r="3.1"/><circle cx="5.2" cy="-2" r="2.7"/><rect x="-5.1" y="-2.6" width="10.3" height="3.4"/></g></g><g fill="#4a88c0"><circle cx="-4" cy="4" r="1.4" fill="#5e98cc"/><circle cx="0.7" cy="3.4" r="0.6"/><circle cx="2.9" cy="3.4" r="0.5"/><circle cx="-1.5" cy="5.2" r="0.5"/><circle cx="4.4" cy="5" r="0.6"/><circle cx="1" cy="6.3" r="0.45"/><circle cx="-2.7" cy="7.5" r="0.6"/></g></g><g transform="translate(379.95 519.93)"><path d="M7.57 -1.36A3.5 3.5 0 1 1 3.61 -6.03A3.2 3.2 0 0 0 7.57 -1.36Z" fill="#fcd02f" stroke="#e8b820" stroke-width="0.3"/><g transform="translate(-0.7 4.4) scale(0.94)"><g fill="#828282" stroke="#828282" stroke-width="0.85"><circle cx="-5.1" cy="-1.3" r="2.1"/><circle cx="-0.9" cy="-4.4" r="3.1"/><circle cx="5.2" cy="-2" r="2.7"/><rect x="-5.1" y="-2.6" width="10.3" height="3.4"/></g><g fill="#9c9c9c"><circle cx="-5.1" cy="-1.3" r="2.1"/><circle cx="-0.9" cy="-4.4" r="3.1"/><circle cx="5.2" cy="-2" r="2.7"/><rect x="-5.1" y="-2.6" width="10.3" height="3.4"/></g></g></g><g transform="translate(405.1 519.93)"><circle cx="6.9" cy="-1.7" r="0.7" fill="#d7c9b4"/><circle cx="6.23" cy="0.8" r="0.7" fill="#d9a86a"/><circle cx="4.4" cy="2.63" r="0.7" fill="#d9a86a"/><circle cx="1.9" cy="3.3" r="0.7" fill="#d7c9b4"/><circle cx="-0.6" cy="2.63" r="0.7" fill="#d9a86a"/><circle cx="-2.43" cy="0.8" r="0.7" fill="#d9a86a"/><circle cx="-3.1" cy="-1.7" r="0.7" fill="#d7c9b4"/><circle cx="-2.43" cy="-4.2" r="0.7" fill="#d9a86a"/><circle cx="-0.6" cy="-6.03" r="0.7" fill="#d9a86a"/><circle cx="1.9" cy="-6.7" r="0.7" fill="#d7c9b4"/><circle cx="4.4" cy="-6.03" r="0.7" fill="#d9a86a"/><circle cx="6.23" cy="-4.2" r="0.7" fill="#d9a86a"/><circle cx="1.9" cy="-1.7" r="3.2" fill="#fdb32b" stroke="#f0a020" stroke-width="0.5"/><g transform="translate(-0.5 5.6) scale(0.96)"><g fill="#3c80bf" stroke="#3c80bf" stroke-width="0.83"><circle cx="-5.1" cy="-1.3" r="2.1"/><circle cx="-0.9" cy="-4.4" r="3.1"/><circle cx="5.2" cy="-2" r="2.7"/><rect x="-5.1" y="-2.6" width="10.3" height="3.4"/></g><g fill="#4f96d2"><circle cx="-5.1" cy="-1.3" r="2.1"/><circle cx="-0.9" cy="-4.4" r="3.1"/><circle cx="5.2" cy="-2" r="2.7"/><rect x="-5.1" y="-2.6" width="10.3" height="3.4"/></g></g></g><g transform="translate(479 519.93)"><path d="M7.21 3.73A7.8 7.8 0 1 1 -1.42 -7.51A7.4 7.4 0 0 0 7.21 3.73Z" fill="#fcd02f" stroke="#e8b820" stroke-width="0.5"/></g><g transform="translate(504.2 519.93)"><circle cx="6.6" cy="-0.25" r="0.7" fill="#d7c9b4"/><circle cx="5.68" cy="3.2" r="0.7" fill="#d9a86a"/><circle cx="3.15" cy="5.73" r="0.7" fill="#d9a86a"/><circle cx="-0.3" cy="6.65" r="0.7" fill="#d7c9b4"/><circle cx="-3.75" cy="5.73" r="0.7" fill="#d9a86a"/><circle cx="-6.28" cy="3.2" r="0.7" fill="#d9a86a"/><circle cx="-7.2" cy="-0.25" r="0.7" fill="#d7c9b4"/><circle cx="-6.28" cy="-3.7" r="0.7" fill="#d9a86a"/><circle cx="-3.75" cy="-6.23" r="0.7" fill="#d9a86a"/><circle cx="-0.3" cy="-7.15" r="0.7" fill="#d7c9b4"/><circle cx="3.15" cy="-6.23" r="0.7" fill="#d9a86a"/><circle cx="5.68" cy="-3.7" r="0.7" fill="#d9a86a"/><circle cx="-0.3" cy="-0.25" r="4.2" fill="#fdb32b" stroke="#f0a020" stroke-width="0.5"/></g><g transform="translate(578.05 519.93)"><path d="M7.57 -1.36A3.5 3.5 0 1 1 3.61 -6.03A3.2 3.2 0 0 0 7.57 -1.36Z" fill="#fcd02f" stroke="#e8b820" stroke-width="0.3"/><g transform="translate(-0.7 4.4) scale(0.94)"><g fill="#828282" stroke="#828282" stroke-width="0.85"><circle cx="-5.1" cy="-1.3" r="2.1"/><circle cx="-0.9" cy="-4.4" r="3.1"/><circle cx="5.2" cy="-2" r="2.7"/><rect x="-5.1" y="-2.6" width="10.3" height="3.4"/></g><g fill="#9c9c9c"><circle cx="-5.1" cy="-1.3" r="2.1"/><circle cx="-0.9" cy="-4.4" r="3.1"/><circle cx="5.2" cy="-2" r="2.7"/><rect x="-5.1" y="-2.6" width="10.3" height="3.4"/></g></g></g><g transform="translate(603.25 519.93)"><circle cx="6.23" cy="-2.41" r="0.7" fill="#d7c9b4"/><circle cx="4.73" cy="-5.01" r="0.7" fill="#d9a86a"/><circle cx="2.31" cy="-6.77" r="0.7" fill="#d9a86a"/><circle cx="-0.62" cy="-7.39" r="0.7" fill="#d7c9b4"/><circle cx="-3.55" cy="-6.77" r="0.7" fill="#d9a86a"/><circle cx="-5.97" cy="-5.01" r="0.7" fill="#d9a86a"/><circle cx="-7.47" cy="-2.41" r="0.7" fill="#d7c9b4"/><path d="M-5.62 -0.19A5 5 0 0 1 4.38 -0.19V3H-5.62Z" fill="#fdb32b" stroke="#f0a020" stroke-width="0.5"/><path d="M-8.4 0.6Q-8.4 -0.2 -7.6 -0.2H-5.6L-4.9 1.3L-3.6 1.6L-2.6 2.5L-1.4 1.9L0.2 2.0L1.4 1.2L3.2 1.0L4.4 -0.2H6.9Q7.7 -0.2 7.7 0.8V2.6Q7.7 3.5 6.7 3.5H4.8V7Q4.8 7.8 4 7.8H-4.2Q-4.96 7.8 -4.96 7V5.5Q-4.96 4.7 -4.2 4.7H-2.07V3.5H-7.6Q-8.4 3.5 -8.4 2.8Z" fill="#4a90cc" stroke="#3b7fbd" stroke-width="0.5"/></g><g transform="translate(671.2 519.93)"><g transform="translate(0 0) scale(1)"><g fill="#828282" stroke="#828282" stroke-width="0.8"><circle cx="-5.1" cy="-1.3" r="2.1"/><circle cx="-0.9" cy="-4.4" r="3.1"/><circle cx="5.2" cy="-2" r="2.7"/><rect x="-5.1" y="-2.6" width="10.3" height="3.4"/></g><g fill="#9c9c9c"><circle cx="-5.1" cy="-1.3" r="2.1"/><circle cx="-0.9" cy="-4.4" r="3.1"/><circle cx="5.2" cy="-2" r="2.7"/><rect x="-5.1" y="-2.6" width="10.3" height="3.4"/></g></g><g fill="#4a88c0"><circle cx="-4" cy="4" r="1.4" fill="#5e98cc"/><circle cx="0.7" cy="3.4" r="0.6"/><circle cx="2.9" cy="3.4" r="0.5"/><circle cx="-1.5" cy="5.2" r="0.5"/><circle cx="4.4" cy="5" r="0.6"/><circle cx="1" cy="6.3" r="0.45"/><circle cx="-2.7" cy="7.5" r="0.6"/></g></g><g transform="translate(696.4 519.93)"><g transform="translate(0 0) scale(1)"><g fill="#3c80bf" stroke="#3c80bf" stroke-width="0.8"><circle cx="-5.1" cy="-1.3" r="2.1"/><circle cx="-0.9" cy="-4.4" r="3.1"/><circle cx="5.2" cy="-2" r="2.7"/><rect x="-5.1" y="-2.6" width="10.3" height="3.4"/></g><g fill="#4f96d2"><circle cx="-5.1" cy="-1.3" r="2.1"/><circle cx="-0.9" cy="-4.4" r="3.1"/><circle cx="5.2" cy="-2" r="2.7"/><rect x="-5.1" y="-2.6" width="10.3" height="3.4"/></g></g><g fill="#4a88c0"><circle cx="-4" cy="4" r="1.4" fill="#5e98cc"/><circle cx="0.7" cy="3.4" r="0.6"/><circle cx="2.9" cy="3.4" r="0.5"/><circle cx="-1.5" cy="5.2" r="0.5"/><circle cx="4.4" cy="5" r="0.6"/><circle cx="1" cy="6.3" r="0.45"/><circle cx="-2.7" cy="7.5" r="0.6"/></g></g><g transform="translate(199.65 551.43)"><g transform="translate(0 0) scale(1)"><g fill="#3c80bf" stroke="#3c80bf" stroke-width="0.8"><circle cx="-5.1" cy="-1.3" r="2.1"/><circle cx="-0.9" cy="-4.4" r="3.1"/><circle cx="5.2" cy="-2" r="2.7"/><rect x="-5.1" y="-2.6" width="10.3" height="3.4"/></g><g fill="#4f96d2"><circle cx="-5.1" cy="-1.3" r="2.1"/><circle cx="-0.9" cy="-4.4" r="3.1"/><circle cx="5.2" cy="-2" r="2.7"/><rect x="-5.1" y="-2.6" width="10.3" height="3.4"/></g></g><g fill="#4a88c0"><circle cx="-4" cy="4" r="1.4" fill="#5e98cc"/><circle cx="0.7" cy="3.4" r="0.6"/><circle cx="2.9" cy="3.4" r="0.5"/><circle cx="-1.5" cy="5.2" r="0.5"/><circle cx="4.4" cy="5" r="0.6"/><circle cx="1" cy="6.3" r="0.45"/><circle cx="-2.7" cy="7.5" r="0.6"/></g></g><g transform="translate(281.95 551.43)"><g transform="translate(-3.4 0.6) scale(0.6)"><g fill="#858585" stroke="#858585" stroke-width="1.33"><circle cx="-5.1" cy="-1.3" r="2.1"/><circle cx="-0.9" cy="-4.4" r="3.1"/><circle cx="5.2" cy="-2" r="2.7"/><rect x="-5.1" y="-2.6" width="10.3" height="3.4"/></g><g fill="#9a9a9a"><circle cx="-5.1" cy="-1.3" r="2.1"/><circle cx="-0.9" cy="-4.4" r="3.1"/><circle cx="5.2" cy="-2" r="2.7"/><rect x="-5.1" y="-2.6" width="10.3" height="3.4"/></g></g><path d="M6.82 -0.03A3.8 3.8 0 1 1 2.34 -5.35A3.6 3.6 0 0 0 6.82 -0.03Z" fill="#fcd02f" stroke="#e8b820" stroke-width="0.3"/><g transform="translate(1.9 5.6) scale(1.25 1)"><g transform="translate(0 0) scale(0.6)"><g fill="#ababab" stroke="#ababab" stroke-width="1.33"><circle cx="-5.1" cy="-1.3" r="2.1"/><circle cx="-0.9" cy="-4.4" r="3.1"/><circle cx="5.2" cy="-2" r="2.7"/><rect x="-5.1" y="-2.6" width="10.3" height="3.4"/></g><g fill="#c4c4c4"><circle cx="-5.1" cy="-1.3" r="2.1"/><circle cx="-0.9" cy="-4.4" r="3.1"/><circle cx="5.2" cy="-2" r="2.7"/><rect x="-5.1" y="-2.6" width="10.3" height="3.4"/></g></g></g></g><g transform="translate(307.15 551.43)"><g transform="translate(0 0) scale(1)"><g fill="#3c80bf" stroke="#3c80bf" stroke-width="0.8"><circle cx="-5.1" cy="-1.3" r="2.1"/><circle cx="-0.9" cy="-4.4" r="3.1"/><circle cx="5.2" cy="-2" r="2.7"/><rect x="-5.1" y="-2.6" width="10.3" height="3.4"/></g><g fill="#4f96d2"><circle cx="-5.1" cy="-1.3" r="2.1"/><circle cx="-0.9" cy="-4.4" r="3.1"/><circle cx="5.2" cy="-2" r="2.7"/><rect x="-5.1" y="-2.6" width="10.3" height="3.4"/></g></g><g fill="#4a88c0"><circle cx="-4" cy="4" r="1.4" fill="#5e98cc"/><circle cx="0.7" cy="3.4" r="0.6"/><circle cx="2.9" cy="3.4" r="0.5"/><circle cx="-1.5" cy="5.2" r="0.5"/><circle cx="4.4" cy="5" r="0.6"/><circle cx="1" cy="6.3" r="0.45"/><circle cx="-2.7" cy="7.5" r="0.6"/></g></g><g transform="translate(379.95 551.43)"><path d="M7.57 -1.36A3.5 3.5 0 1 1 3.61 -6.03A3.2 3.2 0 0 0 7.57 -1.36Z" fill="#fcd02f" stroke="#e8b820" stroke-width="0.3"/><g transform="translate(-0.7 4.4) scale(0.94)"><g fill="#828282" stroke="#828282" stroke-width="0.85"><circle cx="-5.1" cy="-1.3" r="2.1"/><circle cx="-0.9" cy="-4.4" r="3.1"/><circle cx="5.2" cy="-2" r="2.7"/><rect x="-5.1" y="-2.6" width="10.3" height="3.4"/></g><g fill="#9c9c9c"><circle cx="-5.1" cy="-1.3" r="2.1"/><circle cx="-0.9" cy="-4.4" r="3.1"/><circle cx="5.2" cy="-2" r="2.7"/><rect x="-5.1" y="-2.6" width="10.3" height="3.4"/></g></g></g><g transform="translate(405.1 551.43)"><circle cx="6.9" cy="-1.7" r="0.7" fill="#d7c9b4"/><circle cx="6.23" cy="0.8" r="0.7" fill="#d9a86a"/><circle cx="4.4" cy="2.63" r="0.7" fill="#d9a86a"/><circle cx="1.9" cy="3.3" r="0.7" fill="#d7c9b4"/><circle cx="-0.6" cy="2.63" r="0.7" fill="#d9a86a"/><circle cx="-2.43" cy="0.8" r="0.7" fill="#d9a86a"/><circle cx="-3.1" cy="-1.7" r="0.7" fill="#d7c9b4"/><circle cx="-2.43" cy="-4.2" r="0.7" fill="#d9a86a"/><circle cx="-0.6" cy="-6.03" r="0.7" fill="#d9a86a"/><circle cx="1.9" cy="-6.7" r="0.7" fill="#d7c9b4"/><circle cx="4.4" cy="-6.03" r="0.7" fill="#d9a86a"/><circle cx="6.23" cy="-4.2" r="0.7" fill="#d9a86a"/><circle cx="1.9" cy="-1.7" r="3.2" fill="#fdb32b" stroke="#f0a020" stroke-width="0.5"/><g transform="translate(-0.5 5.6) scale(0.96)"><g fill="#3c80bf" stroke="#3c80bf" stroke-width="0.83"><circle cx="-5.1" cy="-1.3" r="2.1"/><circle cx="-0.9" cy="-4.4" r="3.1"/><circle cx="5.2" cy="-2" r="2.7"/><rect x="-5.1" y="-2.6" width="10.3" height="3.4"/></g><g fill="#4f96d2"><circle cx="-5.1" cy="-1.3" r="2.1"/><circle cx="-0.9" cy="-4.4" r="3.1"/><circle cx="5.2" cy="-2" r="2.7"/><rect x="-5.1" y="-2.6" width="10.3" height="3.4"/></g></g></g><g transform="translate(479 551.43)"><path d="M7.21 3.73A7.8 7.8 0 1 1 -1.42 -7.51A7.4 7.4 0 0 0 7.21 3.73Z" fill="#fcd02f" stroke="#e8b820" stroke-width="0.5"/></g><g transform="translate(504.2 551.43)"><circle cx="6.6" cy="-0.25" r="0.7" fill="#d7c9b4"/><circle cx="5.68" cy="3.2" r="0.7" fill="#d9a86a"/><circle cx="3.15" cy="5.73" r="0.7" fill="#d9a86a"/><circle cx="-0.3" cy="6.65" r="0.7" fill="#d7c9b4"/><circle cx="-3.75" cy="5.73" r="0.7" fill="#d9a86a"/><circle cx="-6.28" cy="3.2" r="0.7" fill="#d9a86a"/><circle cx="-7.2" cy="-0.25" r="0.7" fill="#d7c9b4"/><circle cx="-6.28" cy="-3.7" r="0.7" fill="#d9a86a"/><circle cx="-3.75" cy="-6.23" r="0.7" fill="#d9a86a"/><circle cx="-0.3" cy="-7.15" r="0.7" fill="#d7c9b4"/><circle cx="3.15" cy="-6.23" r="0.7" fill="#d9a86a"/><circle cx="5.68" cy="-3.7" r="0.7" fill="#d9a86a"/><circle cx="-0.3" cy="-0.25" r="4.2" fill="#fdb32b" stroke="#f0a020" stroke-width="0.5"/></g><g transform="translate(578.05 551.43)"><path d="M7.57 -1.36A3.5 3.5 0 1 1 3.61 -6.03A3.2 3.2 0 0 0 7.57 -1.36Z" fill="#fcd02f" stroke="#e8b820" stroke-width="0.3"/><g transform="translate(-0.7 4.4) scale(0.94)"><g fill="#828282" stroke="#828282" stroke-width="0.85"><circle cx="-5.1" cy="-1.3" r="2.1"/><circle cx="-0.9" cy="-4.4" r="3.1"/><circle cx="5.2" cy="-2" r="2.7"/><rect x="-5.1" y="-2.6" width="10.3" height="3.4"/></g><g fill="#9c9c9c"><circle cx="-5.1" cy="-1.3" r="2.1"/><circle cx="-0.9" cy="-4.4" r="3.1"/><circle cx="5.2" cy="-2" r="2.7"/><rect x="-5.1" y="-2.6" width="10.3" height="3.4"/></g></g></g><g transform="translate(603.25 551.43)"><circle cx="6.23" cy="-2.41" r="0.7" fill="#d7c9b4"/><circle cx="4.73" cy="-5.01" r="0.7" fill="#d9a86a"/><circle cx="2.31" cy="-6.77" r="0.7" fill="#d9a86a"/><circle cx="-0.62" cy="-7.39" r="0.7" fill="#d7c9b4"/><circle cx="-3.55" cy="-6.77" r="0.7" fill="#d9a86a"/><circle cx="-5.97" cy="-5.01" r="0.7" fill="#d9a86a"/><circle cx="-7.47" cy="-2.41" r="0.7" fill="#d7c9b4"/><path d="M-5.62 -0.19A5 5 0 0 1 4.38 -0.19V3H-5.62Z" fill="#fdb32b" stroke="#f0a020" stroke-width="0.5"/><path d="M-8.4 0.6Q-8.4 -0.2 -7.6 -0.2H-5.6L-4.9 1.3L-3.6 1.6L-2.6 2.5L-1.4 1.9L0.2 2.0L1.4 1.2L3.2 1.0L4.4 -0.2H6.9Q7.7 -0.2 7.7 0.8V2.6Q7.7 3.5 6.7 3.5H4.8V7Q4.8 7.8 4 7.8H-4.2Q-4.96 7.8 -4.96 7V5.5Q-4.96 4.7 -4.2 4.7H-2.07V3.5H-7.6Q-8.4 3.5 -8.4 2.8Z" fill="#4a90cc" stroke="#3b7fbd" stroke-width="0.5"/></g><g transform="translate(671.2 551.43)"><g transform="translate(0 0) scale(1)"><g fill="#828282" stroke="#828282" stroke-width="0.8"><circle cx="-5.1" cy="-1.3" r="2.1"/><circle cx="-0.9" cy="-4.4" r="3.1"/><circle cx="5.2" cy="-2" r="2.7"/><rect x="-5.1" y="-2.6" width="10.3" height="3.4"/></g><g fill="#9c9c9c"><circle cx="-5.1" cy="-1.3" r="2.1"/><circle cx="-0.9" cy="-4.4" r="3.1"/><circle cx="5.2" cy="-2" r="2.7"/><rect x="-5.1" y="-2.6" width="10.3" height="3.4"/></g></g><g fill="#4a88c0"><circle cx="-4" cy="4" r="1.4" fill="#5e98cc"/><circle cx="0.7" cy="3.4" r="0.6"/><circle cx="2.9" cy="3.4" r="0.5"/><circle cx="-1.5" cy="5.2" r="0.5"/><circle cx="4.4" cy="5" r="0.6"/><circle cx="1" cy="6.3" r="0.45"/><circle cx="-2.7" cy="7.5" r="0.6"/></g></g><g transform="translate(696.4 551.43)"><g transform="translate(0 0) scale(1)"><g fill="#3c80bf" stroke="#3c80bf" stroke-width="0.8"><circle cx="-5.1" cy="-1.3" r="2.1"/><circle cx="-0.9" cy="-4.4" r="3.1"/><circle cx="5.2" cy="-2" r="2.7"/><rect x="-5.1" y="-2.6" width="10.3" height="3.4"/></g><g fill="#4f96d2"><circle cx="-5.1" cy="-1.3" r="2.1"/><circle cx="-0.9" cy="-4.4" r="3.1"/><circle cx="5.2" cy="-2" r="2.7"/><rect x="-5.1" y="-2.6" width="10.3" height="3.4"/></g></g><g fill="#4a88c0"><circle cx="-4" cy="4" r="1.4" fill="#5e98cc"/><circle cx="0.7" cy="3.4" r="0.6"/><circle cx="2.9" cy="3.4" r="0.5"/><circle cx="-1.5" cy="5.2" r="0.5"/><circle cx="4.4" cy="5" r="0.6"/><circle cx="1" cy="6.3" r="0.45"/><circle cx="-2.7" cy="7.5" r="0.6"/></g></g><g transform="translate(199.65 582.93)"><g transform="translate(0 0.3) scale(1)"><g fill="#3c80bf" stroke="#3c80bf" stroke-width="0.8"><circle cx="-5.1" cy="-1.3" r="2.1"/><circle cx="-0.9" cy="-4.4" r="3.1"/><circle cx="5.2" cy="-2" r="2.7"/><rect x="-5.1" y="-2.6" width="10.3" height="3.4"/></g><g fill="#4f96d2"><circle cx="-5.1" cy="-1.3" r="2.1"/><circle cx="-0.9" cy="-4.4" r="3.1"/><circle cx="5.2" cy="-2" r="2.7"/><rect x="-5.1" y="-2.6" width="10.3" height="3.4"/></g></g><g fill="none" stroke="#4a86bd" stroke-width="0.9" stroke-linecap="round"><path d="M-3.6 4L-4.8 6.2"/><circle cx="-4.6" cy="6.3" r="0.8" fill="#4a86bd" stroke="none"/><path d="M-0.4 4L-1.6 6.2"/><circle cx="-1.4" cy="6.3" r="0.8" fill="#4a86bd" stroke="none"/><path d="M2.8 4L1.6 6.2"/><circle cx="1.8" cy="6.3" r="0.8" fill="#4a86bd" stroke="none"/><path d="M6 4L4.8 6.2"/><circle cx="5" cy="6.3" r="0.8" fill="#4a86bd" stroke="none"/></g></g><g transform="translate(281.95 582.93)"><g transform="translate(-3.4 0.6) scale(0.6)"><g fill="#858585" stroke="#858585" stroke-width="1.33"><circle cx="-5.1" cy="-1.3" r="2.1"/><circle cx="-0.9" cy="-4.4" r="3.1"/><circle cx="5.2" cy="-2" r="2.7"/><rect x="-5.1" y="-2.6" width="10.3" height="3.4"/></g><g fill="#9a9a9a"><circle cx="-5.1" cy="-1.3" r="2.1"/><circle cx="-0.9" cy="-4.4" r="3.1"/><circle cx="5.2" cy="-2" r="2.7"/><rect x="-5.1" y="-2.6" width="10.3" height="3.4"/></g></g><path d="M6.82 -0.03A3.8 3.8 0 1 1 2.34 -5.35A3.6 3.6 0 0 0 6.82 -0.03Z" fill="#fcd02f" stroke="#e8b820" stroke-width="0.3"/><g transform="translate(1.9 5.6) scale(1.25 1)"><g transform="translate(0 0) scale(0.6)"><g fill="#ababab" stroke="#ababab" stroke-width="1.33"><circle cx="-5.1" cy="-1.3" r="2.1"/><circle cx="-0.9" cy="-4.4" r="3.1"/><circle cx="5.2" cy="-2" r="2.7"/><rect x="-5.1" y="-2.6" width="10.3" height="3.4"/></g><g fill="#c4c4c4"><circle cx="-5.1" cy="-1.3" r="2.1"/><circle cx="-0.9" cy="-4.4" r="3.1"/><circle cx="5.2" cy="-2" r="2.7"/><rect x="-5.1" y="-2.6" width="10.3" height="3.4"/></g></g></g></g><g transform="translate(307.15 582.93)"><g transform="translate(0 0.3) scale(1)"><g fill="#3c80bf" stroke="#3c80bf" stroke-width="0.8"><circle cx="-5.1" cy="-1.3" r="2.1"/><circle cx="-0.9" cy="-4.4" r="3.1"/><circle cx="5.2" cy="-2" r="2.7"/><rect x="-5.1" y="-2.6" width="10.3" height="3.4"/></g><g fill="#4f96d2"><circle cx="-5.1" cy="-1.3" r="2.1"/><circle cx="-0.9" cy="-4.4" r="3.1"/><circle cx="5.2" cy="-2" r="2.7"/><rect x="-5.1" y="-2.6" width="10.3" height="3.4"/></g></g><g fill="none" stroke="#4a86bd" stroke-width="0.9" stroke-linecap="round"><path d="M-3.6 4L-4.8 6.2"/><circle cx="-4.6" cy="6.3" r="0.8" fill="#4a86bd" stroke="none"/><path d="M-0.4 4L-1.6 6.2"/><circle cx="-1.4" cy="6.3" r="0.8" fill="#4a86bd" stroke="none"/><path d="M2.8 4L1.6 6.2"/><circle cx="1.8" cy="6.3" r="0.8" fill="#4a86bd" stroke="none"/><path d="M6 4L4.8 6.2"/><circle cx="5" cy="6.3" r="0.8" fill="#4a86bd" stroke="none"/></g></g><g transform="translate(379.95 582.93)"><path d="M7.57 -1.36A3.5 3.5 0 1 1 3.61 -6.03A3.2 3.2 0 0 0 7.57 -1.36Z" fill="#fcd02f" stroke="#e8b820" stroke-width="0.3"/><g transform="translate(-0.7 4.4) scale(0.94)"><g fill="#828282" stroke="#828282" stroke-width="0.85"><circle cx="-5.1" cy="-1.3" r="2.1"/><circle cx="-0.9" cy="-4.4" r="3.1"/><circle cx="5.2" cy="-2" r="2.7"/><rect x="-5.1" y="-2.6" width="10.3" height="3.4"/></g><g fill="#9c9c9c"><circle cx="-5.1" cy="-1.3" r="2.1"/><circle cx="-0.9" cy="-4.4" r="3.1"/><circle cx="5.2" cy="-2" r="2.7"/><rect x="-5.1" y="-2.6" width="10.3" height="3.4"/></g></g></g><g transform="translate(405.1 582.93)"><circle cx="6.9" cy="-1.7" r="0.7" fill="#d7c9b4"/><circle cx="6.23" cy="0.8" r="0.7" fill="#d9a86a"/><circle cx="4.4" cy="2.63" r="0.7" fill="#d9a86a"/><circle cx="1.9" cy="3.3" r="0.7" fill="#d7c9b4"/><circle cx="-0.6" cy="2.63" r="0.7" fill="#d9a86a"/><circle cx="-2.43" cy="0.8" r="0.7" fill="#d9a86a"/><circle cx="-3.1" cy="-1.7" r="0.7" fill="#d7c9b4"/><circle cx="-2.43" cy="-4.2" r="0.7" fill="#d9a86a"/><circle cx="-0.6" cy="-6.03" r="0.7" fill="#d9a86a"/><circle cx="1.9" cy="-6.7" r="0.7" fill="#d7c9b4"/><circle cx="4.4" cy="-6.03" r="0.7" fill="#d9a86a"/><circle cx="6.23" cy="-4.2" r="0.7" fill="#d9a86a"/><circle cx="1.9" cy="-1.7" r="3.2" fill="#fdb32b" stroke="#f0a020" stroke-width="0.5"/><g transform="translate(-0.5 5.6) scale(0.96)"><g fill="#3c80bf" stroke="#3c80bf" stroke-width="0.83"><circle cx="-5.1" cy="-1.3" r="2.1"/><circle cx="-0.9" cy="-4.4" r="3.1"/><circle cx="5.2" cy="-2" r="2.7"/><rect x="-5.1" y="-2.6" width="10.3" height="3.4"/></g><g fill="#4f96d2"><circle cx="-5.1" cy="-1.3" r="2.1"/><circle cx="-0.9" cy="-4.4" r="3.1"/><circle cx="5.2" cy="-2" r="2.7"/><rect x="-5.1" y="-2.6" width="10.3" height="3.4"/></g></g></g><g transform="translate(479 582.93)"><path d="M7.21 3.73A7.8 7.8 0 1 1 -1.42 -7.51A7.4 7.4 0 0 0 7.21 3.73Z" fill="#fcd02f" stroke="#e8b820" stroke-width="0.5"/></g><g transform="translate(504.2 582.93)"><circle cx="6.6" cy="-0.25" r="0.7" fill="#d7c9b4"/><circle cx="5.68" cy="3.2" r="0.7" fill="#d9a86a"/><circle cx="3.15" cy="5.73" r="0.7" fill="#d9a86a"/><circle cx="-0.3" cy="6.65" r="0.7" fill="#d7c9b4"/><circle cx="-3.75" cy="5.73" r="0.7" fill="#d9a86a"/><circle cx="-6.28" cy="3.2" r="0.7" fill="#d9a86a"/><circle cx="-7.2" cy="-0.25" r="0.7" fill="#d7c9b4"/><circle cx="-6.28" cy="-3.7" r="0.7" fill="#d9a86a"/><circle cx="-3.75" cy="-6.23" r="0.7" fill="#d9a86a"/><circle cx="-0.3" cy="-7.15" r="0.7" fill="#d7c9b4"/><circle cx="3.15" cy="-6.23" r="0.7" fill="#d9a86a"/><circle cx="5.68" cy="-3.7" r="0.7" fill="#d9a86a"/><circle cx="-0.3" cy="-0.25" r="4.2" fill="#fdb32b" stroke="#f0a020" stroke-width="0.5"/></g><g transform="translate(578.05 582.93)"><path d="M7.57 -1.36A3.5 3.5 0 1 1 3.61 -6.03A3.2 3.2 0 0 0 7.57 -1.36Z" fill="#fcd02f" stroke="#e8b820" stroke-width="0.3"/><g transform="translate(-0.7 4.4) scale(0.94)"><g fill="#828282" stroke="#828282" stroke-width="0.85"><circle cx="-5.1" cy="-1.3" r="2.1"/><circle cx="-0.9" cy="-4.4" r="3.1"/><circle cx="5.2" cy="-2" r="2.7"/><rect x="-5.1" y="-2.6" width="10.3" height="3.4"/></g><g fill="#9c9c9c"><circle cx="-5.1" cy="-1.3" r="2.1"/><circle cx="-0.9" cy="-4.4" r="3.1"/><circle cx="5.2" cy="-2" r="2.7"/><rect x="-5.1" y="-2.6" width="10.3" height="3.4"/></g></g></g><g transform="translate(603.25 582.93)"><circle cx="6.23" cy="-2.41" r="0.7" fill="#d7c9b4"/><circle cx="4.73" cy="-5.01" r="0.7" fill="#d9a86a"/><circle cx="2.31" cy="-6.77" r="0.7" fill="#d9a86a"/><circle cx="-0.62" cy="-7.39" r="0.7" fill="#d7c9b4"/><circle cx="-3.55" cy="-6.77" r="0.7" fill="#d9a86a"/><circle cx="-5.97" cy="-5.01" r="0.7" fill="#d9a86a"/><circle cx="-7.47" cy="-2.41" r="0.7" fill="#d7c9b4"/><path d="M-5.62 -0.19A5 5 0 0 1 4.38 -0.19V3H-5.62Z" fill="#fdb32b" stroke="#f0a020" stroke-width="0.5"/><path d="M-8.4 0.6Q-8.4 -0.2 -7.6 -0.2H-5.6L-4.9 1.3L-3.6 1.6L-2.6 2.5L-1.4 1.9L0.2 2.0L1.4 1.2L3.2 1.0L4.4 -0.2H6.9Q7.7 -0.2 7.7 0.8V2.6Q7.7 3.5 6.7 3.5H4.8V7Q4.8 7.8 4 7.8H-4.2Q-4.96 7.8 -4.96 7V5.5Q-4.96 4.7 -4.2 4.7H-2.07V3.5H-7.6Q-8.4 3.5 -8.4 2.8Z" fill="#4a90cc" stroke="#3b7fbd" stroke-width="0.5"/></g><g transform="translate(671.2 582.93)"><g transform="translate(0 0.2) scale(1)"><g fill="#828282" stroke="#828282" stroke-width="0.8"><circle cx="-5.1" cy="-1.3" r="2.1"/><circle cx="-0.9" cy="-4.4" r="3.1"/><circle cx="5.2" cy="-2" r="2.7"/><rect x="-5.1" y="-2.6" width="10.3" height="3.4"/></g><g fill="#9c9c9c"><circle cx="-5.1" cy="-1.3" r="2.1"/><circle cx="-0.9" cy="-4.4" r="3.1"/><circle cx="5.2" cy="-2" r="2.7"/><rect x="-5.1" y="-2.6" width="10.3" height="3.4"/></g></g><g fill="#4a88c0"><circle cx="-3.6" cy="2.4" r="1"/><circle cx="-4.5" cy="4.6" r="0.5"/><circle cx="-2.2" cy="4.6" r="0.5"/><circle cx="0" cy="4" r="0.5"/><circle cx="2" cy="4" r="0.5"/><circle cx="-1.6" cy="5.6" r="0.7"/><circle cx="0.6" cy="5.6" r="0.5"/><circle cx="2.8" cy="5.6" r="0.5"/><circle cx="-3.4" cy="6.6" r="0.5"/><circle cx="-0.4" cy="7.2" r="0.5"/><circle cx="4.5" cy="6.5" r="1.3"/><circle cx="5.5" cy="3.5" r="0.6"/></g></g><g transform="translate(696.4 582.93)"><g transform="translate(0 0.2) scale(1)"><g fill="#3c80bf" stroke="#3c80bf" stroke-width="0.8"><circle cx="-5.1" cy="-1.3" r="2.1"/><circle cx="-0.9" cy="-4.4" r="3.1"/><circle cx="5.2" cy="-2" r="2.7"/><rect x="-5.1" y="-2.6" width="10.3" height="3.4"/></g><g fill="#4f96d2"><circle cx="-5.1" cy="-1.3" r="2.1"/><circle cx="-0.9" cy="-4.4" r="3.1"/><circle cx="5.2" cy="-2" r="2.7"/><rect x="-5.1" y="-2.6" width="10.3" height="3.4"/></g></g><g fill="#4a88c0"><circle cx="-3.6" cy="2.4" r="1"/><circle cx="-4.5" cy="4.6" r="0.5"/><circle cx="-2.2" cy="4.6" r="0.5"/><circle cx="0" cy="4" r="0.5"/><circle cx="2" cy="4" r="0.5"/><circle cx="-1.6" cy="5.6" r="0.7"/><circle cx="0.6" cy="5.6" r="0.5"/><circle cx="2.8" cy="5.6" r="0.5"/><circle cx="-3.4" cy="6.6" r="0.5"/><circle cx="-0.4" cy="7.2" r="0.5"/><circle cx="4.5" cy="6.5" r="1.3"/><circle cx="5.5" cy="3.5" r="0.6"/></g></g></g>
<g stroke="#907e61" stroke-width="1.3" fill="none"><line x1="77.5" y1="78.9" x2="134.3" y2="78.9"/><line x1="134.3" y1="78.9" x2="177" y2="78.9"/><line x1="222.3" y1="78.9" x2="269.6" y2="78.9"/><line x1="320" y1="78.9" x2="367.6" y2="78.9"/><line x1="417.9" y1="78.9" x2="466.6" y2="78.9"/><line x1="517" y1="78.9" x2="565.7" y2="78.9"/><line x1="616.1" y1="78.9" x2="658.8" y2="78.9"/><line x1="7.8" y1="94.65" x2="709.2" y2="94.65"/><line x1="108.6" y1="110.4" x2="134.3" y2="110.4"/><line x1="134.3" y1="110.4" x2="177" y2="110.4"/><line x1="222.3" y1="110.4" x2="269.6" y2="110.4"/><line x1="320" y1="110.4" x2="367.6" y2="110.4"/><line x1="417.9" y1="110.4" x2="466.6" y2="110.4"/><line x1="517" y1="110.4" x2="565.7" y2="110.4"/><line x1="616.1" y1="110.4" x2="658.8" y2="110.4"/><line x1="77.5" y1="126.15" x2="709.2" y2="126.15"/><line x1="108.6" y1="141.91" x2="134.3" y2="141.91"/><line x1="134.3" y1="141.91" x2="177" y2="141.91"/><line x1="222.3" y1="141.91" x2="269.6" y2="141.91"/><line x1="320" y1="141.91" x2="367.6" y2="141.91"/><line x1="417.9" y1="141.91" x2="466.6" y2="141.91"/><line x1="517" y1="141.91" x2="565.7" y2="141.91"/><line x1="616.1" y1="141.91" x2="658.8" y2="141.91"/><line x1="108.6" y1="94.65" x2="108.6" y2="157.66"/><line x1="7.8" y1="157.66" x2="709.2" y2="157.66"/><line x1="77.5" y1="173.41" x2="134.3" y2="173.41"/><line x1="134.3" y1="173.41" x2="177" y2="173.41"/><line x1="222.3" y1="173.41" x2="269.6" y2="173.41"/><line x1="320" y1="173.41" x2="367.6" y2="173.41"/><line x1="417.9" y1="173.41" x2="466.6" y2="173.41"/><line x1="517" y1="173.41" x2="565.7" y2="173.41"/><line x1="616.1" y1="173.41" x2="658.8" y2="173.41"/><line x1="7.8" y1="189.16" x2="709.2" y2="189.16"/><line x1="77.5" y1="204.91" x2="134.3" y2="204.91"/><line x1="134.3" y1="204.91" x2="177" y2="204.91"/><line x1="222.3" y1="204.91" x2="269.6" y2="204.91"/><line x1="320" y1="204.91" x2="367.6" y2="204.91"/><line x1="417.9" y1="204.91" x2="466.6" y2="204.91"/><line x1="517" y1="204.91" x2="565.7" y2="204.91"/><line x1="616.1" y1="204.91" x2="658.8" y2="204.91"/><line x1="7.8" y1="220.66" x2="709.2" y2="220.66"/><line x1="108.6" y1="236.41" x2="134.3" y2="236.41"/><line x1="134.3" y1="236.41" x2="177" y2="236.41"/><line x1="222.3" y1="236.41" x2="269.6" y2="236.41"/><line x1="320" y1="236.41" x2="367.6" y2="236.41"/><line x1="417.9" y1="236.41" x2="466.6" y2="236.41"/><line x1="517" y1="236.41" x2="565.7" y2="236.41"/><line x1="616.1" y1="236.41" x2="658.8" y2="236.41"/><line x1="77.5" y1="252.16" x2="709.2" y2="252.16"/><line x1="108.6" y1="267.91" x2="134.3" y2="267.91"/><line x1="134.3" y1="267.91" x2="177" y2="267.91"/><line x1="222.3" y1="267.91" x2="269.6" y2="267.91"/><line x1="320" y1="267.91" x2="367.6" y2="267.91"/><line x1="417.9" y1="267.91" x2="466.6" y2="267.91"/><line x1="517" y1="267.91" x2="565.7" y2="267.91"/><line x1="616.1" y1="267.91" x2="658.8" y2="267.91"/><line x1="108.6" y1="220.66" x2="108.6" y2="283.66"/><line x1="7.8" y1="283.66" x2="709.2" y2="283.66"/><line x1="108.6" y1="299.41" x2="134.3" y2="299.41"/><line x1="134.3" y1="299.41" x2="177" y2="299.41"/><line x1="222.3" y1="299.41" x2="269.6" y2="299.41"/><line x1="320" y1="299.41" x2="367.6" y2="299.41"/><line x1="417.9" y1="299.41" x2="466.6" y2="299.41"/><line x1="517" y1="299.41" x2="565.7" y2="299.41"/><line x1="616.1" y1="299.41" x2="658.8" y2="299.41"/><line x1="77.5" y1="315.17" x2="709.2" y2="315.17"/><line x1="108.6" y1="330.92" x2="134.3" y2="330.92"/><line x1="134.3" y1="330.92" x2="177" y2="330.92"/><line x1="222.3" y1="330.92" x2="269.6" y2="330.92"/><line x1="320" y1="330.92" x2="367.6" y2="330.92"/><line x1="417.9" y1="330.92" x2="466.6" y2="330.92"/><line x1="517" y1="330.92" x2="565.7" y2="330.92"/><line x1="616.1" y1="330.92" x2="658.8" y2="330.92"/><line x1="108.6" y1="283.66" x2="108.6" y2="346.67"/><line x1="7.8" y1="346.67" x2="709.2" y2="346.67"/><line x1="108.6" y1="362.42" x2="134.3" y2="362.42"/><line x1="134.3" y1="362.42" x2="177" y2="362.42"/><line x1="222.3" y1="362.42" x2="269.6" y2="362.42"/><line x1="320" y1="362.42" x2="367.6" y2="362.42"/><line x1="417.9" y1="362.42" x2="466.6" y2="362.42"/><line x1="517" y1="362.42" x2="565.7" y2="362.42"/><line x1="616.1" y1="362.42" x2="658.8" y2="362.42"/><line x1="77.5" y1="378.17" x2="709.2" y2="378.17"/><line x1="108.6" y1="393.92" x2="134.3" y2="393.92"/><line x1="134.3" y1="393.92" x2="177" y2="393.92"/><line x1="222.3" y1="393.92" x2="269.6" y2="393.92"/><line x1="320" y1="393.92" x2="367.6" y2="393.92"/><line x1="417.9" y1="393.92" x2="466.6" y2="393.92"/><line x1="517" y1="393.92" x2="565.7" y2="393.92"/><line x1="616.1" y1="393.92" x2="658.8" y2="393.92"/><line x1="108.6" y1="346.67" x2="108.6" y2="409.67"/><line x1="7.8" y1="409.67" x2="709.2" y2="409.67"/><line x1="77.5" y1="425.42" x2="134.3" y2="425.42"/><line x1="134.3" y1="425.42" x2="177" y2="425.42"/><line x1="222.3" y1="425.42" x2="269.6" y2="425.42"/><line x1="320" y1="425.42" x2="367.6" y2="425.42"/><line x1="417.9" y1="425.42" x2="466.6" y2="425.42"/><line x1="517" y1="425.42" x2="565.7" y2="425.42"/><line x1="616.1" y1="425.42" x2="658.8" y2="425.42"/><line x1="7.8" y1="441.17" x2="709.2" y2="441.17"/><line x1="108.6" y1="456.92" x2="134.3" y2="456.92"/><line x1="134.3" y1="456.92" x2="177" y2="456.92"/><line x1="222.3" y1="456.92" x2="269.6" y2="456.92"/><line x1="320" y1="456.92" x2="367.6" y2="456.92"/><line x1="417.9" y1="456.92" x2="466.6" y2="456.92"/><line x1="517" y1="456.92" x2="565.7" y2="456.92"/><line x1="616.1" y1="456.92" x2="658.8" y2="456.92"/><line x1="77.5" y1="472.68" x2="709.2" y2="472.68"/><line x1="108.6" y1="488.43" x2="134.3" y2="488.43"/><line x1="134.3" y1="488.43" x2="177" y2="488.43"/><line x1="222.3" y1="488.43" x2="269.6" y2="488.43"/><line x1="320" y1="488.43" x2="367.6" y2="488.43"/><line x1="417.9" y1="488.43" x2="466.6" y2="488.43"/><line x1="517" y1="488.43" x2="565.7" y2="488.43"/><line x1="616.1" y1="488.43" x2="658.8" y2="488.43"/><line x1="108.6" y1="441.17" x2="108.6" y2="504.18"/><line x1="7.8" y1="504.18" x2="709.2" y2="504.18"/><line x1="108.6" y1="519.93" x2="134.3" y2="519.93"/><line x1="134.3" y1="519.93" x2="177" y2="519.93"/><line x1="222.3" y1="519.93" x2="269.6" y2="519.93"/><line x1="320" y1="519.93" x2="367.6" y2="519.93"/><line x1="417.9" y1="519.93" x2="466.6" y2="519.93"/><line x1="517" y1="519.93" x2="565.7" y2="519.93"/><line x1="616.1" y1="519.93" x2="658.8" y2="519.93"/><line x1="77.5" y1="535.68" x2="709.2" y2="535.68"/><line x1="108.6" y1="551.43" x2="134.3" y2="551.43"/><line x1="134.3" y1="551.43" x2="177" y2="551.43"/><line x1="222.3" y1="551.43" x2="269.6" y2="551.43"/><line x1="320" y1="551.43" x2="367.6" y2="551.43"/><line x1="417.9" y1="551.43" x2="466.6" y2="551.43"/><line x1="517" y1="551.43" x2="565.7" y2="551.43"/><line x1="616.1" y1="551.43" x2="658.8" y2="551.43"/><line x1="77.5" y1="567.18" x2="709.2" y2="567.18"/><line x1="108.6" y1="582.93" x2="134.3" y2="582.93"/><line x1="134.3" y1="582.93" x2="177" y2="582.93"/><line x1="222.3" y1="582.93" x2="269.6" y2="582.93"/><line x1="320" y1="582.93" x2="367.6" y2="582.93"/><line x1="417.9" y1="582.93" x2="466.6" y2="582.93"/><line x1="517" y1="582.93" x2="565.7" y2="582.93"/><line x1="616.1" y1="582.93" x2="658.8" y2="582.93"/><line x1="108.6" y1="504.18" x2="108.6" y2="598.68"/><line x1="7.8" y1="11.45" x2="709.2" y2="11.45"/><line x1="134.3" y1="31.25" x2="709.2" y2="31.25"/><line x1="7.8" y1="63.15" x2="709.2" y2="63.15"/><line x1="7.8" y1="598.68" x2="709.2" y2="598.68"/><line x1="7.8" y1="11.45" x2="7.8" y2="598.68"/><line x1="134.3" y1="11.45" x2="134.3" y2="598.68"/><line x1="222.3" y1="11.45" x2="222.3" y2="598.68"/><line x1="320" y1="11.45" x2="320" y2="598.68"/><line x1="417.9" y1="11.45" x2="417.9" y2="598.68"/><line x1="517" y1="11.45" x2="517" y2="598.68"/><line x1="616.1" y1="11.45" x2="616.1" y2="598.68"/><line x1="709.2" y1="11.45" x2="709.2" y2="598.68"/><line x1="177" y1="31.25" x2="177" y2="598.68"/><line x1="269.6" y1="31.25" x2="269.6" y2="598.68"/><line x1="367.6" y1="31.25" x2="367.6" y2="598.68"/><line x1="466.6" y1="31.25" x2="466.6" y2="598.68"/><line x1="565.7" y1="31.25" x2="565.7" y2="598.68"/><line x1="658.8" y1="31.25" x2="658.8" y2="598.68"/><line x1="177" y1="47.4" x2="222.3" y2="47.4"/><line x1="269.6" y1="47.4" x2="320" y2="47.4"/><line x1="367.6" y1="47.4" x2="417.9" y2="47.4"/><line x1="466.6" y1="47.4" x2="517" y2="47.4"/><line x1="565.7" y1="47.4" x2="616.1" y2="47.4"/><line x1="658.8" y1="47.4" x2="709.2" y2="47.4"/><line x1="294.3" y1="47.4" x2="294.3" y2="598.68"/><line x1="392.3" y1="47.4" x2="392.3" y2="598.68"/><line x1="491.4" y1="47.4" x2="491.4" y2="598.68"/><line x1="590.4" y1="47.4" x2="590.4" y2="598.68"/><line x1="683.6" y1="47.4" x2="683.6" y2="598.68"/><line x1="77.5" y1="63.15" x2="77.5" y2="598.68"/></g>
<g><text x="71.05" y="41.6" font-size="10.2" font-weight="bold" font-style="italic">Մարզեր</text><text x="178.3" y="26.3" font-size="10.2" font-weight="bold">28.02</text><text x="155.65" y="51.1" font-size="7.1">T°C</text><text x="199.65" y="42.9" font-size="7.4">Երևույթ</text><text x="199.65" y="58.8" font-size="7.2">ցեր.</text><text x="271.15" y="26.3" font-size="10.2" font-weight="bold">01.03</text><text x="245.95" y="51.1" font-size="7.1">T°C</text><text x="294.8" y="42.9" font-size="7.4">Երևույթ</text><text x="281.95" y="58.8" font-size="7.2">գիշ.</text><text x="307.15" y="58.8" font-size="7.2">ցեր.</text><text x="368.95" y="26.3" font-size="10.2" font-weight="bold">02.03</text><text x="343.8" y="51.1" font-size="7.1">T°C</text><text x="392.75" y="42.9" font-size="7.4">Երևույթ</text><text x="379.95" y="58.8" font-size="7.2">գիշ.</text><text x="405.1" y="58.8" font-size="7.2">ցեր.</text><text x="467.45" y="26.3" font-size="10.2" font-weight="bold">03.03</text><text x="442.25" y="51.1" font-size="7.1">T°C</text><text x="491.8" y="42.9" font-size="7.4">Երևույթ</text><text x="479" y="58.8" font-size="7.2">գիշ.</text><text x="504.2" y="58.8" font-size="7.2">ցեր.</text><text x="566.55" y="26.3" font-size="10.2" font-weight="bold">04.03</text><text x="541.35" y="51.1" font-size="7.1">T°C</text><text x="590.9" y="42.9" font-size="7.4">Երևույթ</text><text x="578.05" y="58.8" font-size="7.2">գիշ.</text><text x="603.25" y="58.8" font-size="7.2">ցեր.</text><text x="662.65" y="26.3" font-size="10.2" font-weight="bold">05.03</text><text x="637.45" y="51.1" font-size="7.1">T°C</text><text x="684" y="42.9" font-size="7.4">Երևույթ</text><text x="671.2" y="58.8" font-size="7.2">գիշ.</text><text x="696.4" y="58.8" font-size="7.2">ցեր.</text><text x="42.65" y="82.25" font-size="7" font-weight="bold">Շիրակ</text><text x="105.5" y="74.33" font-size="7.2">գիշ.</text><text x="105.5" y="90.08" font-size="7.2">ցեր.</text><text x="42.65" y="129.5" font-size="7" font-weight="bold">Կոտայք</text><text x="93.05" y="113.9" font-size="7.1" font-weight="bold">լեռ.</text><text x="121.05" y="105.83" font-size="7.2">գիշ.</text><text x="121.05" y="121.58" font-size="7.2">ցեր.</text><text x="93.05" y="145.41" font-size="7.1" font-weight="bold">նախ.</text><text x="121.05" y="137.33" font-size="7.2">գիշ.</text><text x="121.05" y="153.08" font-size="7.2">ցեր.</text><text x="42.65" y="176.76" font-size="7" font-weight="bold">Գեղարքունիք</text><text x="105.5" y="168.83" font-size="7.2">գիշ.</text><text x="105.5" y="184.58" font-size="7.2">ցեր.</text><text x="42.65" y="208.26" font-size="7" font-weight="bold">Լոռի</text><text x="105.5" y="200.33" font-size="7.2">գիշ.</text><text x="105.5" y="216.08" font-size="7.2">ցեր.</text><text x="42.65" y="255.51" font-size="7" font-weight="bold">Տավուշ</text><text x="93.05" y="239.91" font-size="7.1" font-weight="bold">նախ.</text><text x="121.05" y="231.84" font-size="7.2">գիշ.</text><text x="121.05" y="247.59" font-size="7.2">ցեր.</text><text x="93.05" y="271.41" font-size="7.1" font-weight="bold">հով.</text><text x="121.05" y="263.34" font-size="7.2">գիշ.</text><text x="121.05" y="279.09" font-size="7.2">ցեր.</text><text x="42.65" y="318.52" font-size="7" font-weight="bold">Արագածոտն</text><text x="93.05" y="302.91" font-size="7.1" font-weight="bold">լեռ.</text><text x="121.05" y="294.84" font-size="7.2">գիշ.</text><text x="121.05" y="310.59" font-size="7.2">ցեր.</text><text x="93.05" y="334.42" font-size="7.1" font-weight="bold">նախ.</text><text x="121.05" y="326.34" font-size="7.2">գիշ.</text><text x="121.05" y="342.09" font-size="7.2">ցեր.</text><text x="42.65" y="381.52" font-size="7" font-weight="bold">Արարատ</text><text x="93.05" y="365.92" font-size="7.1" font-weight="bold">նախ.</text><text x="121.05" y="357.84" font-size="7.2">գիշ.</text><text x="121.05" y="373.59" font-size="7.2">ցեր.</text><text x="93.05" y="397.42" font-size="7.1" font-weight="bold">հով.</text><text x="121.05" y="389.35" font-size="7.2">գիշ.</text><text x="121.05" y="405.1" font-size="7.2">ցեր.</text><text x="42.65" y="428.77" font-size="7" font-weight="bold">Արմավիր</text><text x="105.5" y="420.85" font-size="7.2">գիշ.</text><text x="105.5" y="436.6" font-size="7.2">ցեր.</text><text x="42.65" y="476.03" font-size="7" font-weight="bold">Վայոց ձոր</text><text x="93.05" y="460.42" font-size="7.1" font-weight="bold">լեռ.</text><text x="121.05" y="452.35" font-size="7.2">գիշ.</text><text x="121.05" y="468.1" font-size="7.2">ցեր.</text><text x="93.05" y="491.93" font-size="7.1" font-weight="bold">նախ.</text><text x="121.05" y="483.85" font-size="7.2">գիշ.</text><text x="121.05" y="499.6" font-size="7.2">ցեր.</text><text x="42.65" y="554.78" font-size="7" font-weight="bold">Սյունիք</text><text x="93.05" y="523.43" font-size="7.1" font-weight="bold">լեռ.</text><text x="121.05" y="515.35" font-size="7.2">գիշ.</text><text x="121.05" y="531.1" font-size="7.2">ցեր.</text><text x="93.05" y="554.93" font-size="7.1" font-weight="bold">նախ.</text><text x="121.05" y="546.86" font-size="7.2">գիշ.</text><text x="121.05" y="562.61" font-size="7.2">ցեր.</text><text x="93.05" y="586.43" font-size="7.1" font-weight="bold">հով.</text><text x="121.05" y="578.36" font-size="7.2">գիշ.</text><text x="121.05" y="594.11" font-size="7.2">ցեր.</text><text x="155.65" y="90.08" font-size="7.05" font-weight="bold">-1...-4</text><text x="245.95" y="74.33" font-size="7.05" font-weight="bold">-6...-11</text><text x="245.95" y="90.08" font-size="7.05" font-weight="bold">-1...-4</text><text x="343.8" y="74.33" font-size="7.05" font-weight="bold">-10...-14</text><text x="343.8" y="90.08" font-size="7.05" font-weight="bold">0...-3</text><text x="442.25" y="74.33" font-size="7.05" font-weight="bold">-12...-17</text><text x="442.25" y="90.08" font-size="7.05" font-weight="bold">-2...+2</text><text x="541.35" y="74.33" font-size="7.05" font-weight="bold">-5...-9</text><text x="541.35" y="90.08" font-size="7.05" font-weight="bold">0...-3</text><text x="637.45" y="74.33" font-size="7.05" font-weight="bold">-4...-8</text><text x="637.45" y="90.08" font-size="7.05" font-weight="bold">0...-3</text><text x="155.65" y="121.58" font-size="7.05" font-weight="bold">-1...-4</text><text x="245.95" y="105.83" font-size="7.05" font-weight="bold">-7...-10</text><text x="245.95" y="121.58" font-size="7.05" font-weight="bold">-1...-4</text><text x="343.8" y="105.83" font-size="7.05" font-weight="bold">-10...-13</text><text x="343.8" y="121.58" font-size="7.05" font-weight="bold">-2...+1</text><text x="442.25" y="105.83" font-size="7.05" font-weight="bold">-13...-16</text><text x="442.25" y="121.58" font-size="7.05" font-weight="bold">-1...+2</text><text x="541.35" y="105.83" font-size="7.05" font-weight="bold">-5...-8</text><text x="541.35" y="121.58" font-size="7.05" font-weight="bold">0...-3</text><text x="637.45" y="105.83" font-size="7.05" font-weight="bold">-4...-7</text><text x="637.45" y="121.58" font-size="7.05" font-weight="bold">0...-3</text><text x="155.65" y="153.08" font-size="7.05" font-weight="bold">0...+3</text><text x="245.95" y="137.33" font-size="7.05" font-weight="bold">-2...-5</text><text x="245.95" y="153.08" font-size="7.05" font-weight="bold">0...+3</text><text x="343.8" y="137.33" font-size="7.05" font-weight="bold">-3...-6</text><text x="343.8" y="153.08" font-size="7.05" font-weight="bold">+1...+4</text><text x="442.25" y="137.33" font-size="7.05" font-weight="bold">-4...-7</text><text x="442.25" y="153.08" font-size="7.05" font-weight="bold">+3...+6</text><text x="541.35" y="137.33" font-size="7.05" font-weight="bold">-1...-4</text><text x="541.35" y="153.08" font-size="7.05" font-weight="bold">+1...+3</text><text x="637.45" y="137.33" font-size="7.05" font-weight="bold">0...-3</text><text x="637.45" y="153.08" font-size="7.05" font-weight="bold">+1...+3</text><text x="155.65" y="184.58" font-size="7.05" font-weight="bold">0...-3</text><text x="245.95" y="168.83" font-size="7.05" font-weight="bold">-6...-11</text><text x="245.95" y="184.58" font-size="7.05" font-weight="bold">0...-4</text><text x="343.8" y="168.83" font-size="7.05" font-weight="bold">-9...-13</text><text x="343.8" y="184.58" font-size="7.05" font-weight="bold">0...-3</text><text x="442.25" y="168.83" font-size="7.05" font-weight="bold">-11...-16</text><text x="442.25" y="184.58" font-size="7.05" font-weight="bold">-2...+3</text><text x="541.35" y="168.83" font-size="7.05" font-weight="bold">-5...-8</text><text x="541.35" y="184.58" font-size="7.05" font-weight="bold">0...-3</text><text x="637.45" y="168.83" font-size="7.05" font-weight="bold">-4...-8</text><text x="637.45" y="184.58" font-size="7.05" font-weight="bold">0...-3</text><text x="155.65" y="216.08" font-size="7.05" font-weight="bold">-2...+1</text><text x="245.95" y="200.33" font-size="7.05" font-weight="bold">-5...-9</text><text x="245.95" y="216.08" font-size="7.05" font-weight="bold">-2...+2</text><text x="343.8" y="200.33" font-size="7.05" font-weight="bold">-7...-11</text><text x="343.8" y="216.08" font-size="7.05" font-weight="bold">-2...+3</text><text x="442.25" y="200.33" font-size="7.05" font-weight="bold">-10...-15</text><text x="442.25" y="216.08" font-size="7.05" font-weight="bold">+2...+5</text><text x="541.35" y="200.33" font-size="7.05" font-weight="bold">-4...-7</text><text x="541.35" y="216.08" font-size="7.05" font-weight="bold">-2...+2</text><text x="637.45" y="200.33" font-size="7.05" font-weight="bold">-5...-8</text><text x="637.45" y="216.08" font-size="7.05" font-weight="bold">-2...+3</text><text x="155.65" y="247.59" font-size="7.05" font-weight="bold">-1...+2</text><text x="245.95" y="231.84" font-size="7.05" font-weight="bold">-4...-8</text><text x="245.95" y="247.59" font-size="7.05" font-weight="bold">-1...+3</text><text x="343.8" y="231.84" font-size="7.05" font-weight="bold">-6...-9</text><text x="343.8" y="247.59" font-size="7.05" font-weight="bold">-2...+3</text><text x="442.25" y="231.84" font-size="7.05" font-weight="bold">-8...-12</text><text x="442.25" y="247.59" font-size="7.05" font-weight="bold">+2...+6</text><text x="541.35" y="231.84" font-size="7.05" font-weight="bold">-3...-6</text><text x="541.35" y="247.59" font-size="7.05" font-weight="bold">-2...+3</text><text x="637.45" y="231.84" font-size="7.05" font-weight="bold">-4...-8</text><text x="637.45" y="247.59" font-size="7.05" font-weight="bold">-1...+4</text><text x="155.65" y="279.09" font-size="7.05" font-weight="bold">0...+3</text><text x="245.95" y="263.34" font-size="7.05" font-weight="bold">-1...-4</text><text x="245.95" y="279.09" font-size="7.05" font-weight="bold">+2...+5</text><text x="343.8" y="263.34" font-size="7.05" font-weight="bold">-2...-5</text><text x="343.8" y="279.09" font-size="7.05" font-weight="bold">+3...+6</text><text x="442.25" y="263.34" font-size="7.05" font-weight="bold">-2...-6</text><text x="442.25" y="279.09" font-size="7.05" font-weight="bold">+4...+8</text><text x="541.35" y="263.34" font-size="7.05" font-weight="bold">-2...+3</text><text x="541.35" y="279.09" font-size="7.05" font-weight="bold">+3...+6</text><text x="637.45" y="263.34" font-size="7.05" font-weight="bold">-1...-4</text><text x="637.45" y="279.09" font-size="7.05" font-weight="bold">+4...+7</text><text x="155.65" y="310.59" font-size="7.05" font-weight="bold">-1...-4</text><text x="245.95" y="294.84" font-size="7.05" font-weight="bold">-7...-11</text><text x="245.95" y="310.59" font-size="7.05" font-weight="bold">-1...-4</text><text x="343.8" y="294.84" font-size="7.05" font-weight="bold">-10...-14</text><text x="343.8" y="310.59" font-size="7.05" font-weight="bold">0...-3</text><text x="442.25" y="294.84" font-size="7.05" font-weight="bold">-13...-17</text><text x="442.25" y="310.59" font-size="7.05" font-weight="bold">-2...+1</text><text x="541.35" y="294.84" font-size="7.05" font-weight="bold">-5...-8</text><text x="541.35" y="310.59" font-size="7.05" font-weight="bold">0...-3</text><text x="637.45" y="294.84" font-size="7.05" font-weight="bold">-5...-9</text><text x="637.45" y="310.59" font-size="7.05" font-weight="bold">0...-3</text><text x="155.65" y="342.09" font-size="7.05" font-weight="bold">0...+4</text><text x="245.95" y="326.34" font-size="7.05" font-weight="bold">-2...-6</text><text x="245.95" y="342.09" font-size="7.05" font-weight="bold">0...+4</text><text x="343.8" y="326.34" font-size="7.05" font-weight="bold">-3...-7</text><text x="343.8" y="342.09" font-size="7.05" font-weight="bold">+1...+5</text><text x="442.25" y="326.34" font-size="7.05" font-weight="bold">-4...-9</text><text x="442.25" y="342.09" font-size="7.05" font-weight="bold">+2...+7</text><text x="541.35" y="326.34" font-size="7.05" font-weight="bold">-2...-5</text><text x="541.35" y="342.09" font-size="7.05" font-weight="bold">+1...+5</text><text x="637.45" y="326.34" font-size="7.05" font-weight="bold">0...-3</text><text x="637.45" y="342.09" font-size="7.05" font-weight="bold">+1...+5</text><text x="155.65" y="373.59" font-size="7.05" font-weight="bold">+3...+6</text><text x="245.95" y="357.84" font-size="7.05" font-weight="bold">-1...-4</text><text x="245.95" y="373.59" font-size="7.05" font-weight="bold">+3...+6</text><text x="343.8" y="357.84" font-size="7.05" font-weight="bold">-2...-5</text><text x="343.8" y="373.59" font-size="7.05" font-weight="bold">+4...+7</text><text x="442.25" y="357.84" font-size="7.05" font-weight="bold">-3...-6</text><text x="442.25" y="373.59" font-size="7.05" font-weight="bold">+4...+7</text><text x="541.35" y="357.84" font-size="7.05" font-weight="bold">-1...-3</text><text x="541.35" y="373.59" font-size="7.05" font-weight="bold">+3...+6</text><text x="637.45" y="357.84" font-size="7.05" font-weight="bold">0...-2</text><text x="637.45" y="373.59" font-size="7.05" font-weight="bold">+3...+6</text><text x="155.65" y="405.1" font-size="7.05" font-weight="bold">+4...+7</text><text x="245.95" y="389.35" font-size="7.05" font-weight="bold">0...-3</text><text x="245.95" y="405.1" font-size="7.05" font-weight="bold">+4...+7</text><text x="343.8" y="389.35" font-size="7.05" font-weight="bold">-1...-4</text><text x="343.8" y="405.1" font-size="7.05" font-weight="bold">+5...+8</text><text x="442.25" y="389.35" font-size="7.05" font-weight="bold">-2...-5</text><text x="442.25" y="405.1" font-size="7.05" font-weight="bold">+5...+8</text><text x="541.35" y="389.35" font-size="7.05" font-weight="bold">0...-2</text><text x="541.35" y="405.1" font-size="7.05" font-weight="bold">+4...+7</text><text x="637.45" y="389.35" font-size="7.05" font-weight="bold">0...-2</text><text x="637.45" y="405.1" font-size="7.05" font-weight="bold">+3...+7</text><text x="155.65" y="436.6" font-size="7.05" font-weight="bold">+3...+6</text><text x="245.95" y="420.85" font-size="7.05" font-weight="bold">0...-3</text><text x="245.95" y="436.6" font-size="7.05" font-weight="bold">+4...+7</text><text x="343.8" y="420.85" font-size="7.05" font-weight="bold">-1...-4</text><text x="343.8" y="436.6" font-size="7.05" font-weight="bold">+5...+8</text><text x="442.25" y="420.85" font-size="7.05" font-weight="bold">-2...-6</text><text x="442.25" y="436.6" font-size="7.05" font-weight="bold">+5...+8</text><text x="541.35" y="420.85" font-size="7.05" font-weight="bold">0...-2</text><text x="541.35" y="436.6" font-size="7.05" font-weight="bold">+4...+7</text><text x="637.45" y="420.85" font-size="7.05" font-weight="bold">0...-2</text><text x="637.45" y="436.6" font-size="7.05" font-weight="bold">+3...+7</text><text x="155.65" y="468.1" font-size="7.05" font-weight="bold">-1...-4</text><text x="245.95" y="452.35" font-size="7.05" font-weight="bold">-6...-10</text><text x="245.95" y="468.1" font-size="7.05" font-weight="bold">-1...-4</text><text x="343.8" y="452.35" font-size="7.05" font-weight="bold">-9...-13</text><text x="343.8" y="468.1" font-size="7.05" font-weight="bold">0...-3</text><text x="442.25" y="452.35" font-size="7.05" font-weight="bold">-13...-16</text><text x="442.25" y="468.1" font-size="7.05" font-weight="bold">-2...+2</text><text x="541.35" y="452.35" font-size="7.05" font-weight="bold">-6...-9</text><text x="541.35" y="468.1" font-size="7.05" font-weight="bold">0...-3</text><text x="637.45" y="452.35" font-size="7.05" font-weight="bold">-4...-7</text><text x="637.45" y="468.1" font-size="7.05" font-weight="bold">0...-3</text><text x="155.65" y="499.6" font-size="7.05" font-weight="bold">+3...+7</text><text x="245.95" y="483.85" font-size="7.05" font-weight="bold">-1...-4</text><text x="245.95" y="499.6" font-size="7.05" font-weight="bold">+4...+7</text><text x="343.8" y="483.85" font-size="7.05" font-weight="bold">-2...-5</text><text x="343.8" y="499.6" font-size="7.05" font-weight="bold">+3...+6</text><text x="442.25" y="483.85" font-size="7.05" font-weight="bold">-3...-6</text><text x="442.25" y="499.6" font-size="7.05" font-weight="bold">+4...+8</text><text x="541.35" y="483.85" font-size="7.05" font-weight="bold">0...-3</text><text x="541.35" y="499.6" font-size="7.05" font-weight="bold">+3...+6</text><text x="637.45" y="483.85" font-size="7.05" font-weight="bold">-1...-3</text><text x="637.45" y="499.6" font-size="7.05" font-weight="bold">+3...+6</text><text x="155.65" y="531.1" font-size="7.05" font-weight="bold">-2...-5</text><text x="245.95" y="515.35" font-size="7.05" font-weight="bold">-10...-14</text><text x="245.95" y="531.1" font-size="7.05" font-weight="bold">-2...-5</text><text x="343.8" y="515.35" font-size="7.05" font-weight="bold">-10...-14</text><text x="343.8" y="531.1" font-size="7.05" font-weight="bold">-1...-4</text><text x="442.25" y="515.35" font-size="7.05" font-weight="bold">-13...-16</text><text x="442.25" y="531.1" font-size="7.05" font-weight="bold">0...-3</text><text x="541.35" y="515.35" font-size="7.05" font-weight="bold">-6...-10</text><text x="541.35" y="531.1" font-size="7.05" font-weight="bold">0...-3</text><text x="637.45" y="515.35" font-size="7.05" font-weight="bold">-6...-10</text><text x="637.45" y="531.1" font-size="7.05" font-weight="bold">0...-3</text><text x="155.65" y="562.61" font-size="7.05" font-weight="bold">0...-3</text><text x="245.95" y="546.86" font-size="7.05" font-weight="bold">-8...-12</text><text x="245.95" y="562.61" font-size="7.05" font-weight="bold">-3...+2</text><text x="343.8" y="546.86" font-size="7.05" font-weight="bold">-7...-12</text><text x="343.8" y="562.61" font-size="7.05" font-weight="bold">-2...+3</text><text x="442.25" y="546.86" font-size="7.05" font-weight="bold">-10...-15</text><text x="442.25" y="562.61" font-size="7.05" font-weight="bold">+2...+6</text><text x="541.35" y="546.86" font-size="7.05" font-weight="bold">-3...-7</text><text x="541.35" y="562.61" font-size="7.05" font-weight="bold">+1...+5</text><text x="637.45" y="546.86" font-size="7.05" font-weight="bold">-3...-6</text><text x="637.45" y="562.61" font-size="7.05" font-weight="bold">0...+4</text><text x="155.65" y="594.11" font-size="7.05" font-weight="bold">+3...+7</text><text x="245.95" y="578.36" font-size="7.05" font-weight="bold">-1...-5</text><text x="245.95" y="594.11" font-size="7.05" font-weight="bold">+3...+7</text><text x="343.8" y="578.36" font-size="7.05" font-weight="bold">-2...-6</text><text x="343.8" y="594.11" font-size="7.05" font-weight="bold">+4...+8</text><text x="442.25" y="578.36" font-size="7.05" font-weight="bold">-2...-6</text><text x="442.25" y="594.11" font-size="7.05" font-weight="bold">+7...+11</text><text x="541.35" y="578.36" font-size="7.05" font-weight="bold">-1...-4</text><text x="541.35" y="594.11" font-size="7.05" font-weight="bold">+6...+10</text><text x="637.45" y="578.36" font-size="7.05" font-weight="bold">0...-3</text><text x="637.45" y="594.11" font-size="7.05" font-weight="bold">+2...+5</text></g>
</svg>
</body></html>
